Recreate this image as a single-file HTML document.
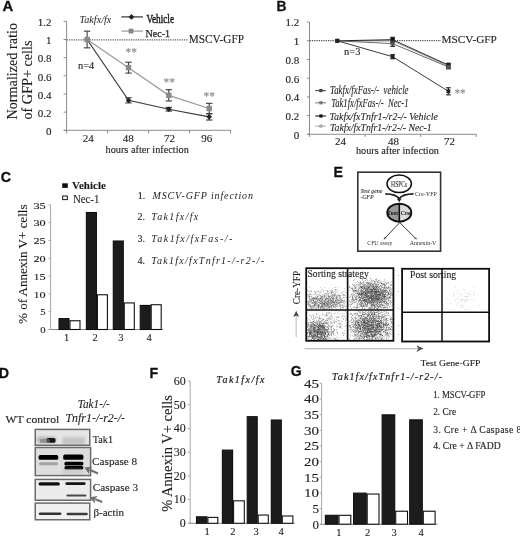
<!DOCTYPE html>
<html><head><meta charset="utf-8"><title>Figure</title>
<style>html,body{margin:0;padding:0;background:#fff;width:520px;height:536px;overflow:hidden}svg{display:block}
</style></head>
<body><svg width="520" height="536" viewBox="0 0 520 536" font-family="Liberation Serif, serif" fill="#1e1e1e">
<defs><filter id="gb" x="0" y="0" width="100%" height="100%"><feGaussianBlur stdDeviation="0.3"/></filter></defs>
<rect width="520" height="536" fill="#fff"/>
<g filter="url(#gb)">
<text x="2.40" y="10.90" font-size="14.8" stroke="#111" stroke-width="0.3" font-family="'Liberation Sans', sans-serif" font-weight="bold" fill="#111">A</text>
<line x1="66.60" y1="21.34" x2="66.60" y2="130.30" stroke="#8c8c8c" stroke-width="1"/>
<line x1="63.80" y1="130.30" x2="231.00" y2="130.30" stroke="#8c8c8c" stroke-width="1"/>
<line x1="63.60" y1="130.30" x2="66.60" y2="130.30" stroke="#8c8c8c" stroke-width="1"/>
<line x1="63.60" y1="112.14" x2="66.60" y2="112.14" stroke="#8c8c8c" stroke-width="1"/>
<line x1="63.60" y1="93.98" x2="66.60" y2="93.98" stroke="#8c8c8c" stroke-width="1"/>
<line x1="63.60" y1="75.82" x2="66.60" y2="75.82" stroke="#8c8c8c" stroke-width="1"/>
<line x1="63.60" y1="57.66" x2="66.60" y2="57.66" stroke="#8c8c8c" stroke-width="1"/>
<line x1="63.60" y1="39.50" x2="66.60" y2="39.50" stroke="#8c8c8c" stroke-width="1"/>
<line x1="63.60" y1="21.34" x2="66.60" y2="21.34" stroke="#8c8c8c" stroke-width="1"/>
<line x1="66.60" y1="130.30" x2="66.60" y2="133.50" stroke="#8c8c8c" stroke-width="1"/>
<line x1="107.60" y1="130.30" x2="107.60" y2="133.50" stroke="#8c8c8c" stroke-width="1"/>
<line x1="148.60" y1="130.30" x2="148.60" y2="133.50" stroke="#8c8c8c" stroke-width="1"/>
<line x1="189.60" y1="130.30" x2="189.60" y2="133.50" stroke="#8c8c8c" stroke-width="1"/>
<line x1="230.60" y1="130.30" x2="230.60" y2="133.50" stroke="#8c8c8c" stroke-width="1"/>
<text x="51.60" y="135.00" font-size="11" stroke="#1e1e1e" stroke-width="0.12" text-anchor="end">0</text>
<text x="51.60" y="116.84" font-size="11" stroke="#1e1e1e" stroke-width="0.12" text-anchor="end">0.2</text>
<text x="51.60" y="98.68" font-size="11" stroke="#1e1e1e" stroke-width="0.12" text-anchor="end">0.4</text>
<text x="51.60" y="80.52" font-size="11" stroke="#1e1e1e" stroke-width="0.12" text-anchor="end">0.6</text>
<text x="51.60" y="62.36" font-size="11" stroke="#1e1e1e" stroke-width="0.12" text-anchor="end">0.8</text>
<text x="51.60" y="44.20" font-size="11" stroke="#1e1e1e" stroke-width="0.12" text-anchor="end">1</text>
<text x="51.60" y="26.04" font-size="11" stroke="#1e1e1e" stroke-width="0.12" text-anchor="end">1.2</text>
<text x="88.20" y="141.90" font-size="11" stroke="#1e1e1e" stroke-width="0.12" text-anchor="middle">24</text>
<text x="128.20" y="141.90" font-size="11" stroke="#1e1e1e" stroke-width="0.12" text-anchor="middle">48</text>
<text x="169.50" y="141.90" font-size="11" stroke="#1e1e1e" stroke-width="0.12" text-anchor="middle">72</text>
<text x="206.80" y="141.90" font-size="11" stroke="#1e1e1e" stroke-width="0.12" text-anchor="middle">96</text>
<text x="105.50" y="153.00" font-size="9.6" stroke="#1e1e1e" stroke-width="0.12" textLength="83.30" lengthAdjust="spacingAndGlyphs">hours after infection</text>
<text x="17.00" y="119.50" font-size="14.2" stroke="#1e1e1e" stroke-width="0.12" textLength="96.50" lengthAdjust="spacingAndGlyphs" transform="rotate(-90 17.00 119.50)">Normalized ratio</text>
<text x="32.00" y="119.50" font-size="14.2" stroke="#1e1e1e" stroke-width="0.12" textLength="79.00" lengthAdjust="spacingAndGlyphs" transform="rotate(-90 32.00 119.50)">of GFP+ cells</text>
<line x1="66.6" y1="39.9" x2="188.5" y2="39.9" stroke="#666" stroke-width="1.3" stroke-dasharray="1.3 1"/>
<text x="188.70" y="42.80" font-size="11.6" stroke="#1e1e1e" stroke-width="0.12" textLength="55.30" lengthAdjust="spacingAndGlyphs">MSCV-GFP</text>
<text x="79.50" y="22.80" font-size="9.6" font-style="italic" textLength="31.80" lengthAdjust="spacingAndGlyphs">Takfx/fx</text>
<text x="78.00" y="68.60" font-size="9.6" stroke="#1e1e1e" stroke-width="0.12" textLength="16.20" lengthAdjust="spacingAndGlyphs">n=4</text>
<line x1="121.40" y1="16.90" x2="143.00" y2="16.90" stroke="#333" stroke-width="1.2"/>
<path d="M131.5 14.0 L134.4 16.9 L131.5 19.8 L128.6 16.9 Z" fill="#222"/>
<text x="146.40" y="22.60" font-size="11.5" stroke="#1e1e1e" stroke-width="0.45" textLength="27.60" lengthAdjust="spacingAndGlyphs">Vehicle</text>
<line x1="121.40" y1="31.10" x2="143.00" y2="31.10" stroke="#9a9a9a" stroke-width="1.2"/>
<rect x="128.60" y="28.70" width="4.80" height="4.80" fill="#888"/>
<text x="145.50" y="36.70" font-size="11.2" stroke="#1e1e1e" stroke-width="0.25" textLength="24.60" lengthAdjust="spacingAndGlyphs">Nec-1</text>
<polyline points="87.10,39.50 128.50,67.65 168.80,95.34 209.20,108.51" fill="none" stroke="#9a9a9a" stroke-width="1.2"/>
<polyline points="87.10,39.50 128.50,100.34 168.80,109.23 209.20,116.86" fill="none" stroke="#3a3a3a" stroke-width="1.2"/>
<path d="M87.10 36.70 L89.90 39.50 L87.10 42.30 L84.30 39.50 Z" fill="#222"/>
<line x1="128.50" y1="97.79" x2="128.50" y2="102.88" stroke="#333" stroke-width="1.1"/>
<line x1="125.30" y1="97.79" x2="131.70" y2="97.79" stroke="#333" stroke-width="1.1"/>
<line x1="125.30" y1="102.88" x2="131.70" y2="102.88" stroke="#333" stroke-width="1.1"/>
<path d="M128.50 97.54 L131.30 100.34 L128.50 103.14 L125.70 100.34 Z" fill="#222"/>
<line x1="168.80" y1="107.42" x2="168.80" y2="111.05" stroke="#333" stroke-width="1.1"/>
<line x1="165.60" y1="107.42" x2="172.00" y2="107.42" stroke="#333" stroke-width="1.1"/>
<line x1="165.60" y1="111.05" x2="172.00" y2="111.05" stroke="#333" stroke-width="1.1"/>
<path d="M168.80 106.43 L171.60 109.23 L168.80 112.03 L166.00 109.23 Z" fill="#222"/>
<line x1="209.20" y1="113.68" x2="209.20" y2="120.04" stroke="#333" stroke-width="1.1"/>
<line x1="206.00" y1="113.68" x2="212.40" y2="113.68" stroke="#333" stroke-width="1.1"/>
<line x1="206.00" y1="120.04" x2="212.40" y2="120.04" stroke="#333" stroke-width="1.1"/>
<path d="M209.20 114.06 L212.00 116.86 L209.20 119.66 L206.40 116.86 Z" fill="#222"/>
<line x1="87.10" y1="31.15" x2="87.10" y2="47.85" stroke="#3a3a3a" stroke-width="1.1"/>
<line x1="83.90" y1="31.15" x2="90.30" y2="31.15" stroke="#3a3a3a" stroke-width="1.1"/>
<line x1="83.90" y1="47.85" x2="90.30" y2="47.85" stroke="#3a3a3a" stroke-width="1.1"/>
<rect x="84.40" y="36.80" width="5.40" height="5.40" fill="#8a8a8a"/>
<line x1="128.50" y1="62.20" x2="128.50" y2="73.10" stroke="#3a3a3a" stroke-width="1.1"/>
<line x1="125.30" y1="62.20" x2="131.70" y2="62.20" stroke="#3a3a3a" stroke-width="1.1"/>
<line x1="125.30" y1="73.10" x2="131.70" y2="73.10" stroke="#3a3a3a" stroke-width="1.1"/>
<rect x="125.80" y="64.95" width="5.40" height="5.40" fill="#8a8a8a"/>
<line x1="168.80" y1="89.71" x2="168.80" y2="100.97" stroke="#3a3a3a" stroke-width="1.1"/>
<line x1="165.60" y1="89.71" x2="172.00" y2="89.71" stroke="#3a3a3a" stroke-width="1.1"/>
<line x1="165.60" y1="100.97" x2="172.00" y2="100.97" stroke="#3a3a3a" stroke-width="1.1"/>
<rect x="166.10" y="92.64" width="5.40" height="5.40" fill="#8a8a8a"/>
<line x1="209.20" y1="103.33" x2="209.20" y2="113.68" stroke="#3a3a3a" stroke-width="1.1"/>
<line x1="206.00" y1="103.33" x2="212.40" y2="103.33" stroke="#3a3a3a" stroke-width="1.1"/>
<line x1="206.00" y1="113.68" x2="212.40" y2="113.68" stroke="#3a3a3a" stroke-width="1.1"/>
<rect x="206.50" y="105.81" width="5.40" height="5.40" fill="#8a8a8a"/>
<text x="131.30" y="55.60" font-size="12" stroke="#8a8a8a" stroke-width="0.12" text-anchor="middle" fill="#8a8a8a" textLength="11.40" lengthAdjust="spacingAndGlyphs">**</text>
<text x="169.30" y="86.20" font-size="12" stroke="#8a8a8a" stroke-width="0.12" text-anchor="middle" fill="#8a8a8a" textLength="11.40" lengthAdjust="spacingAndGlyphs">**</text>
<text x="209.30" y="99.90" font-size="12" stroke="#8a8a8a" stroke-width="0.12" text-anchor="middle" fill="#8a8a8a" textLength="11.40" lengthAdjust="spacingAndGlyphs">**</text>
<text x="276.60" y="10.80" font-size="13.8" stroke="#111" stroke-width="0.3" font-family="'Liberation Sans', sans-serif" font-weight="bold" fill="#111">B</text>
<line x1="309.50" y1="22.10" x2="309.50" y2="134.30" stroke="#8c8c8c" stroke-width="1"/>
<line x1="307.20" y1="134.30" x2="476.50" y2="134.30" stroke="#8c8c8c" stroke-width="1"/>
<line x1="306.80" y1="134.30" x2="309.50" y2="134.30" stroke="#8c8c8c" stroke-width="1"/>
<line x1="306.80" y1="115.60" x2="309.50" y2="115.60" stroke="#8c8c8c" stroke-width="1"/>
<line x1="306.80" y1="96.90" x2="309.50" y2="96.90" stroke="#8c8c8c" stroke-width="1"/>
<line x1="306.80" y1="78.20" x2="309.50" y2="78.20" stroke="#8c8c8c" stroke-width="1"/>
<line x1="306.80" y1="59.50" x2="309.50" y2="59.50" stroke="#8c8c8c" stroke-width="1"/>
<line x1="306.80" y1="40.80" x2="309.50" y2="40.80" stroke="#8c8c8c" stroke-width="1"/>
<line x1="306.80" y1="22.10" x2="309.50" y2="22.10" stroke="#8c8c8c" stroke-width="1"/>
<line x1="309.50" y1="134.30" x2="309.50" y2="136.90" stroke="#8c8c8c" stroke-width="1"/>
<line x1="365.10" y1="134.30" x2="365.10" y2="136.90" stroke="#8c8c8c" stroke-width="1"/>
<line x1="420.70" y1="134.30" x2="420.70" y2="136.90" stroke="#8c8c8c" stroke-width="1"/>
<line x1="476.30" y1="134.30" x2="476.30" y2="136.90" stroke="#8c8c8c" stroke-width="1"/>
<text x="299.20" y="138.60" font-size="11" stroke="#1e1e1e" stroke-width="0.12" text-anchor="end">0</text>
<text x="299.20" y="119.90" font-size="11" stroke="#1e1e1e" stroke-width="0.12" text-anchor="end">0.2</text>
<text x="299.20" y="101.20" font-size="11" stroke="#1e1e1e" stroke-width="0.12" text-anchor="end">0.4</text>
<text x="299.20" y="82.50" font-size="11" stroke="#1e1e1e" stroke-width="0.12" text-anchor="end">0.6</text>
<text x="299.20" y="63.80" font-size="11" stroke="#1e1e1e" stroke-width="0.12" text-anchor="end">0.8</text>
<text x="299.20" y="45.10" font-size="11" stroke="#1e1e1e" stroke-width="0.12" text-anchor="end">1</text>
<text x="299.20" y="26.40" font-size="11" stroke="#1e1e1e" stroke-width="0.12" text-anchor="end">1.2</text>
<text x="340.60" y="144.60" font-size="11" stroke="#1e1e1e" stroke-width="0.12" text-anchor="middle">24</text>
<text x="393.40" y="144.60" font-size="11" stroke="#1e1e1e" stroke-width="0.12" text-anchor="middle">48</text>
<text x="449.60" y="144.60" font-size="11" stroke="#1e1e1e" stroke-width="0.12" text-anchor="middle">72</text>
<text x="355.90" y="154.40" font-size="9.6" stroke="#1e1e1e" stroke-width="0.12" textLength="83.00" lengthAdjust="spacingAndGlyphs">hours after infection</text>
<line x1="309.5" y1="40.60" x2="441" y2="40.60" stroke="#555" stroke-width="1.3" stroke-dasharray="1.3 1"/>
<text x="441.40" y="42.80" font-size="11" stroke="#1e1e1e" stroke-width="0.12" textLength="55.50" lengthAdjust="spacingAndGlyphs">MSCV-GFP</text>
<text x="344.00" y="54.80" font-size="9.6" stroke="#1e1e1e" stroke-width="0.12" textLength="16.40" lengthAdjust="spacingAndGlyphs">n=3</text>
<polyline points="337.30,40.80 392.60,40.80 448.40,66.05" fill="none" stroke="#a0a0a0" stroke-width="1.0"/>
<polyline points="337.30,40.80 392.60,39.68 448.40,65.11" fill="none" stroke="#2a2a2a" stroke-width="1.0"/>
<polyline points="337.30,40.80 392.60,43.61 448.40,66.98" fill="none" stroke="#6a6a6a" stroke-width="1.0"/>
<polyline points="337.30,40.80 392.60,56.70 448.40,91.29" fill="none" stroke="#3a3a3a" stroke-width="1.0"/>
<rect x="335.40" y="38.90" width="3.80" height="3.80" fill="#999"/>
<line x1="392.60" y1="38.93" x2="392.60" y2="42.67" stroke="#333" stroke-width="1.2"/>
<line x1="390.20" y1="38.93" x2="395.00" y2="38.93" stroke="#333" stroke-width="1.2"/>
<line x1="390.20" y1="42.67" x2="395.00" y2="42.67" stroke="#333" stroke-width="1.2"/>
<rect x="390.70" y="38.90" width="3.80" height="3.80" fill="#999"/>
<line x1="448.40" y1="64.18" x2="448.40" y2="67.92" stroke="#333" stroke-width="1.2"/>
<line x1="446.00" y1="64.18" x2="450.80" y2="64.18" stroke="#333" stroke-width="1.2"/>
<line x1="446.00" y1="67.92" x2="450.80" y2="67.92" stroke="#333" stroke-width="1.2"/>
<rect x="446.50" y="64.15" width="3.80" height="3.80" fill="#999"/>
<rect x="335.40" y="38.90" width="3.80" height="3.80" fill="#111"/>
<line x1="392.60" y1="37.34" x2="392.60" y2="42.02" stroke="#333" stroke-width="1.2"/>
<line x1="390.20" y1="37.34" x2="395.00" y2="37.34" stroke="#333" stroke-width="1.2"/>
<line x1="390.20" y1="42.02" x2="395.00" y2="42.02" stroke="#333" stroke-width="1.2"/>
<rect x="390.70" y="37.78" width="3.80" height="3.80" fill="#111"/>
<line x1="448.40" y1="63.24" x2="448.40" y2="66.98" stroke="#333" stroke-width="1.2"/>
<line x1="446.00" y1="63.24" x2="450.80" y2="63.24" stroke="#333" stroke-width="1.2"/>
<line x1="446.00" y1="66.98" x2="450.80" y2="66.98" stroke="#333" stroke-width="1.2"/>
<rect x="446.50" y="63.21" width="3.80" height="3.80" fill="#111"/>
<rect x="335.40" y="38.90" width="3.80" height="3.80" fill="#555"/>
<line x1="392.60" y1="40.80" x2="392.60" y2="46.41" stroke="#333" stroke-width="1.2"/>
<line x1="390.20" y1="40.80" x2="395.00" y2="40.80" stroke="#333" stroke-width="1.2"/>
<line x1="390.20" y1="46.41" x2="395.00" y2="46.41" stroke="#333" stroke-width="1.2"/>
<rect x="390.70" y="41.71" width="3.80" height="3.80" fill="#555"/>
<line x1="448.40" y1="65.11" x2="448.40" y2="68.85" stroke="#333" stroke-width="1.2"/>
<line x1="446.00" y1="65.11" x2="450.80" y2="65.11" stroke="#333" stroke-width="1.2"/>
<line x1="446.00" y1="68.85" x2="450.80" y2="68.85" stroke="#333" stroke-width="1.2"/>
<rect x="446.50" y="65.08" width="3.80" height="3.80" fill="#555"/>
<rect x="335.40" y="38.90" width="3.80" height="3.80" fill="#222"/>
<line x1="392.60" y1="54.64" x2="392.60" y2="58.75" stroke="#333" stroke-width="1.2"/>
<line x1="390.20" y1="54.64" x2="395.00" y2="54.64" stroke="#333" stroke-width="1.2"/>
<line x1="390.20" y1="58.75" x2="395.00" y2="58.75" stroke="#333" stroke-width="1.2"/>
<rect x="390.70" y="54.80" width="3.80" height="3.80" fill="#222"/>
<line x1="448.40" y1="87.74" x2="448.40" y2="94.84" stroke="#333" stroke-width="1.2"/>
<line x1="446.00" y1="87.74" x2="450.80" y2="87.74" stroke="#333" stroke-width="1.2"/>
<line x1="446.00" y1="94.84" x2="450.80" y2="94.84" stroke="#333" stroke-width="1.2"/>
<rect x="446.50" y="89.39" width="3.80" height="3.80" fill="#222"/>
<text x="460.10" y="96.50" font-size="12" stroke="#8a8a8a" stroke-width="0.12" text-anchor="middle" fill="#8a8a8a" textLength="11.20" lengthAdjust="spacingAndGlyphs">**</text>
<line x1="315.30" y1="90.60" x2="325.90" y2="90.60" stroke="#444" stroke-width="1.1"/>
<rect x="319.30" y="89.00" width="3.20" height="3.20" fill="#444"/>
<text x="330.10" y="93.90" font-size="12" stroke="#1e1e1e" stroke-width="0.1" font-style="italic" textLength="78.40" lengthAdjust="spacingAndGlyphs">Takfx/fxFas-/-  vehicle</text>
<line x1="315.30" y1="102.80" x2="325.90" y2="102.80" stroke="#777" stroke-width="1.1"/>
<rect x="319.30" y="101.20" width="3.20" height="3.20" fill="#777"/>
<text x="331.20" y="107.00" font-size="12" stroke="#1e1e1e" stroke-width="0.1" font-style="italic" textLength="77.30" lengthAdjust="spacingAndGlyphs">Tak1fx/fxFas-/-  Nec-1</text>
<line x1="315.30" y1="116.00" x2="325.90" y2="116.00" stroke="#111" stroke-width="1.1"/>
<rect x="319.30" y="114.40" width="3.20" height="3.20" fill="#111"/>
<text x="329.50" y="119.90" font-size="11.2" stroke="#1e1e1e" stroke-width="0.1" font-style="italic" textLength="108.40" lengthAdjust="spacingAndGlyphs">Takfx/fxTnfr1-/r2-/- Vehicle</text>
<line x1="315.30" y1="126.10" x2="325.90" y2="126.10" stroke="#aaa" stroke-width="1.1"/>
<rect x="319.30" y="124.50" width="3.20" height="3.20" fill="#aaa"/>
<text x="330.00" y="130.70" font-size="11.2" stroke="#1e1e1e" stroke-width="0.1" font-style="italic" textLength="101.70" lengthAdjust="spacingAndGlyphs">Takfx/fxTnfr1-/r2-/- Nec-1</text>
<text x="0.80" y="181.80" font-size="14.2" stroke="#111" stroke-width="0.3" font-family="'Liberation Sans', sans-serif" font-weight="bold" fill="#111">C</text>
<line x1="50.60" y1="204.90" x2="50.60" y2="329.50" stroke="#a8a8a8" stroke-width="1"/>
<line x1="48.50" y1="329.50" x2="163.00" y2="329.50" stroke="#888" stroke-width="1.1"/>
<line x1="48.60" y1="329.50" x2="50.60" y2="329.50" stroke="#a8a8a8" stroke-width="1"/>
<line x1="48.60" y1="311.70" x2="50.60" y2="311.70" stroke="#a8a8a8" stroke-width="1"/>
<line x1="48.60" y1="293.90" x2="50.60" y2="293.90" stroke="#a8a8a8" stroke-width="1"/>
<line x1="48.60" y1="276.10" x2="50.60" y2="276.10" stroke="#a8a8a8" stroke-width="1"/>
<line x1="48.60" y1="258.30" x2="50.60" y2="258.30" stroke="#a8a8a8" stroke-width="1"/>
<line x1="48.60" y1="240.50" x2="50.60" y2="240.50" stroke="#a8a8a8" stroke-width="1"/>
<line x1="48.60" y1="222.70" x2="50.60" y2="222.70" stroke="#a8a8a8" stroke-width="1"/>
<line x1="48.60" y1="204.90" x2="50.60" y2="204.90" stroke="#a8a8a8" stroke-width="1"/>
<text x="45.60" y="333.10" font-size="9" stroke="#1e1e1e" stroke-width="0.12" text-anchor="end" textLength="5.30" lengthAdjust="spacingAndGlyphs">0</text>
<text x="45.60" y="315.30" font-size="9" stroke="#1e1e1e" stroke-width="0.12" text-anchor="end" textLength="5.30" lengthAdjust="spacingAndGlyphs">5</text>
<text x="45.60" y="297.50" font-size="9" stroke="#1e1e1e" stroke-width="0.12" text-anchor="end" textLength="12.20" lengthAdjust="spacingAndGlyphs">10</text>
<text x="45.60" y="279.70" font-size="9" stroke="#1e1e1e" stroke-width="0.12" text-anchor="end" textLength="12.20" lengthAdjust="spacingAndGlyphs">15</text>
<text x="45.60" y="261.90" font-size="9" stroke="#1e1e1e" stroke-width="0.12" text-anchor="end" textLength="12.20" lengthAdjust="spacingAndGlyphs">20</text>
<text x="45.60" y="244.10" font-size="9" stroke="#1e1e1e" stroke-width="0.12" text-anchor="end" textLength="12.20" lengthAdjust="spacingAndGlyphs">25</text>
<text x="45.60" y="226.30" font-size="9" stroke="#1e1e1e" stroke-width="0.12" text-anchor="end" textLength="12.20" lengthAdjust="spacingAndGlyphs">30</text>
<text x="45.60" y="208.50" font-size="9" stroke="#1e1e1e" stroke-width="0.12" text-anchor="end" textLength="12.20" lengthAdjust="spacingAndGlyphs">35</text>
<text x="26.80" y="324.00" font-size="13.5" stroke="#1e1e1e" stroke-width="0.12" textLength="119.50" lengthAdjust="spacingAndGlyphs" transform="rotate(-90 26.80 324.00)">% of Annexin V+ cells</text>
<rect x="59.00" y="318.61" width="10.00" height="10.89" fill="#1f1f1f" stroke="#111" stroke-width="1.1"/>
<rect x="70.00" y="320.74" width="10.00" height="8.76" fill="#fff" stroke="#111" stroke-width="1.1"/>
<rect x="86.40" y="212.52" width="10.00" height="116.98" fill="#1f1f1f" stroke="#111" stroke-width="1.1"/>
<rect x="97.40" y="294.76" width="10.00" height="34.74" fill="#fff" stroke="#111" stroke-width="1.1"/>
<rect x="113.30" y="241.00" width="10.00" height="88.50" fill="#1f1f1f" stroke="#111" stroke-width="1.1"/>
<rect x="124.30" y="302.94" width="10.00" height="26.56" fill="#fff" stroke="#111" stroke-width="1.1"/>
<rect x="140.20" y="305.44" width="10.00" height="24.06" fill="#1f1f1f" stroke="#111" stroke-width="1.1"/>
<rect x="151.20" y="304.72" width="10.00" height="24.78" fill="#fff" stroke="#111" stroke-width="1.1"/>
<text x="66.70" y="341.00" font-size="10.5" stroke="#1e1e1e" stroke-width="0.12" text-anchor="middle">1</text>
<text x="95.20" y="341.00" font-size="10.5" stroke="#1e1e1e" stroke-width="0.12" text-anchor="middle">2</text>
<text x="120.90" y="341.00" font-size="10.5" stroke="#1e1e1e" stroke-width="0.12" text-anchor="middle">3</text>
<text x="149.20" y="341.00" font-size="10.5" stroke="#1e1e1e" stroke-width="0.12" text-anchor="middle">4</text>
<rect x="62.20" y="183.30" width="5.60" height="4.60" fill="#111"/>
<text x="72.10" y="188.50" font-size="10.4" stroke="#1e1e1e" stroke-width="0.12" font-weight="bold" textLength="33.70" lengthAdjust="spacingAndGlyphs">Vehicle</text>
<rect x="62.70" y="196.00" width="4.60" height="3.60" fill="#fff" stroke="#111" stroke-width="1"/>
<text x="72.90" y="202.60" font-size="11.5" stroke="#1e1e1e" stroke-width="0.12" textLength="26.50" lengthAdjust="spacingAndGlyphs">Nec-1</text>
<text x="137.80" y="199.10" font-size="10" stroke="#1e1e1e" stroke-width="0.12">1.</text>
<text x="152.50" y="199.10" font-size="10" font-style="italic" textLength="100.40" lengthAdjust="spacing">MSCV-GFP infection</text>
<text x="137.40" y="220.30" font-size="10" stroke="#1e1e1e" stroke-width="0.12">2.</text>
<text x="151.20" y="220.30" font-size="10" font-style="italic" textLength="47.10" lengthAdjust="spacing">Tak1fx/fx</text>
<text x="137.40" y="241.80" font-size="10" stroke="#1e1e1e" stroke-width="0.12">3.</text>
<text x="151.20" y="241.80" font-size="10" font-style="italic" textLength="81.10" lengthAdjust="spacing">Tak1fx/fxFas-/-</text>
<text x="137.40" y="263.90" font-size="10" stroke="#1e1e1e" stroke-width="0.12">4.</text>
<text x="151.20" y="263.90" font-size="10" font-style="italic" textLength="112.80" lengthAdjust="spacing">Tak1fx/fxTnfr1-/-r2-/-</text>
<text x="-1.20" y="377.80" font-size="14.2" stroke="#111" stroke-width="0.3" font-family="'Liberation Sans', sans-serif" font-weight="bold" fill="#111">D</text>
<text x="77.80" y="407.80" font-size="12" stroke="#1e1e1e" stroke-width="0.1" font-style="italic" textLength="32.00" lengthAdjust="spacingAndGlyphs">Tak1-/-</text>
<text x="5.50" y="423.00" font-size="10" stroke="#1e1e1e" stroke-width="0.12" textLength="53.70" lengthAdjust="spacingAndGlyphs">WT control</text>
<text x="65.50" y="422.00" font-size="12" stroke="#1e1e1e" stroke-width="0.1" font-style="italic" textLength="59.50" lengthAdjust="spacingAndGlyphs">Tnfr1-/-r2-/-</text>
<defs><filter id="bl" x="-30%" y="-150%" width="160%" height="400%"><feGaussianBlur stdDeviation="0.75"/></filter><filter id="bl2" x="-30%" y="-60%" width="160%" height="220%"><feGaussianBlur stdDeviation="1.8"/></filter><filter id="sb" x="-5%" y="-5%" width="110%" height="110%"><feGaussianBlur stdDeviation="0.35"/></filter></defs>
<rect x="35.25" y="429.40" width="54.50" height="15.85" fill="#e6e6e6"/>
<rect x="35.25" y="447.50" width="55.35" height="28.10" fill="#dedede"/>
<rect x="35.25" y="479.40" width="55.35" height="20.85" fill="#ececec"/>
<rect x="35.25" y="503.10" width="54.50" height="16.65" fill="#f0f0f0"/>
<rect x="37.00" y="436.50" width="19.00" height="6.50" rx="1.60" fill="#999" opacity="0.6" filter="url(#bl2)"/>
<rect x="46.50" y="438.00" width="9.00" height="4.80" rx="1.60" fill="#111" opacity="0.95" filter="url(#bl)"/>
<rect x="40.00" y="439.00" width="10.00" height="4.00" rx="1.60" fill="#777" opacity="0.6" filter="url(#bl)"/>
<rect x="62.00" y="437.00" width="23.00" height="8.00" rx="1.60" fill="#aaa" opacity="0.55" filter="url(#bl2)"/>
<rect x="38.60" y="455.00" width="19.60" height="4.80" rx="1.60" fill="#060606" opacity="1" filter="url(#bl)"/>
<rect x="63.20" y="454.40" width="20.20" height="5.40" rx="1.60" fill="#040404" opacity="1" filter="url(#bl)"/>
<rect x="39.00" y="462.30" width="19.00" height="2.90" rx="1.45" fill="#999" opacity="0.85" filter="url(#bl)"/>
<rect x="64.40" y="461.70" width="19.00" height="3.80" rx="1.60" fill="#050505" opacity="1" filter="url(#bl)"/>
<rect x="64.40" y="466.10" width="19.00" height="3.40" rx="1.60" fill="#050505" opacity="1" filter="url(#bl)"/>
<rect x="62.00" y="469.00" width="22.00" height="6.00" rx="1.60" fill="#bbb" opacity="0.45" filter="url(#bl2)"/>
<rect x="38.60" y="482.20" width="21.20" height="3.40" rx="1.60" fill="#0c0c0c" opacity="1" filter="url(#bl)"/>
<rect x="65.40" y="482.20" width="20.20" height="2.70" rx="1.35" fill="#151515" opacity="1" filter="url(#bl)"/>
<rect x="66.30" y="494.40" width="20.20" height="2.20" rx="1.10" fill="#4a4a4a" opacity="1" filter="url(#bl)"/>
<rect x="38.80" y="512.40" width="22.70" height="2.60" rx="1.30" fill="#333" opacity="1" filter="url(#bl)"/>
<rect x="66.50" y="512.80" width="21.30" height="2.40" rx="1.20" fill="#3a3a3a" opacity="1" filter="url(#bl)"/>
<rect x="35.25" y="429.40" width="54.50" height="15.85" fill="none" stroke="#6a6a6a" stroke-width="1.5"/>
<rect x="35.25" y="447.50" width="55.35" height="28.10" fill="none" stroke="#6a6a6a" stroke-width="1.5"/>
<rect x="35.25" y="479.40" width="55.35" height="20.85" fill="none" stroke="#6a6a6a" stroke-width="1.5"/>
<rect x="35.25" y="503.10" width="54.50" height="16.65" fill="none" stroke="#6a6a6a" stroke-width="1.5"/>
<text x="92.80" y="443.10" font-size="11" stroke="#1e1e1e" stroke-width="0.12" textLength="20.20" lengthAdjust="spacingAndGlyphs">Tak1</text>
<text x="92.10" y="465.00" font-size="11" stroke="#1e1e1e" stroke-width="0.12" textLength="45.10" lengthAdjust="spacingAndGlyphs">Caspase 8</text>
<text x="92.80" y="490.60" font-size="11" stroke="#1e1e1e" stroke-width="0.12" textLength="45.30" lengthAdjust="spacingAndGlyphs">Caspase 3</text>
<text x="93.40" y="516.30" font-size="11" stroke="#1e1e1e" stroke-width="0.12" textLength="30.70" lengthAdjust="spacingAndGlyphs">β-actin</text>
<line x1="98.00" y1="473.60" x2="89.77" y2="469.87" stroke="#707070" stroke-width="2.2"/>
<path d="M84.30 467.40 L92.33 466.64 L89.31 469.67 L89.03 473.93 Z" fill="#707070"/>
<line x1="102.20" y1="502.00" x2="95.21" y2="499.34" stroke="#707070" stroke-width="2.2"/>
<path d="M89.60 497.20 L97.57 495.95 L94.74 499.16 L94.72 503.43 Z" fill="#707070"/>
<text x="333.40" y="176.50" font-size="14.2" stroke="#111" stroke-width="0.3" font-family="'Liberation Sans', sans-serif" font-weight="bold" fill="#111">E</text>
<rect x="357.80" y="172.20" width="82.80" height="79.00" fill="#fff" stroke="#333" stroke-width="1.6"/>
<ellipse cx="399.2" cy="183.8" rx="12.2" ry="8.8" fill="#fff" stroke="#111" stroke-width="1.5"/>
<text x="399.20" y="187.00" font-size="7.8" stroke="#333" stroke-width="0.12" text-anchor="middle" fill="#333" textLength="16.20" lengthAdjust="spacingAndGlyphs">HSPCs</text>
<path d="M385.3 193.8 Q396 194 399.2 198.5 Q402.4 194 413.6 193.8" fill="none" stroke="#222" stroke-width="1.8"/>
<path d="M396.8 198.6 L401.6 198.6 L399.2 202.2 Z" fill="#222"/>
<text x="360.20" y="193.30" font-size="6.8" font-style="italic" font-weight="bold" fill="#444" textLength="22.40" lengthAdjust="spacingAndGlyphs">Test gene</text>
<text x="360.30" y="199.20" font-size="6.8" font-style="italic" font-weight="bold" fill="#444" textLength="13.20" lengthAdjust="spacingAndGlyphs">-GFP</text>
<text x="415.00" y="195.60" font-size="7" fill="#333" textLength="22.00" lengthAdjust="spacingAndGlyphs">Cre-YFP</text>
<path d="M399.3 203.7 A12 9 0 0 0 399.3 221.7 Z" fill="#9a9a9a"/>
<path d="M399.3 203.7 A12 9 0 0 1 399.3 221.7 Z" fill="#dcdcdc"/>
<ellipse cx="399.3" cy="212.7" rx="12" ry="9" fill="none" stroke="#111" stroke-width="1.9"/>
<line x1="399.30" y1="203.70" x2="399.30" y2="221.70" stroke="#111" stroke-width="1.6"/>
<text x="392.60" y="214.80" font-size="6.2" stroke="#111" stroke-width="0.12" text-anchor="middle" fill="#111" textLength="11.00" lengthAdjust="spacingAndGlyphs">Test</text>
<text x="405.40" y="214.80" font-size="6.2" stroke="#111" stroke-width="0.12" text-anchor="middle" fill="#111" textLength="9.50" lengthAdjust="spacingAndGlyphs">Cre</text>
<line x1="399.70" y1="222.60" x2="384.98" y2="238.15" stroke="#222" stroke-width="0.9"/>
<path d="M383.60 239.60 L384.50 236.32 L384.63 238.51 L386.82 238.52 Z" fill="#222"/>
<line x1="399.70" y1="222.60" x2="415.38" y2="238.19" stroke="#222" stroke-width="0.9"/>
<path d="M416.80 239.60 L413.54 238.62 L415.74 238.54 L415.80 236.35 Z" fill="#222"/>
<text x="367.30" y="245.20" font-size="6.6" fill="#333" textLength="25.20" lengthAdjust="spacingAndGlyphs">CFU assay</text>
<text x="409.80" y="245.20" font-size="6.6" fill="#333" textLength="26.60" lengthAdjust="spacingAndGlyphs">Annexin-V</text>
<path d="M318.9 304.8h.6v.6h-.6zM319.3 300.3h.6v.6h-.6zM310.8 300.8h.6v.6h-.6zM335.3 304.3h.6v.6h-.6zM334.4 303.4h.6v.6h-.6zM326.7 303.0h.6v.6h-.6zM328.1 304.7h.6v.6h-.6zM311.3 299.4h.6v.6h-.6zM325.7 301.7h.6v.6h-.6zM328.3 298.5h.6v.6h-.6zM325.7 304.2h.6v.6h-.6zM328.7 308.6h.6v.6h-.6zM314.6 297.9h.6v.6h-.6zM317.9 301.4h.6v.6h-.6zM329.6 303.4h.6v.6h-.6zM316.6 296.7h.6v.6h-.6zM315.8 308.7h.6v.6h-.6zM312.3 303.3h.6v.6h-.6zM327.1 293.8h.6v.6h-.6zM320.7 297.5h.6v.6h-.6zM328.0 301.7h.6v.6h-.6zM330.0 307.2h.6v.6h-.6zM339.3 304.0h.6v.6h-.6zM323.4 294.9h.6v.6h-.6zM329.4 298.6h.6v.6h-.6zM316.6 295.0h.6v.6h-.6zM310.4 299.1h.6v.6h-.6zM337.5 290.8h.6v.6h-.6zM339.3 305.2h.6v.6h-.6zM326.3 298.0h.6v.6h-.6zM308.6 307.4h.6v.6h-.6zM335.2 302.9h.6v.6h-.6zM324.9 304.4h.6v.6h-.6zM341.1 305.4h.6v.6h-.6zM328.2 305.0h.6v.6h-.6zM333.5 304.9h.6v.6h-.6zM332.1 292.0h.6v.6h-.6zM319.8 307.6h.6v.6h-.6zM328.6 301.2h.6v.6h-.6zM325.9 305.6h.6v.6h-.6zM323.4 308.3h.6v.6h-.6zM314.1 299.7h.6v.6h-.6zM334.5 302.1h.6v.6h-.6zM311.4 307.2h.6v.6h-.6zM339.6 299.6h.6v.6h-.6zM320.2 300.4h.6v.6h-.6zM338.9 296.4h.6v.6h-.6zM337.1 295.0h.6v.6h-.6zM312.6 305.5h.6v.6h-.6zM335.5 306.7h.6v.6h-.6zM326.1 302.8h.6v.6h-.6zM323.8 305.2h.6v.6h-.6zM319.9 303.5h.6v.6h-.6zM328.9 302.0h.6v.6h-.6zM331.2 305.1h.6v.6h-.6zM316.9 300.0h.6v.6h-.6zM321.8 307.1h.6v.6h-.6zM318.0 304.1h.6v.6h-.6zM344.0 287.9h.6v.6h-.6zM308.5 303.3h.6v.6h-.6zM326.8 303.3h.6v.6h-.6zM316.8 305.6h.6v.6h-.6zM325.4 299.1h.6v.6h-.6zM315.3 301.5h.6v.6h-.6zM319.3 301.7h.6v.6h-.6zM334.1 295.6h.6v.6h-.6zM321.2 307.2h.6v.6h-.6zM317.9 305.4h.6v.6h-.6zM335.1 287.2h.6v.6h-.6zM335.1 294.0h.6v.6h-.6zM330.2 293.8h.6v.6h-.6zM324.1 308.6h.6v.6h-.6zM320.2 303.1h.6v.6h-.6zM331.6 302.8h.6v.6h-.6zM334.6 300.4h.6v.6h-.6zM333.0 300.5h.6v.6h-.6zM323.6 305.9h.6v.6h-.6zM324.7 305.5h.6v.6h-.6zM329.4 296.7h.6v.6h-.6zM309.7 293.9h.6v.6h-.6zM337.2 306.1h.6v.6h-.6zM339.7 296.8h.6v.6h-.6zM322.0 295.7h.6v.6h-.6zM333.9 301.0h.6v.6h-.6zM320.8 298.7h.6v.6h-.6zM326.8 304.3h.6v.6h-.6zM340.0 296.4h.6v.6h-.6zM339.4 301.0h.6v.6h-.6zM313.1 307.6h.6v.6h-.6zM323.4 302.7h.6v.6h-.6zM339.1 300.6h.6v.6h-.6zM325.8 298.6h.6v.6h-.6zM321.9 306.6h.6v.6h-.6zM321.3 307.7h.6v.6h-.6zM313.9 306.8h.6v.6h-.6zM307.2 301.9h.6v.6h-.6zM319.7 301.8h.6v.6h-.6zM314.9 303.3h.6v.6h-.6zM343.5 302.2h.6v.6h-.6zM328.4 307.5h.6v.6h-.6zM319.6 295.1h.6v.6h-.6zM315.3 307.9h.6v.6h-.6zM334.1 306.4h.6v.6h-.6zM322.1 306.4h.6v.6h-.6zM324.0 295.5h.6v.6h-.6zM333.1 298.9h.6v.6h-.6zM311.2 297.8h.6v.6h-.6zM307.8 304.0h.6v.6h-.6zM314.3 291.3h.6v.6h-.6zM330.7 300.5h.6v.6h-.6zM325.5 299.5h.6v.6h-.6zM331.4 306.1h.6v.6h-.6zM330.0 303.8h.6v.6h-.6zM338.0 305.6h.6v.6h-.6zM327.4 290.5h.6v.6h-.6zM318.4 299.4h.6v.6h-.6zM345.3 292.3h.6v.6h-.6zM310.9 305.8h.6v.6h-.6zM344.6 301.3h.6v.6h-.6zM328.7 307.0h.6v.6h-.6zM311.1 301.5h.6v.6h-.6zM325.5 306.5h.6v.6h-.6zM321.6 300.9h.6v.6h-.6zM309.8 300.0h.6v.6h-.6zM332.7 302.6h.6v.6h-.6zM311.8 297.4h.6v.6h-.6zM329.6 287.7h.6v.6h-.6zM329.5 304.6h.6v.6h-.6zM342.2 304.4h.6v.6h-.6zM321.2 304.9h.6v.6h-.6zM325.9 298.1h.6v.6h-.6zM325.5 303.0h.6v.6h-.6zM317.2 296.6h.6v.6h-.6zM307.7 294.6h.6v.6h-.6zM342.4 307.4h.6v.6h-.6zM343.9 306.5h.6v.6h-.6zM311.5 303.4h.6v.6h-.6zM321.3 304.9h.6v.6h-.6zM313.3 301.3h.6v.6h-.6zM327.5 304.1h.6v.6h-.6zM329.7 303.1h.6v.6h-.6zM318.1 306.3h.6v.6h-.6zM322.6 297.5h.6v.6h-.6zM314.5 302.0h.6v.6h-.6zM320.7 302.9h.6v.6h-.6zM322.0 303.0h.6v.6h-.6zM320.4 295.1h.6v.6h-.6zM327.1 307.8h.6v.6h-.6zM327.2 301.0h.6v.6h-.6zM327.4 296.7h.6v.6h-.6zM310.8 306.1h.6v.6h-.6zM309.0 287.5h.6v.6h-.6zM317.4 294.5h.6v.6h-.6zM312.8 304.9h.6v.6h-.6zM328.0 303.0h.6v.6h-.6zM339.8 305.9h.6v.6h-.6zM321.7 305.3h.6v.6h-.6zM341.9 307.3h.6v.6h-.6zM334.3 296.0h.6v.6h-.6zM320.2 306.0h.6v.6h-.6zM318.4 307.9h.6v.6h-.6zM329.2 307.0h.6v.6h-.6zM336.9 300.8h.6v.6h-.6zM317.9 306.8h.6v.6h-.6zM333.8 302.0h.6v.6h-.6zM308.0 303.0h.6v.6h-.6zM326.3 308.2h.6v.6h-.6zM331.4 302.1h.6v.6h-.6zM332.2 305.0h.6v.6h-.6zM324.5 302.3h.6v.6h-.6zM319.1 305.8h.6v.6h-.6zM309.3 298.5h.6v.6h-.6zM322.1 293.9h.6v.6h-.6zM316.8 291.0h.6v.6h-.6zM313.8 305.1h.6v.6h-.6zM328.8 301.7h.6v.6h-.6zM319.2 294.2h.6v.6h-.6zM343.9 304.8h.6v.6h-.6zM335.1 297.1h.6v.6h-.6zM319.8 292.0h.6v.6h-.6zM331.4 307.1h.6v.6h-.6zM329.6 292.3h.6v.6h-.6zM314.4 294.3h.6v.6h-.6zM322.4 303.4h.6v.6h-.6zM329.6 305.9h.6v.6h-.6zM340.0 308.4h.6v.6h-.6zM309.3 296.1h.6v.6h-.6zM321.0 302.0h.6v.6h-.6zM327.9 293.3h.6v.6h-.6zM307.1 301.9h.6v.6h-.6zM319.6 300.3h.6v.6h-.6zM321.2 297.8h.6v.6h-.6zM330.4 303.9h.6v.6h-.6zM320.9 298.3h.6v.6h-.6zM319.9 287.0h.6v.6h-.6zM310.2 302.2h.6v.6h-.6zM323.8 294.4h.6v.6h-.6zM319.0 300.3h.6v.6h-.6zM327.5 305.4h.6v.6h-.6zM321.6 297.3h.6v.6h-.6zM320.3 301.6h.6v.6h-.6zM330.8 303.6h.6v.6h-.6zM313.3 294.6h.6v.6h-.6zM317.5 297.9h.6v.6h-.6zM308.7 301.4h.6v.6h-.6zM316.1 302.6h.6v.6h-.6zM328.3 299.7h.6v.6h-.6zM335.2 302.7h.6v.6h-.6zM335.4 288.9h.6v.6h-.6zM313.0 303.4h.6v.6h-.6zM331.2 307.2h.6v.6h-.6zM328.1 301.1h.6v.6h-.6zM328.1 296.1h.6v.6h-.6zM336.2 296.4h.6v.6h-.6zM319.3 302.1h.6v.6h-.6zM336.0 302.1h.6v.6h-.6zM312.3 303.4h.6v.6h-.6zM329.0 305.9h.6v.6h-.6zM342.0 302.1h.6v.6h-.6zM325.2 299.6h.6v.6h-.6zM339.0 298.1h.6v.6h-.6zM330.1 299.4h.6v.6h-.6zM313.7 306.0h.6v.6h-.6zM338.0 301.9h.6v.6h-.6zM313.9 306.5h.6v.6h-.6zM321.4 303.7h.6v.6h-.6zM340.3 308.2h.6v.6h-.6zM322.0 306.3h.6v.6h-.6zM314.2 301.8h.6v.6h-.6zM338.4 295.3h.6v.6h-.6zM336.1 299.5h.6v.6h-.6zM321.3 300.3h.6v.6h-.6zM320.5 296.0h.6v.6h-.6zM322.3 294.1h.6v.6h-.6zM321.1 303.7h.6v.6h-.6zM327.6 300.7h.6v.6h-.6zM311.2 302.9h.6v.6h-.6zM331.2 301.4h.6v.6h-.6zM316.3 298.1h.6v.6h-.6zM310.8 300.1h.6v.6h-.6zM325.5 304.8h.6v.6h-.6zM313.5 302.1h.6v.6h-.6zM315.7 302.9h.6v.6h-.6zM323.9 304.2h.6v.6h-.6zM319.1 304.0h.6v.6h-.6zM322.6 306.2h.6v.6h-.6zM322.0 296.3h.6v.6h-.6zM309.5 305.5h.6v.6h-.6zM314.2 305.5h.6v.6h-.6zM330.9 303.7h.6v.6h-.6zM328.1 301.4h.6v.6h-.6zM327.5 299.1h.6v.6h-.6zM320.8 306.1h.6v.6h-.6zM311.5 305.5h.6v.6h-.6zM344.4 298.9h.6v.6h-.6zM323.8 301.2h.6v.6h-.6zM340.5 303.7h.6v.6h-.6zM332.8 298.2h.6v.6h-.6zM321.8 301.9h.6v.6h-.6zM332.8 292.4h.6v.6h-.6zM330.9 301.3h.6v.6h-.6zM327.4 304.0h.6v.6h-.6zM339.9 298.8h.6v.6h-.6zM309.7 294.5h.6v.6h-.6zM307.3 303.8h.6v.6h-.6zM342.3 304.4h.6v.6h-.6zM315.8 298.3h.6v.6h-.6zM328.3 305.0h.6v.6h-.6zM309.8 295.6h.6v.6h-.6zM325.5 303.4h.6v.6h-.6zM315.5 304.5h.6v.6h-.6zM320.6 301.5h.6v.6h-.6zM317.8 307.8h.6v.6h-.6zM338.7 300.0h.6v.6h-.6zM332.2 297.8h.6v.6h-.6zM322.9 306.1h.6v.6h-.6zM340.2 299.9h.6v.6h-.6zM321.1 303.1h.6v.6h-.6zM313.9 304.0h.6v.6h-.6zM308.4 291.1h.6v.6h-.6zM322.5 303.4h.6v.6h-.6zM315.4 306.9h.6v.6h-.6zM318.7 298.7h.6v.6h-.6zM327.7 293.4h.6v.6h-.6zM313.9 301.9h.6v.6h-.6zM332.2 301.1h.6v.6h-.6zM325.7 298.4h.6v.6h-.6zM314.3 302.1h.6v.6h-.6zM324.1 307.6h.6v.6h-.6zM307.2 290.4h.6v.6h-.6zM329.3 306.4h.6v.6h-.6zM324.5 303.4h.6v.6h-.6zM333.2 304.0h.6v.6h-.6zM342.0 295.2h.6v.6h-.6zM331.7 300.0h.6v.6h-.6zM321.9 300.6h.6v.6h-.6zM316.0 297.4h.6v.6h-.6zM314.4 305.5h.6v.6h-.6zM322.4 302.4h.6v.6h-.6zM319.9 307.0h.6v.6h-.6zM327.9 301.2h.6v.6h-.6zM330.0 301.2h.6v.6h-.6zM327.6 296.7h.6v.6h-.6zM334.9 303.9h.6v.6h-.6zM326.0 306.9h.6v.6h-.6zM324.4 301.2h.6v.6h-.6zM322.4 300.4h.6v.6h-.6zM326.2 302.4h.6v.6h-.6zM330.1 300.0h.6v.6h-.6zM321.6 290.2h.6v.6h-.6zM316.9 305.7h.6v.6h-.6zM338.0 300.0h.6v.6h-.6zM318.1 306.0h.6v.6h-.6zM342.1 302.2h.6v.6h-.6zM336.7 298.1h.6v.6h-.6zM324.5 301.6h.6v.6h-.6zM323.4 308.2h.6v.6h-.6zM315.1 304.7h.6v.6h-.6zM309.3 304.7h.6v.6h-.6zM328.9 300.5h.6v.6h-.6zM328.4 293.5h.6v.6h-.6zM331.1 293.5h.6v.6h-.6zM313.6 298.9h.6v.6h-.6zM317.2 306.7h.6v.6h-.6zM323.0 299.8h.6v.6h-.6zM322.1 304.0h.6v.6h-.6zM336.9 303.5h.6v.6h-.6zM321.5 304.3h.6v.6h-.6zM333.6 305.7h.6v.6h-.6zM318.7 296.2h.6v.6h-.6zM323.2 307.7h.6v.6h-.6zM308.9 296.4h.6v.6h-.6zM321.7 291.3h.6v.6h-.6zM318.9 299.6h.6v.6h-.6zM327.4 298.1h.6v.6h-.6zM311.4 299.8h.6v.6h-.6zM321.4 298.3h.6v.6h-.6zM322.1 306.1h.6v.6h-.6zM312.6 299.7h.6v.6h-.6zM313.3 301.8h.6v.6h-.6zM328.3 294.5h.6v.6h-.6zM327.6 301.9h.6v.6h-.6zM336.3 291.7h.6v.6h-.6zM331.7 303.2h.6v.6h-.6zM327.7 304.4h.6v.6h-.6zM337.6 300.8h.6v.6h-.6zM332.5 299.7h.6v.6h-.6zM330.7 297.5h.6v.6h-.6zM327.3 301.1h.6v.6h-.6zM308.3 297.7h.6v.6h-.6zM324.3 307.2h.6v.6h-.6zM327.1 304.9h.6v.6h-.6zM317.3 299.0h.6v.6h-.6zM332.7 302.3h.6v.6h-.6zM318.7 298.8h.6v.6h-.6zM318.9 305.4h.6v.6h-.6zM326.2 295.3h.6v.6h-.6zM327.1 303.0h.6v.6h-.6zM310.0 306.3h.6v.6h-.6zM318.6 300.2h.6v.6h-.6zM313.7 304.4h.6v.6h-.6zM316.1 308.6h.6v.6h-.6zM314.2 306.5h.6v.6h-.6zM316.8 304.8h.6v.6h-.6zM320.9 298.3h.6v.6h-.6zM315.1 302.8h.6v.6h-.6zM337.1 302.6h.6v.6h-.6zM336.2 306.1h.6v.6h-.6zM312.2 306.7h.6v.6h-.6zM328.0 305.6h.6v.6h-.6zM332.8 306.0h.6v.6h-.6zM332.6 288.5h.6v.6h-.6zM324.0 304.7h.6v.6h-.6zM318.0 302.2h.6v.6h-.6zM332.6 299.6h.6v.6h-.6zM335.8 297.7h.6v.6h-.6zM325.2 299.1h.6v.6h-.6zM323.9 298.2h.6v.6h-.6zM325.6 298.9h.6v.6h-.6zM324.4 307.4h.6v.6h-.6zM310.3 301.4h.6v.6h-.6zM328.5 304.9h.6v.6h-.6zM318.0 290.4h.6v.6h-.6zM336.9 303.8h.6v.6h-.6zM322.2 300.5h.6v.6h-.6zM325.2 299.7h.6v.6h-.6zM309.7 297.9h.6v.6h-.6zM314.8 298.6h.6v.6h-.6zM308.1 305.5h.6v.6h-.6zM309.8 303.9h.6v.6h-.6zM338.5 303.1h.6v.6h-.6zM313.2 302.3h.6v.6h-.6zM323.8 292.5h.6v.6h-.6zM314.7 302.9h.6v.6h-.6zM316.4 302.4h.6v.6h-.6zM330.8 306.2h.6v.6h-.6zM332.9 305.2h.6v.6h-.6zM318.5 301.9h.6v.6h-.6zM318.7 300.3h.6v.6h-.6zM319.8 292.5h.6v.6h-.6zM318.0 301.9h.6v.6h-.6zM310.3 301.9h.6v.6h-.6zM328.2 301.1h.6v.6h-.6zM319.5 292.0h.6v.6h-.6zM328.2 300.3h.6v.6h-.6zM328.6 289.7h.6v.6h-.6zM332.2 304.0h.6v.6h-.6zM322.3 298.8h.6v.6h-.6zM329.7 299.3h.6v.6h-.6zM324.7 299.2h.6v.6h-.6zM324.4 306.1h.6v.6h-.6zM311.5 301.8h.6v.6h-.6zM329.4 302.8h.6v.6h-.6zM311.1 291.4h.6v.6h-.6zM333.1 306.5h.6v.6h-.6zM314.6 298.1h.6v.6h-.6zM332.7 297.0h.6v.6h-.6zM313.8 298.0h.6v.6h-.6zM324.8 297.9h.6v.6h-.6zM337.7 301.6h.6v.6h-.6zM315.0 303.2h.6v.6h-.6zM321.8 300.3h.6v.6h-.6zM325.9 298.2h.6v.6h-.6zM321.7 302.3h.6v.6h-.6zM328.7 302.7h.6v.6h-.6zM312.5 298.1h.6v.6h-.6zM327.8 304.9h.6v.6h-.6zM320.5 301.0h.6v.6h-.6zM333.2 302.1h.6v.6h-.6zM330.9 305.2h.6v.6h-.6zM315.1 300.0h.6v.6h-.6zM312.3 297.6h.6v.6h-.6zM322.3 305.1h.6v.6h-.6zM336.1 306.4h.6v.6h-.6zM336.5 295.1h.6v.6h-.6zM314.3 304.5h.6v.6h-.6zM339.2 302.6h.6v.6h-.6zM311.7 300.1h.6v.6h-.6zM314.1 297.3h.6v.6h-.6zM340.0 298.6h.6v.6h-.6zM336.2 303.8h.6v.6h-.6zM314.7 304.3h.6v.6h-.6zM341.5 305.4h.6v.6h-.6zM337.1 302.5h.6v.6h-.6zM328.2 300.9h.6v.6h-.6zM324.9 298.9h.6v.6h-.6zM318.3 306.3h.6v.6h-.6zM325.9 293.5h.6v.6h-.6zM345.1 302.4h.6v.6h-.6zM321.6 295.8h.6v.6h-.6zM321.3 296.0h.6v.6h-.6zM322.9 304.6h.6v.6h-.6zM322.4 303.5h.6v.6h-.6zM314.2 292.0h.6v.6h-.6zM319.7 297.8h.6v.6h-.6zM309.9 300.0h.6v.6h-.6zM325.5 295.5h.6v.6h-.6zM330.2 301.2h.6v.6h-.6zM323.5 301.3h.6v.6h-.6zM321.4 306.0h.6v.6h-.6zM320.9 288.8h.6v.6h-.6zM321.7 297.1h.6v.6h-.6zM329.8 298.6h.6v.6h-.6zM309.4 295.8h.6v.6h-.6zM314.3 291.7h.6v.6h-.6zM312.7 300.0h.6v.6h-.6zM345.3 307.7h.6v.6h-.6zM323.7 303.0h.6v.6h-.6zM318.3 304.5h.6v.6h-.6zM325.4 302.3h.6v.6h-.6zM316.0 294.7h.6v.6h-.6zM315.6 293.5h.6v.6h-.6zM336.7 305.0h.6v.6h-.6zM332.7 291.5h.6v.6h-.6zM344.1 306.5h.6v.6h-.6zM328.4 304.3h.6v.6h-.6zM324.4 302.9h.6v.6h-.6zM334.6 293.8h.6v.6h-.6zM307.1 294.3h.6v.6h-.6zM315.3 298.7h.6v.6h-.6zM326.4 303.5h.6v.6h-.6zM322.4 298.3h.6v.6h-.6zM316.7 307.2h.6v.6h-.6zM331.2 302.6h.6v.6h-.6zM314.9 305.6h.6v.6h-.6zM335.8 300.5h.6v.6h-.6zM331.9 295.9h.6v.6h-.6zM334.2 303.1h.6v.6h-.6zM313.9 301.1h.6v.6h-.6zM325.4 300.2h.6v.6h-.6zM325.1 299.0h.6v.6h-.6zM330.1 302.0h.6v.6h-.6zM324.5 286.9h.6v.6h-.6zM335.9 302.2h.6v.6h-.6zM327.6 307.9h.6v.6h-.6zM320.2 305.7h.6v.6h-.6zM317.6 295.9h.6v.6h-.6zM335.2 307.0h.6v.6h-.6zM340.5 306.7h.6v.6h-.6zM315.1 292.9h.6v.6h-.6zM314.2 298.3h.6v.6h-.6zM312.2 305.2h.6v.6h-.6zM325.9 300.5h.6v.6h-.6zM324.1 301.2h.6v.6h-.6zM324.6 306.1h.6v.6h-.6zM333.5 298.2h.6v.6h-.6zM323.4 308.1h.6v.6h-.6zM322.3 294.1h.6v.6h-.6zM315.8 306.0h.6v.6h-.6zM311.6 294.3h.6v.6h-.6zM328.2 307.2h.6v.6h-.6zM324.3 294.8h.6v.6h-.6zM331.4 306.4h.6v.6h-.6zM328.6 299.3h.6v.6h-.6zM325.6 306.3h.6v.6h-.6zM315.3 291.9h.6v.6h-.6zM325.9 304.6h.6v.6h-.6zM322.2 306.9h.6v.6h-.6zM315.0 301.5h.6v.6h-.6zM318.3 305.1h.6v.6h-.6zM341.1 300.6h.6v.6h-.6zM331.5 305.2h.6v.6h-.6zM343.2 301.0h.6v.6h-.6zM320.7 296.2h.6v.6h-.6zM328.4 304.3h.6v.6h-.6zM319.6 302.9h.6v.6h-.6zM317.1 295.9h.6v.6h-.6zM313.0 297.5h.6v.6h-.6zM332.3 307.8h.6v.6h-.6zM332.7 298.8h.6v.6h-.6zM314.4 303.9h.6v.6h-.6zM317.7 290.8h.6v.6h-.6zM324.8 293.6h.6v.6h-.6zM332.9 295.4h.6v.6h-.6zM313.7 297.3h.6v.6h-.6zM332.2 305.3h.6v.6h-.6zM325.8 293.5h.6v.6h-.6zM315.8 299.0h.6v.6h-.6zM310.3 304.8h.6v.6h-.6zM313.1 298.1h.6v.6h-.6zM309.5 290.7h.6v.6h-.6zM324.1 296.6h.6v.6h-.6zM336.6 303.6h.6v.6h-.6zM335.5 299.6h.6v.6h-.6zM334.6 306.3h.6v.6h-.6zM328.9 296.1h.6v.6h-.6zM319.5 303.5h.6v.6h-.6zM320.2 307.5h.6v.6h-.6zM334.5 302.5h.6v.6h-.6zM316.4 305.5h.6v.6h-.6zM335.7 299.5h.6v.6h-.6zM315.6 304.4h.6v.6h-.6zM336.3 308.9h.6v.6h-.6zM328.2 294.7h.6v.6h-.6zM311.7 308.3h.6v.6h-.6zM331.2 292.8h.6v.6h-.6zM312.2 302.9h.6v.6h-.6zM316.1 301.2h.6v.6h-.6zM327.6 297.5h.6v.6h-.6zM327.6 298.5h.6v.6h-.6zM315.5 305.0h.6v.6h-.6zM315.1 303.6h.6v.6h-.6zM341.2 302.1h.6v.6h-.6zM320.2 306.0h.6v.6h-.6zM317.6 308.0h.6v.6h-.6zM315.9 297.6h.6v.6h-.6zM343.2 297.3h.6v.6h-.6zM343.1 305.6h.6v.6h-.6zM339.4 296.6h.6v.6h-.6zM320.6 301.3h.6v.6h-.6zM316.9 298.5h.6v.6h-.6zM327.4 303.8h.6v.6h-.6zM318.1 304.6h.6v.6h-.6zM339.5 296.5h.6v.6h-.6zM309.5 291.8h.6v.6h-.6zM327.4 291.8h.6v.6h-.6zM313.2 300.5h.6v.6h-.6zM322.7 305.0h.6v.6h-.6zM317.8 302.1h.6v.6h-.6zM315.4 302.6h.6v.6h-.6zM307.9 302.3h.6v.6h-.6zM345.0 302.4h.6v.6h-.6zM310.3 292.9h.6v.6h-.6zM313.2 306.1h.6v.6h-.6zM326.6 301.5h.6v.6h-.6zM310.9 296.1h.6v.6h-.6zM338.2 303.3h.6v.6h-.6zM310.6 290.4h.6v.6h-.6zM308.2 301.6h.6v.6h-.6zM324.5 301.1h.6v.6h-.6zM318.7 294.4h.6v.6h-.6zM312.9 306.7h.6v.6h-.6zM325.1 307.7h.6v.6h-.6zM308.5 305.3h.6v.6h-.6zM326.6 297.9h.6v.6h-.6zM327.7 297.1h.6v.6h-.6zM312.4 301.9h.6v.6h-.6zM310.0 294.0h.6v.6h-.6zM316.9 306.2h.6v.6h-.6zM317.1 309.0h.6v.6h-.6zM308.1 294.8h.6v.6h-.6zM340.6 304.2h.6v.6h-.6zM333.3 297.5h.6v.6h-.6zM331.7 303.4h.6v.6h-.6zM329.8 302.1h.6v.6h-.6zM336.5 298.4h.6v.6h-.6zM310.4 293.9h.6v.6h-.6zM335.9 297.9h.6v.6h-.6zM309.5 296.8h.6v.6h-.6zM316.7 295.0h.6v.6h-.6zM318.5 298.6h.6v.6h-.6zM315.4 296.7h.6v.6h-.6zM322.4 299.5h.6v.6h-.6zM323.4 303.4h.6v.6h-.6zM326.1 290.0h.6v.6h-.6zM315.6 297.6h.6v.6h-.6zM331.3 293.3h.6v.6h-.6zM313.4 300.4h.6v.6h-.6zM318.0 307.5h.6v.6h-.6zM316.7 307.3h.6v.6h-.6zM336.6 304.4h.6v.6h-.6zM327.9 302.7h.6v.6h-.6zM327.8 295.3h.6v.6h-.6zM333.4 299.1h.6v.6h-.6zM333.8 302.5h.6v.6h-.6zM335.5 301.2h.6v.6h-.6zM317.3 303.3h.6v.6h-.6zM316.9 299.0h.6v.6h-.6zM323.2 302.8h.6v.6h-.6zM340.2 302.3h.6v.6h-.6zM342.6 307.8h.6v.6h-.6zM323.6 302.8h.6v.6h-.6zM320.3 298.0h.6v.6h-.6zM321.2 298.5h.6v.6h-.6zM341.7 304.9h.6v.6h-.6zM316.6 291.5h.6v.6h-.6zM321.4 299.7h.6v.6h-.6zM309.0 295.7h.6v.6h-.6zM321.6 301.2h.6v.6h-.6zM339.3 302.7h.6v.6h-.6zM324.0 300.0h.6v.6h-.6zM317.8 302.2h.6v.6h-.6zM311.4 307.3h.6v.6h-.6zM310.7 308.0h.6v.6h-.6zM313.4 297.8h.6v.6h-.6zM341.8 298.7h.6v.6h-.6zM312.9 300.1h.6v.6h-.6zM315.5 292.1h.6v.6h-.6zM313.9 308.5h.6v.6h-.6zM344.4 300.5h.6v.6h-.6zM313.7 299.2h.6v.6h-.6zM309.0 307.8h.6v.6h-.6zM325.5 297.8h.6v.6h-.6zM331.4 302.0h.6v.6h-.6zM307.9 305.4h.6v.6h-.6zM332.1 291.5h.6v.6h-.6zM343.9 304.7h.6v.6h-.6zM331.1 291.8h.6v.6h-.6zM313.4 300.1h.6v.6h-.6zM334.9 294.0h.6v.6h-.6zM311.4 290.8h.6v.6h-.6zM319.1 303.9h.6v.6h-.6zM330.0 300.3h.6v.6h-.6zM307.9 296.8h.6v.6h-.6zM314.0 302.8h.6v.6h-.6zM325.4 296.1h.6v.6h-.6zM340.5 307.2h.6v.6h-.6zM323.2 298.0h.6v.6h-.6zM332.9 297.6h.6v.6h-.6zM324.9 305.3h.6v.6h-.6zM311.9 307.4h.6v.6h-.6zM310.2 305.8h.6v.6h-.6zM324.1 303.3h.6v.6h-.6zM333.6 301.9h.6v.6h-.6zM335.3 306.8h.6v.6h-.6zM323.6 298.9h.6v.6h-.6zM313.0 299.1h.6v.6h-.6zM319.6 301.9h.6v.6h-.6zM331.2 297.3h.6v.6h-.6zM313.5 300.2h.6v.6h-.6zM324.3 296.3h.6v.6h-.6zM341.3 298.9h.6v.6h-.6zM334.9 289.2h.6v.6h-.6zM321.9 303.5h.6v.6h-.6zM324.3 305.3h.6v.6h-.6zM325.4 302.9h.6v.6h-.6zM325.7 300.9h.6v.6h-.6zM312.1 298.8h.6v.6h-.6zM316.2 297.2h.6v.6h-.6zM315.3 303.0h.6v.6h-.6zM322.6 303.5h.6v.6h-.6zM321.6 307.1h.6v.6h-.6zM343.3 295.2h.6v.6h-.6zM323.9 300.5h.6v.6h-.6zM326.3 293.6h.6v.6h-.6zM328.3 303.1h.6v.6h-.6zM322.9 289.0h.6v.6h-.6zM317.5 297.8h.6v.6h-.6zM330.4 305.0h.6v.6h-.6zM321.7 304.8h.6v.6h-.6zM314.8 302.4h.6v.6h-.6zM322.5 305.0h.6v.6h-.6zM321.2 301.2h.6v.6h-.6zM320.4 298.5h.6v.6h-.6zM338.8 293.4h.6v.6h-.6zM330.3 306.6h.6v.6h-.6zM331.2 295.5h.6v.6h-.6zM311.6 303.5h.6v.6h-.6zM328.1 296.4h.6v.6h-.6zM317.4 299.8h.6v.6h-.6zM322.7 303.8h.6v.6h-.6zM318.6 295.2h.6v.6h-.6zM320.7 307.6h.6v.6h-.6zM327.3 305.6h.6v.6h-.6zM327.8 297.8h.6v.6h-.6zM328.9 307.6h.6v.6h-.6zM345.9 306.1h.6v.6h-.6zM317.9 298.7h.6v.6h-.6zM312.2 302.6h.6v.6h-.6zM321.6 305.7h.6v.6h-.6zM330.1 304.6h.6v.6h-.6zM325.3 300.9h.6v.6h-.6zM320.5 297.5h.6v.6h-.6zM324.1 301.9h.6v.6h-.6zM325.8 297.3h.6v.6h-.6zM322.5 302.3h.6v.6h-.6zM329.3 296.2h.6v.6h-.6zM327.0 307.4h.6v.6h-.6zM329.2 300.0h.6v.6h-.6zM316.1 300.7h.6v.6h-.6zM320.1 298.5h.6v.6h-.6zM326.5 303.1h.6v.6h-.6zM311.1 297.9h.6v.6h-.6zM320.8 305.7h.6v.6h-.6zM307.7 296.4h.6v.6h-.6zM328.0 295.3h.6v.6h-.6zM323.3 303.9h.6v.6h-.6zM320.7 296.4h.6v.6h-.6zM321.3 300.2h.6v.6h-.6zM326.0 297.4h.6v.6h-.6zM335.1 292.8h.6v.6h-.6zM319.9 302.0h.6v.6h-.6zM333.5 298.7h.6v.6h-.6zM328.6 298.9h.6v.6h-.6zM317.2 304.4h.6v.6h-.6zM310.9 307.4h.6v.6h-.6zM336.5 302.2h.6v.6h-.6zM308.4 304.2h.6v.6h-.6zM335.8 308.0h.6v.6h-.6zM331.8 291.9h.6v.6h-.6zM307.3 308.2h.6v.6h-.6zM344.6 306.2h.6v.6h-.6zM335.4 300.2h.6v.6h-.6zM307.3 301.4h.6v.6h-.6zM319.6 301.7h.6v.6h-.6zM330.4 301.2h.6v.6h-.6zM324.3 304.3h.6v.6h-.6zM327.3 302.5h.6v.6h-.6zM319.5 298.6h.6v.6h-.6zM338.1 302.8h.6v.6h-.6zM309.1 298.9h.6v.6h-.6zM320.4 299.5h.6v.6h-.6zM335.0 295.6h.6v.6h-.6zM327.9 302.8h.6v.6h-.6zM307.9 302.3h.6v.6h-.6zM320.9 304.8h.6v.6h-.6zM316.6 303.7h.6v.6h-.6zM331.4 307.7h.6v.6h-.6zM321.8 298.7h.6v.6h-.6zM335.0 290.5h.6v.6h-.6zM312.4 305.7h.6v.6h-.6zM329.8 296.3h.6v.6h-.6zM323.8 297.1h.6v.6h-.6zM322.7 307.0h.6v.6h-.6zM330.9 290.6h.6v.6h-.6zM331.3 292.2h.6v.6h-.6zM335.7 304.2h.6v.6h-.6zM322.1 307.8h.6v.6h-.6zM314.3 298.1h.6v.6h-.6zM317.5 301.6h.6v.6h-.6zM309.0 304.7h.6v.6h-.6zM328.5 302.4h.6v.6h-.6zM342.4 300.2h.6v.6h-.6zM337.7 299.0h.6v.6h-.6zM331.1 291.4h.6v.6h-.6zM324.4 301.0h.6v.6h-.6zM316.1 298.6h.6v.6h-.6zM317.8 298.0h.6v.6h-.6zM315.4 299.1h.6v.6h-.6zM309.3 301.3h.6v.6h-.6zM331.4 300.6h.6v.6h-.6zM333.7 307.1h.6v.6h-.6zM335.9 300.2h.6v.6h-.6zM320.4 308.1h.6v.6h-.6zM315.4 301.3h.6v.6h-.6zM326.5 304.1h.6v.6h-.6zM318.7 307.4h.6v.6h-.6zM319.9 306.0h.6v.6h-.6zM334.8 305.6h.6v.6h-.6zM330.8 295.6h.6v.6h-.6zM307.3 303.7h.6v.6h-.6zM311.8 298.0h.6v.6h-.6zM318.7 305.8h.6v.6h-.6zM324.6 308.5h.6v.6h-.6zM310.2 306.9h.6v.6h-.6zM333.2 302.4h.6v.6h-.6zM327.7 298.9h.6v.6h-.6zM308.9 299.8h.6v.6h-.6zM324.4 303.7h.6v.6h-.6zM330.9 297.7h.6v.6h-.6zM333.0 304.1h.6v.6h-.6zM328.6 304.5h.6v.6h-.6zM341.0 299.7h.6v.6h-.6zM328.1 306.1h.6v.6h-.6zM311.2 308.6h.6v.6h-.6zM328.3 296.0h.6v.6h-.6zM320.6 293.0h.6v.6h-.6zM322.8 295.8h.6v.6h-.6zM326.1 293.6h.6v.6h-.6zM327.4 300.5h.6v.6h-.6zM322.8 301.6h.6v.6h-.6zM323.6 294.7h.6v.6h-.6zM310.8 299.5h.6v.6h-.6zM327.1 291.1h.6v.6h-.6zM312.8 298.6h.6v.6h-.6zM309.3 303.8h.6v.6h-.6zM320.3 297.5h.6v.6h-.6zM310.2 306.4h.6v.6h-.6zM314.1 305.2h.6v.6h-.6zM327.4 291.6h.6v.6h-.6zM309.0 302.0h.6v.6h-.6zM326.1 306.3h.6v.6h-.6zM331.6 307.7h.6v.6h-.6zM317.5 300.8h.6v.6h-.6zM331.3 299.7h.6v.6h-.6zM334.7 293.3h.6v.6h-.6zM329.8 301.0h.6v.6h-.6zM325.7 302.1h.6v.6h-.6zM309.1 299.4h.6v.6h-.6zM340.1 297.5h.6v.6h-.6zM307.6 301.3h.6v.6h-.6zM317.3 297.0h.6v.6h-.6zM311.9 307.8h.6v.6h-.6zM315.5 296.0h.6v.6h-.6zM331.4 305.1h.6v.6h-.6zM309.5 306.1h.6v.6h-.6zM335.5 300.6h.6v.6h-.6zM333.0 301.9h.6v.6h-.6zM327.0 306.2h.6v.6h-.6zM344.2 300.6h.6v.6h-.6zM316.2 301.8h.6v.6h-.6zM336.5 296.8h.6v.6h-.6zM337.7 286.9h.6v.6h-.6zM331.6 298.3h.6v.6h-.6zM327.5 305.8h.6v.6h-.6zM307.8 301.5h.6v.6h-.6zM324.9 305.2h.6v.6h-.6zM310.8 296.5h.6v.6h-.6zM319.7 300.8h.6v.6h-.6zM332.2 302.1h.6v.6h-.6zM330.7 295.9h.6v.6h-.6zM318.1 298.8h.6v.6h-.6zM311.0 299.4h.6v.6h-.6zM327.1 304.2h.6v.6h-.6zM322.3 299.4h.6v.6h-.6z" fill="#666" filter="url(#sb)"/>
<path d="M340.0 300.8h.6v.6h-.6zM321.3 297.7h.6v.6h-.6zM325.0 293.1h.6v.6h-.6zM337.2 299.3h.6v.6h-.6zM336.9 294.6h.6v.6h-.6zM334.4 294.4h.6v.6h-.6zM339.1 302.4h.6v.6h-.6zM329.6 296.7h.6v.6h-.6zM328.5 300.5h.6v.6h-.6zM318.4 292.7h.6v.6h-.6zM325.7 301.6h.6v.6h-.6zM336.0 300.5h.6v.6h-.6zM329.2 308.8h.6v.6h-.6zM338.7 295.1h.6v.6h-.6zM319.8 291.4h.6v.6h-.6zM316.4 299.3h.6v.6h-.6zM336.4 304.0h.6v.6h-.6zM334.9 295.5h.6v.6h-.6zM330.1 308.5h.6v.6h-.6zM321.9 299.9h.6v.6h-.6zM336.2 302.1h.6v.6h-.6zM332.8 301.5h.6v.6h-.6zM342.5 298.3h.6v.6h-.6zM332.3 298.1h.6v.6h-.6zM328.3 298.0h.6v.6h-.6zM333.6 300.1h.6v.6h-.6zM332.4 302.0h.6v.6h-.6zM338.4 302.8h.6v.6h-.6zM336.2 300.3h.6v.6h-.6zM332.2 295.1h.6v.6h-.6zM343.0 305.5h.6v.6h-.6zM341.3 301.2h.6v.6h-.6zM338.1 296.7h.6v.6h-.6zM321.7 302.3h.6v.6h-.6zM337.6 296.2h.6v.6h-.6zM328.3 305.4h.6v.6h-.6zM321.6 307.8h.6v.6h-.6zM330.3 298.9h.6v.6h-.6zM331.9 299.8h.6v.6h-.6zM334.3 295.3h.6v.6h-.6zM344.6 295.1h.6v.6h-.6zM331.9 301.8h.6v.6h-.6zM331.7 296.8h.6v.6h-.6zM338.8 297.2h.6v.6h-.6zM326.0 298.5h.6v.6h-.6zM334.2 307.5h.6v.6h-.6zM327.2 303.8h.6v.6h-.6zM329.7 297.2h.6v.6h-.6zM333.4 300.4h.6v.6h-.6zM342.9 307.7h.6v.6h-.6zM330.9 305.6h.6v.6h-.6zM344.0 303.1h.6v.6h-.6zM329.9 303.5h.6v.6h-.6zM335.1 300.8h.6v.6h-.6zM333.8 302.3h.6v.6h-.6zM344.9 304.7h.6v.6h-.6zM334.4 304.0h.6v.6h-.6zM340.3 302.0h.6v.6h-.6zM332.2 295.0h.6v.6h-.6zM326.0 302.8h.6v.6h-.6zM334.1 295.4h.6v.6h-.6zM340.3 295.2h.6v.6h-.6zM332.5 296.7h.6v.6h-.6zM334.7 291.1h.6v.6h-.6zM338.2 299.4h.6v.6h-.6zM338.8 301.8h.6v.6h-.6zM333.4 303.6h.6v.6h-.6zM342.7 300.1h.6v.6h-.6zM332.7 296.6h.6v.6h-.6zM341.5 293.5h.6v.6h-.6zM334.7 295.3h.6v.6h-.6zM324.9 302.0h.6v.6h-.6zM335.8 299.2h.6v.6h-.6zM343.0 291.5h.6v.6h-.6zM335.5 300.4h.6v.6h-.6zM342.7 293.6h.6v.6h-.6zM341.7 300.1h.6v.6h-.6zM336.0 296.9h.6v.6h-.6zM333.3 294.3h.6v.6h-.6zM335.8 289.6h.6v.6h-.6zM335.3 301.1h.6v.6h-.6zM343.9 297.3h.6v.6h-.6zM334.9 289.6h.6v.6h-.6zM329.9 295.0h.6v.6h-.6zM327.4 301.6h.6v.6h-.6zM339.8 297.9h.6v.6h-.6zM336.2 297.5h.6v.6h-.6zM331.8 290.3h.6v.6h-.6zM335.3 305.3h.6v.6h-.6zM330.2 298.0h.6v.6h-.6zM343.0 300.7h.6v.6h-.6zM331.4 300.8h.6v.6h-.6zM334.4 301.5h.6v.6h-.6zM332.8 291.8h.6v.6h-.6zM336.5 302.7h.6v.6h-.6zM327.4 298.5h.6v.6h-.6zM342.8 297.2h.6v.6h-.6zM330.9 308.9h.6v.6h-.6zM342.5 304.0h.6v.6h-.6zM328.6 307.0h.6v.6h-.6zM323.1 296.5h.6v.6h-.6zM341.8 305.5h.6v.6h-.6zM328.8 295.8h.6v.6h-.6zM337.5 289.6h.6v.6h-.6zM341.0 301.7h.6v.6h-.6zM332.5 301.6h.6v.6h-.6zM342.0 300.5h.6v.6h-.6zM340.1 306.4h.6v.6h-.6zM332.3 299.8h.6v.6h-.6zM331.9 304.0h.6v.6h-.6zM332.8 301.3h.6v.6h-.6zM337.1 299.3h.6v.6h-.6zM343.2 302.7h.6v.6h-.6zM331.2 300.3h.6v.6h-.6zM335.0 298.8h.6v.6h-.6zM323.0 290.6h.6v.6h-.6zM332.5 295.9h.6v.6h-.6zM336.1 301.7h.6v.6h-.6zM339.6 295.5h.6v.6h-.6zM340.5 305.6h.6v.6h-.6zM342.9 306.6h.6v.6h-.6zM342.4 291.8h.6v.6h-.6zM333.6 301.8h.6v.6h-.6zM339.2 295.1h.6v.6h-.6zM329.1 303.7h.6v.6h-.6zM325.7 305.9h.6v.6h-.6zM336.2 300.4h.6v.6h-.6zM325.7 296.1h.6v.6h-.6zM341.3 291.9h.6v.6h-.6zM326.6 299.2h.6v.6h-.6zM339.7 302.5h.6v.6h-.6zM333.1 298.0h.6v.6h-.6zM334.2 296.2h.6v.6h-.6zM316.2 303.6h.6v.6h-.6zM337.9 299.8h.6v.6h-.6zM331.2 300.2h.6v.6h-.6zM335.9 298.6h.6v.6h-.6zM344.5 290.7h.6v.6h-.6zM337.9 293.9h.6v.6h-.6zM333.6 306.2h.6v.6h-.6zM327.7 298.5h.6v.6h-.6zM331.5 303.6h.6v.6h-.6zM328.5 290.9h.6v.6h-.6zM339.9 297.3h.6v.6h-.6zM333.5 304.2h.6v.6h-.6zM329.2 297.2h.6v.6h-.6zM337.1 301.0h.6v.6h-.6zM332.0 304.0h.6v.6h-.6zM337.1 297.4h.6v.6h-.6zM331.1 292.9h.6v.6h-.6zM333.0 305.2h.6v.6h-.6zM344.8 297.3h.6v.6h-.6zM331.9 295.6h.6v.6h-.6zM326.8 307.7h.6v.6h-.6zM341.1 299.6h.6v.6h-.6zM332.2 294.1h.6v.6h-.6zM328.7 303.7h.6v.6h-.6zM327.5 302.1h.6v.6h-.6zM328.6 297.0h.6v.6h-.6zM339.8 301.1h.6v.6h-.6zM343.8 295.0h.6v.6h-.6zM335.9 301.2h.6v.6h-.6zM330.0 298.3h.6v.6h-.6zM325.9 299.4h.6v.6h-.6zM337.5 305.4h.6v.6h-.6zM343.3 302.9h.6v.6h-.6zM333.2 297.9h.6v.6h-.6zM333.4 300.1h.6v.6h-.6zM321.2 302.7h.6v.6h-.6zM324.0 296.5h.6v.6h-.6zM336.2 296.5h.6v.6h-.6zM332.2 300.9h.6v.6h-.6zM346.0 297.4h.6v.6h-.6zM336.7 296.3h.6v.6h-.6zM336.5 297.3h.6v.6h-.6zM336.6 303.8h.6v.6h-.6zM337.6 303.1h.6v.6h-.6zM333.8 293.9h.6v.6h-.6zM344.5 294.5h.6v.6h-.6zM343.1 294.4h.6v.6h-.6zM342.5 306.2h.6v.6h-.6zM328.6 306.1h.6v.6h-.6zM329.7 290.5h.6v.6h-.6zM341.5 302.4h.6v.6h-.6zM334.4 286.9h.6v.6h-.6zM335.6 297.5h.6v.6h-.6zM333.1 297.6h.6v.6h-.6zM322.3 296.3h.6v.6h-.6zM333.2 295.6h.6v.6h-.6zM339.0 304.1h.6v.6h-.6zM341.6 293.4h.6v.6h-.6zM337.2 299.7h.6v.6h-.6zM340.0 304.8h.6v.6h-.6zM333.0 306.4h.6v.6h-.6zM332.7 300.9h.6v.6h-.6zM343.1 294.6h.6v.6h-.6zM330.6 290.6h.6v.6h-.6zM337.3 298.7h.6v.6h-.6zM333.5 301.4h.6v.6h-.6zM319.7 298.9h.6v.6h-.6zM336.7 297.7h.6v.6h-.6zM342.1 307.4h.6v.6h-.6zM332.6 294.5h.6v.6h-.6zM331.4 299.4h.6v.6h-.6zM340.5 294.9h.6v.6h-.6zM343.7 294.1h.6v.6h-.6zM342.4 301.1h.6v.6h-.6zM334.0 298.2h.6v.6h-.6zM339.7 303.1h.6v.6h-.6zM325.7 300.3h.6v.6h-.6zM330.3 302.0h.6v.6h-.6zM335.2 299.9h.6v.6h-.6zM313.3 302.7h.6v.6h-.6zM340.3 299.8h.6v.6h-.6zM333.0 295.5h.6v.6h-.6zM334.6 304.8h.6v.6h-.6z" fill="#777" filter="url(#sb)"/>
<path d="M370.9 304.7h.6v.6h-.6zM374.9 294.9h.6v.6h-.6zM354.5 290.2h.6v.6h-.6zM385.2 285.7h.6v.6h-.6zM361.5 287.1h.6v.6h-.6zM366.2 299.6h.6v.6h-.6zM378.3 280.4h.6v.6h-.6zM387.4 290.7h.6v.6h-.6zM365.8 307.0h.6v.6h-.6zM371.1 286.1h.6v.6h-.6zM365.3 289.8h.6v.6h-.6zM361.3 292.6h.6v.6h-.6zM381.3 297.5h.6v.6h-.6zM361.5 295.8h.6v.6h-.6zM372.3 300.5h.6v.6h-.6zM368.5 298.3h.6v.6h-.6zM360.6 297.4h.6v.6h-.6zM363.5 292.3h.6v.6h-.6zM374.0 297.4h.6v.6h-.6zM369.0 301.1h.6v.6h-.6zM370.0 285.6h.6v.6h-.6zM381.3 292.4h.6v.6h-.6zM384.8 290.3h.6v.6h-.6zM378.0 297.3h.6v.6h-.6zM360.2 305.1h.6v.6h-.6zM352.1 301.6h.6v.6h-.6zM383.5 298.6h.6v.6h-.6zM379.1 291.4h.6v.6h-.6zM371.9 296.6h.6v.6h-.6zM376.4 300.1h.6v.6h-.6zM369.8 290.0h.6v.6h-.6zM366.1 298.0h.6v.6h-.6zM354.5 286.0h.6v.6h-.6zM367.7 291.0h.6v.6h-.6zM368.4 293.2h.6v.6h-.6zM380.2 280.7h.6v.6h-.6zM368.8 298.4h.6v.6h-.6zM377.2 303.6h.6v.6h-.6zM383.1 287.4h.6v.6h-.6zM378.7 292.6h.6v.6h-.6zM363.5 306.1h.6v.6h-.6zM365.3 288.8h.6v.6h-.6zM367.7 288.9h.6v.6h-.6zM382.6 297.7h.6v.6h-.6zM386.8 298.0h.6v.6h-.6zM365.5 302.6h.6v.6h-.6zM365.1 291.7h.6v.6h-.6zM370.2 295.3h.6v.6h-.6zM384.6 290.6h.6v.6h-.6zM375.7 294.8h.6v.6h-.6zM358.7 287.1h.6v.6h-.6zM369.7 297.9h.6v.6h-.6zM375.4 298.5h.6v.6h-.6zM372.5 291.8h.6v.6h-.6zM376.5 287.8h.6v.6h-.6zM357.8 292.6h.6v.6h-.6zM356.9 291.3h.6v.6h-.6zM364.1 291.0h.6v.6h-.6zM371.5 289.2h.6v.6h-.6zM367.5 282.6h.6v.6h-.6zM373.5 288.6h.6v.6h-.6zM363.5 296.8h.6v.6h-.6zM373.0 295.7h.6v.6h-.6zM356.1 296.7h.6v.6h-.6zM373.6 288.0h.6v.6h-.6zM379.9 294.6h.6v.6h-.6zM372.2 291.7h.6v.6h-.6zM377.8 295.7h.6v.6h-.6zM384.1 298.3h.6v.6h-.6zM365.4 293.4h.6v.6h-.6zM381.8 292.4h.6v.6h-.6zM376.1 298.8h.6v.6h-.6zM370.1 278.1h.6v.6h-.6zM373.4 296.6h.6v.6h-.6zM373.4 289.5h.6v.6h-.6zM384.9 294.0h.6v.6h-.6zM365.4 289.8h.6v.6h-.6zM375.8 287.1h.6v.6h-.6zM385.9 302.6h.6v.6h-.6zM386.5 299.3h.6v.6h-.6zM354.1 303.7h.6v.6h-.6zM385.2 298.6h.6v.6h-.6zM351.2 304.0h.6v.6h-.6zM386.5 291.4h.6v.6h-.6zM373.4 300.6h.6v.6h-.6zM371.1 303.0h.6v.6h-.6zM372.9 300.0h.6v.6h-.6zM372.9 284.3h.6v.6h-.6zM375.0 304.5h.6v.6h-.6zM384.1 307.5h.6v.6h-.6zM377.9 290.7h.6v.6h-.6zM372.2 281.0h.6v.6h-.6zM370.0 301.6h.6v.6h-.6zM380.8 304.7h.6v.6h-.6zM362.1 290.3h.6v.6h-.6zM352.0 287.6h.6v.6h-.6zM359.8 305.0h.6v.6h-.6zM376.6 291.4h.6v.6h-.6zM371.3 296.6h.6v.6h-.6zM382.5 304.9h.6v.6h-.6zM377.5 297.6h.6v.6h-.6zM370.0 292.0h.6v.6h-.6zM367.2 279.8h.6v.6h-.6zM374.8 294.8h.6v.6h-.6zM373.9 308.2h.6v.6h-.6zM370.9 293.1h.6v.6h-.6zM364.0 294.8h.6v.6h-.6zM367.3 296.5h.6v.6h-.6zM381.2 301.0h.6v.6h-.6zM379.7 301.0h.6v.6h-.6zM379.2 305.3h.6v.6h-.6zM382.8 304.8h.6v.6h-.6zM366.6 295.0h.6v.6h-.6zM364.2 302.0h.6v.6h-.6zM380.9 291.6h.6v.6h-.6zM385.2 286.9h.6v.6h-.6zM371.0 299.6h.6v.6h-.6zM371.6 297.8h.6v.6h-.6zM384.6 297.4h.6v.6h-.6zM360.2 300.2h.6v.6h-.6zM371.0 295.8h.6v.6h-.6zM365.9 284.9h.6v.6h-.6zM358.6 292.4h.6v.6h-.6zM384.3 286.5h.6v.6h-.6zM364.2 298.9h.6v.6h-.6zM363.8 299.8h.6v.6h-.6zM366.8 297.2h.6v.6h-.6zM373.1 295.0h.6v.6h-.6zM352.4 284.3h.6v.6h-.6zM371.6 305.3h.6v.6h-.6zM366.2 298.9h.6v.6h-.6zM373.7 298.5h.6v.6h-.6zM382.6 284.1h.6v.6h-.6zM374.9 293.7h.6v.6h-.6zM368.7 288.8h.6v.6h-.6zM363.6 287.5h.6v.6h-.6zM390.2 295.1h.6v.6h-.6zM380.0 287.9h.6v.6h-.6zM373.5 305.5h.6v.6h-.6zM371.5 287.7h.6v.6h-.6zM369.4 287.7h.6v.6h-.6zM357.1 293.3h.6v.6h-.6zM367.7 289.1h.6v.6h-.6zM362.5 288.2h.6v.6h-.6zM374.5 305.2h.6v.6h-.6zM354.7 297.0h.6v.6h-.6zM359.6 293.8h.6v.6h-.6zM373.1 299.1h.6v.6h-.6zM384.1 290.9h.6v.6h-.6zM358.7 293.6h.6v.6h-.6zM375.1 289.9h.6v.6h-.6zM381.6 307.3h.6v.6h-.6zM356.8 297.6h.6v.6h-.6zM382.9 281.0h.6v.6h-.6zM374.2 293.4h.6v.6h-.6zM356.7 304.6h.6v.6h-.6zM374.3 291.5h.6v.6h-.6zM376.8 299.7h.6v.6h-.6zM380.2 299.2h.6v.6h-.6zM376.4 286.4h.6v.6h-.6zM367.5 295.9h.6v.6h-.6zM367.9 287.3h.6v.6h-.6zM352.5 296.8h.6v.6h-.6zM372.3 290.7h.6v.6h-.6zM367.5 288.5h.6v.6h-.6zM364.0 294.3h.6v.6h-.6zM365.1 300.0h.6v.6h-.6zM370.5 296.0h.6v.6h-.6zM376.3 304.3h.6v.6h-.6zM378.4 296.7h.6v.6h-.6zM370.2 289.1h.6v.6h-.6zM368.3 300.0h.6v.6h-.6zM374.4 292.2h.6v.6h-.6zM357.7 283.8h.6v.6h-.6zM375.4 302.5h.6v.6h-.6zM376.0 285.0h.6v.6h-.6zM369.7 296.6h.6v.6h-.6zM362.2 297.5h.6v.6h-.6zM369.9 288.9h.6v.6h-.6zM358.7 300.9h.6v.6h-.6zM375.8 288.5h.6v.6h-.6zM361.1 301.5h.6v.6h-.6zM378.4 292.8h.6v.6h-.6zM389.1 292.9h.6v.6h-.6zM360.7 303.0h.6v.6h-.6zM370.0 297.5h.6v.6h-.6zM372.4 287.7h.6v.6h-.6zM359.3 293.6h.6v.6h-.6zM387.1 287.7h.6v.6h-.6zM386.6 296.6h.6v.6h-.6zM360.1 296.9h.6v.6h-.6zM378.1 288.4h.6v.6h-.6zM349.2 297.6h.6v.6h-.6zM360.1 298.2h.6v.6h-.6zM351.5 294.0h.6v.6h-.6zM363.3 284.2h.6v.6h-.6zM369.4 296.3h.6v.6h-.6zM366.0 286.4h.6v.6h-.6zM374.3 282.2h.6v.6h-.6zM377.7 298.6h.6v.6h-.6zM390.0 301.4h.6v.6h-.6zM375.8 296.9h.6v.6h-.6zM372.3 285.3h.6v.6h-.6zM387.6 298.8h.6v.6h-.6zM368.9 286.6h.6v.6h-.6zM387.9 298.9h.6v.6h-.6zM359.3 299.9h.6v.6h-.6zM376.3 292.0h.6v.6h-.6zM365.3 302.8h.6v.6h-.6zM370.7 300.8h.6v.6h-.6zM368.7 300.3h.6v.6h-.6zM380.9 287.6h.6v.6h-.6zM360.5 294.5h.6v.6h-.6zM380.9 297.0h.6v.6h-.6zM385.3 285.0h.6v.6h-.6zM377.3 290.5h.6v.6h-.6zM373.1 297.3h.6v.6h-.6zM361.6 293.3h.6v.6h-.6zM359.6 296.9h.6v.6h-.6zM362.9 291.4h.6v.6h-.6zM374.3 290.2h.6v.6h-.6zM384.3 290.4h.6v.6h-.6zM381.1 297.1h.6v.6h-.6zM361.0 293.4h.6v.6h-.6zM363.1 292.4h.6v.6h-.6zM369.1 308.2h.6v.6h-.6zM367.5 306.4h.6v.6h-.6zM376.8 285.5h.6v.6h-.6zM350.8 300.2h.6v.6h-.6zM383.0 297.8h.6v.6h-.6zM369.8 293.2h.6v.6h-.6zM374.8 292.8h.6v.6h-.6zM366.3 292.3h.6v.6h-.6zM384.5 290.5h.6v.6h-.6zM376.0 286.6h.6v.6h-.6zM364.4 285.0h.6v.6h-.6zM369.9 300.0h.6v.6h-.6zM375.3 291.4h.6v.6h-.6zM378.5 292.5h.6v.6h-.6zM376.0 297.0h.6v.6h-.6zM358.1 300.6h.6v.6h-.6zM369.5 291.0h.6v.6h-.6zM387.9 299.0h.6v.6h-.6zM369.8 300.3h.6v.6h-.6zM363.6 291.8h.6v.6h-.6zM366.1 293.4h.6v.6h-.6zM380.3 291.5h.6v.6h-.6zM375.4 291.4h.6v.6h-.6zM369.8 296.2h.6v.6h-.6zM360.5 302.3h.6v.6h-.6zM374.3 304.3h.6v.6h-.6zM382.2 299.6h.6v.6h-.6zM370.4 287.1h.6v.6h-.6zM369.7 291.7h.6v.6h-.6zM374.7 291.6h.6v.6h-.6zM384.5 291.6h.6v.6h-.6zM369.4 301.7h.6v.6h-.6zM372.0 286.2h.6v.6h-.6zM376.4 293.6h.6v.6h-.6zM350.1 296.4h.6v.6h-.6zM360.8 289.6h.6v.6h-.6zM377.1 297.2h.6v.6h-.6zM376.5 290.6h.6v.6h-.6zM374.5 294.1h.6v.6h-.6zM370.0 293.0h.6v.6h-.6zM366.0 302.1h.6v.6h-.6zM372.3 307.4h.6v.6h-.6zM380.4 306.9h.6v.6h-.6zM370.8 297.7h.6v.6h-.6zM367.4 293.8h.6v.6h-.6zM353.6 290.8h.6v.6h-.6zM361.9 290.3h.6v.6h-.6zM384.9 296.9h.6v.6h-.6zM385.0 301.2h.6v.6h-.6zM381.8 302.3h.6v.6h-.6zM365.6 300.8h.6v.6h-.6zM368.6 291.2h.6v.6h-.6zM361.6 307.6h.6v.6h-.6zM380.8 288.9h.6v.6h-.6zM374.9 297.7h.6v.6h-.6zM376.0 292.4h.6v.6h-.6zM358.4 295.2h.6v.6h-.6zM381.1 300.7h.6v.6h-.6zM379.0 303.0h.6v.6h-.6zM361.5 294.7h.6v.6h-.6zM375.6 302.2h.6v.6h-.6zM373.7 298.7h.6v.6h-.6zM352.6 296.0h.6v.6h-.6zM356.8 290.1h.6v.6h-.6zM374.4 307.4h.6v.6h-.6zM376.9 299.8h.6v.6h-.6zM382.8 296.4h.6v.6h-.6zM362.9 294.3h.6v.6h-.6zM375.6 293.0h.6v.6h-.6zM364.9 292.4h.6v.6h-.6zM356.1 287.6h.6v.6h-.6zM371.0 292.4h.6v.6h-.6zM372.4 305.1h.6v.6h-.6zM375.2 294.8h.6v.6h-.6zM359.6 287.2h.6v.6h-.6zM376.0 288.7h.6v.6h-.6zM376.5 287.2h.6v.6h-.6zM373.4 294.5h.6v.6h-.6zM382.5 292.2h.6v.6h-.6zM368.1 296.8h.6v.6h-.6zM372.6 307.2h.6v.6h-.6zM369.3 291.1h.6v.6h-.6zM368.6 298.4h.6v.6h-.6zM374.5 300.0h.6v.6h-.6zM391.5 294.8h.6v.6h-.6zM359.2 296.1h.6v.6h-.6zM376.4 278.9h.6v.6h-.6zM372.1 284.3h.6v.6h-.6zM376.9 305.0h.6v.6h-.6zM382.9 284.1h.6v.6h-.6zM386.6 301.5h.6v.6h-.6zM368.2 298.6h.6v.6h-.6zM388.1 292.6h.6v.6h-.6zM371.8 291.0h.6v.6h-.6zM384.2 279.5h.6v.6h-.6zM387.0 288.0h.6v.6h-.6zM381.8 283.3h.6v.6h-.6zM362.1 290.7h.6v.6h-.6zM380.8 283.3h.6v.6h-.6zM378.4 290.4h.6v.6h-.6zM385.1 292.8h.6v.6h-.6zM377.1 293.8h.6v.6h-.6zM391.0 292.4h.6v.6h-.6zM372.8 300.0h.6v.6h-.6zM364.2 296.4h.6v.6h-.6zM365.2 284.2h.6v.6h-.6zM357.0 303.2h.6v.6h-.6zM376.5 284.1h.6v.6h-.6zM391.2 290.0h.6v.6h-.6zM368.1 296.8h.6v.6h-.6zM360.0 283.3h.6v.6h-.6zM364.1 303.5h.6v.6h-.6zM382.1 283.6h.6v.6h-.6zM384.7 295.2h.6v.6h-.6zM377.3 295.4h.6v.6h-.6zM376.4 287.8h.6v.6h-.6zM362.4 289.9h.6v.6h-.6zM368.1 299.5h.6v.6h-.6zM359.1 306.5h.6v.6h-.6zM365.3 290.8h.6v.6h-.6zM379.4 298.1h.6v.6h-.6zM368.4 287.3h.6v.6h-.6zM361.4 283.5h.6v.6h-.6zM384.1 302.8h.6v.6h-.6zM391.8 298.6h.6v.6h-.6zM375.5 300.5h.6v.6h-.6zM382.1 293.1h.6v.6h-.6zM354.1 284.9h.6v.6h-.6zM361.8 300.4h.6v.6h-.6zM384.6 292.6h.6v.6h-.6zM379.1 294.7h.6v.6h-.6zM375.2 291.1h.6v.6h-.6zM371.7 295.0h.6v.6h-.6zM352.8 298.8h.6v.6h-.6zM371.9 302.0h.6v.6h-.6zM383.2 300.6h.6v.6h-.6zM380.6 288.1h.6v.6h-.6zM353.9 307.1h.6v.6h-.6zM384.8 288.1h.6v.6h-.6zM385.7 299.8h.6v.6h-.6zM361.5 303.4h.6v.6h-.6zM364.8 289.6h.6v.6h-.6zM355.6 293.4h.6v.6h-.6zM382.8 290.2h.6v.6h-.6zM391.6 300.0h.6v.6h-.6zM366.3 286.2h.6v.6h-.6zM354.6 299.0h.6v.6h-.6zM385.8 287.3h.6v.6h-.6zM372.0 293.0h.6v.6h-.6zM369.3 298.6h.6v.6h-.6zM381.0 302.9h.6v.6h-.6zM369.0 293.9h.6v.6h-.6zM357.8 302.8h.6v.6h-.6zM366.4 290.3h.6v.6h-.6zM372.7 288.8h.6v.6h-.6zM360.9 292.8h.6v.6h-.6zM387.8 293.5h.6v.6h-.6zM377.6 284.4h.6v.6h-.6zM351.3 308.1h.6v.6h-.6zM367.8 283.9h.6v.6h-.6zM370.9 299.4h.6v.6h-.6zM353.7 288.6h.6v.6h-.6zM374.8 288.3h.6v.6h-.6zM380.5 302.0h.6v.6h-.6zM376.7 291.9h.6v.6h-.6zM371.5 290.4h.6v.6h-.6zM370.6 297.3h.6v.6h-.6zM368.8 302.0h.6v.6h-.6zM375.6 301.0h.6v.6h-.6zM378.8 293.3h.6v.6h-.6zM366.9 302.3h.6v.6h-.6zM378.6 298.7h.6v.6h-.6zM363.5 299.6h.6v.6h-.6zM380.4 293.7h.6v.6h-.6zM352.1 299.4h.6v.6h-.6zM359.6 285.1h.6v.6h-.6zM369.5 299.0h.6v.6h-.6zM372.6 286.6h.6v.6h-.6zM356.7 291.0h.6v.6h-.6zM372.1 289.0h.6v.6h-.6zM356.0 307.7h.6v.6h-.6zM363.1 293.9h.6v.6h-.6zM366.2 290.8h.6v.6h-.6zM372.4 292.8h.6v.6h-.6zM378.6 286.4h.6v.6h-.6zM371.2 300.6h.6v.6h-.6zM384.6 299.0h.6v.6h-.6zM372.4 283.7h.6v.6h-.6zM355.0 302.1h.6v.6h-.6zM379.2 299.1h.6v.6h-.6zM354.3 279.5h.6v.6h-.6zM360.7 286.4h.6v.6h-.6zM373.7 287.6h.6v.6h-.6zM388.9 290.5h.6v.6h-.6zM366.0 301.3h.6v.6h-.6zM375.5 288.5h.6v.6h-.6zM380.8 309.0h.6v.6h-.6zM358.9 293.2h.6v.6h-.6zM360.5 280.9h.6v.6h-.6zM378.7 300.1h.6v.6h-.6zM382.4 298.1h.6v.6h-.6zM350.5 294.8h.6v.6h-.6zM364.9 286.4h.6v.6h-.6zM360.2 300.6h.6v.6h-.6zM377.0 281.1h.6v.6h-.6zM381.6 304.1h.6v.6h-.6zM372.3 286.2h.6v.6h-.6zM390.9 285.4h.6v.6h-.6zM371.1 281.1h.6v.6h-.6zM358.6 282.6h.6v.6h-.6zM383.7 303.6h.6v.6h-.6zM367.7 285.1h.6v.6h-.6zM371.4 297.8h.6v.6h-.6zM355.7 286.5h.6v.6h-.6zM370.9 300.1h.6v.6h-.6zM372.8 298.3h.6v.6h-.6zM375.3 288.3h.6v.6h-.6zM370.7 292.2h.6v.6h-.6zM377.2 289.4h.6v.6h-.6zM387.5 295.2h.6v.6h-.6zM377.7 299.6h.6v.6h-.6zM383.1 298.0h.6v.6h-.6zM353.2 290.4h.6v.6h-.6zM392.0 298.5h.6v.6h-.6zM378.0 298.4h.6v.6h-.6zM365.1 290.0h.6v.6h-.6zM365.0 303.5h.6v.6h-.6zM375.9 308.1h.6v.6h-.6zM377.4 308.9h.6v.6h-.6zM376.9 286.3h.6v.6h-.6zM390.7 297.5h.6v.6h-.6zM384.8 296.6h.6v.6h-.6zM368.5 296.2h.6v.6h-.6zM359.9 286.2h.6v.6h-.6zM362.4 291.1h.6v.6h-.6zM357.4 294.2h.6v.6h-.6zM391.9 294.6h.6v.6h-.6zM381.5 293.4h.6v.6h-.6zM376.2 294.8h.6v.6h-.6zM366.2 295.6h.6v.6h-.6zM356.0 298.2h.6v.6h-.6zM368.9 287.0h.6v.6h-.6zM368.1 299.1h.6v.6h-.6zM364.7 298.5h.6v.6h-.6zM378.2 306.5h.6v.6h-.6zM360.2 294.2h.6v.6h-.6zM377.5 306.1h.6v.6h-.6zM374.8 300.6h.6v.6h-.6zM356.1 290.7h.6v.6h-.6zM390.0 292.9h.6v.6h-.6zM369.0 283.2h.6v.6h-.6zM378.9 297.0h.6v.6h-.6zM369.3 284.6h.6v.6h-.6zM371.1 302.0h.6v.6h-.6zM380.0 304.1h.6v.6h-.6zM381.4 294.7h.6v.6h-.6zM378.6 296.3h.6v.6h-.6zM357.5 307.7h.6v.6h-.6zM376.1 287.2h.6v.6h-.6zM376.2 297.1h.6v.6h-.6zM382.8 305.7h.6v.6h-.6zM388.6 288.0h.6v.6h-.6zM351.8 297.1h.6v.6h-.6zM375.7 297.6h.6v.6h-.6zM359.9 291.5h.6v.6h-.6zM374.1 300.5h.6v.6h-.6zM383.7 294.0h.6v.6h-.6zM370.8 287.7h.6v.6h-.6zM380.0 281.7h.6v.6h-.6zM373.2 295.9h.6v.6h-.6zM375.3 304.7h.6v.6h-.6zM370.9 295.7h.6v.6h-.6zM381.3 283.5h.6v.6h-.6zM368.8 295.5h.6v.6h-.6zM382.4 289.0h.6v.6h-.6zM380.8 297.9h.6v.6h-.6zM355.8 284.0h.6v.6h-.6zM356.4 296.0h.6v.6h-.6zM374.3 300.4h.6v.6h-.6zM381.0 290.9h.6v.6h-.6zM383.7 301.1h.6v.6h-.6zM377.2 298.6h.6v.6h-.6zM357.9 297.7h.6v.6h-.6zM360.7 286.1h.6v.6h-.6zM368.2 296.0h.6v.6h-.6zM371.4 292.5h.6v.6h-.6zM361.1 296.4h.6v.6h-.6zM363.9 284.5h.6v.6h-.6zM373.0 305.8h.6v.6h-.6zM367.6 287.1h.6v.6h-.6zM387.1 307.8h.6v.6h-.6zM368.8 293.4h.6v.6h-.6zM373.5 302.4h.6v.6h-.6zM376.9 281.4h.6v.6h-.6zM359.9 285.8h.6v.6h-.6zM376.7 295.8h.6v.6h-.6zM391.6 293.0h.6v.6h-.6zM375.4 295.6h.6v.6h-.6zM375.1 306.0h.6v.6h-.6zM386.2 290.5h.6v.6h-.6zM379.5 292.2h.6v.6h-.6zM373.2 296.2h.6v.6h-.6zM372.2 291.5h.6v.6h-.6zM389.1 293.0h.6v.6h-.6zM379.7 307.6h.6v.6h-.6zM378.9 302.7h.6v.6h-.6zM387.2 303.1h.6v.6h-.6zM390.8 284.3h.6v.6h-.6zM352.8 290.2h.6v.6h-.6zM356.7 294.8h.6v.6h-.6zM355.7 287.5h.6v.6h-.6zM375.2 296.2h.6v.6h-.6zM363.2 293.2h.6v.6h-.6zM370.9 295.6h.6v.6h-.6zM371.9 293.3h.6v.6h-.6zM381.6 283.0h.6v.6h-.6zM366.6 296.0h.6v.6h-.6zM367.6 290.9h.6v.6h-.6zM367.2 296.6h.6v.6h-.6zM385.7 293.6h.6v.6h-.6zM369.1 297.7h.6v.6h-.6zM369.3 280.5h.6v.6h-.6zM374.9 292.2h.6v.6h-.6zM365.7 299.7h.6v.6h-.6zM372.5 290.8h.6v.6h-.6zM372.2 294.1h.6v.6h-.6zM376.8 296.7h.6v.6h-.6zM366.7 285.5h.6v.6h-.6zM360.0 294.0h.6v.6h-.6zM359.4 300.7h.6v.6h-.6zM357.4 281.6h.6v.6h-.6zM369.9 281.7h.6v.6h-.6zM389.9 287.6h.6v.6h-.6zM371.4 293.2h.6v.6h-.6zM363.0 281.7h.6v.6h-.6zM351.5 301.5h.6v.6h-.6zM355.9 299.2h.6v.6h-.6zM371.8 301.3h.6v.6h-.6zM366.3 300.4h.6v.6h-.6zM381.9 299.5h.6v.6h-.6zM387.9 293.7h.6v.6h-.6zM389.0 289.7h.6v.6h-.6zM372.1 289.0h.6v.6h-.6zM372.0 302.7h.6v.6h-.6zM379.9 295.7h.6v.6h-.6zM390.7 283.9h.6v.6h-.6zM363.0 306.3h.6v.6h-.6zM375.6 279.4h.6v.6h-.6zM375.7 286.1h.6v.6h-.6zM388.3 303.6h.6v.6h-.6zM366.0 304.7h.6v.6h-.6zM362.8 301.9h.6v.6h-.6zM378.4 294.0h.6v.6h-.6zM356.4 292.9h.6v.6h-.6zM351.6 304.1h.6v.6h-.6zM378.4 297.8h.6v.6h-.6zM380.5 295.5h.6v.6h-.6zM377.3 302.2h.6v.6h-.6zM365.5 284.4h.6v.6h-.6zM371.5 282.5h.6v.6h-.6zM372.1 300.8h.6v.6h-.6zM388.6 297.0h.6v.6h-.6zM374.2 300.6h.6v.6h-.6zM387.4 292.6h.6v.6h-.6zM358.5 289.1h.6v.6h-.6zM358.2 288.3h.6v.6h-.6zM370.7 297.6h.6v.6h-.6zM373.7 295.5h.6v.6h-.6zM368.1 298.2h.6v.6h-.6zM381.7 300.7h.6v.6h-.6zM388.5 292.8h.6v.6h-.6zM369.2 307.7h.6v.6h-.6zM374.2 298.1h.6v.6h-.6zM368.3 302.3h.6v.6h-.6zM367.6 287.4h.6v.6h-.6zM371.3 291.7h.6v.6h-.6zM381.2 292.2h.6v.6h-.6zM373.4 293.4h.6v.6h-.6zM375.7 290.3h.6v.6h-.6zM384.2 284.3h.6v.6h-.6zM367.8 289.7h.6v.6h-.6zM379.1 295.3h.6v.6h-.6zM377.3 292.5h.6v.6h-.6zM364.1 286.6h.6v.6h-.6zM368.3 291.0h.6v.6h-.6zM375.1 297.7h.6v.6h-.6zM382.7 294.2h.6v.6h-.6zM363.8 287.0h.6v.6h-.6zM372.7 297.7h.6v.6h-.6zM360.5 304.1h.6v.6h-.6zM384.5 305.1h.6v.6h-.6zM371.9 302.2h.6v.6h-.6zM366.7 294.5h.6v.6h-.6zM372.2 308.4h.6v.6h-.6zM369.6 302.2h.6v.6h-.6zM372.7 289.7h.6v.6h-.6zM374.7 299.9h.6v.6h-.6zM364.2 299.8h.6v.6h-.6zM364.2 288.4h.6v.6h-.6zM374.4 293.2h.6v.6h-.6zM361.2 282.8h.6v.6h-.6zM372.3 296.8h.6v.6h-.6zM366.9 296.4h.6v.6h-.6zM355.2 297.9h.6v.6h-.6zM376.6 297.1h.6v.6h-.6zM365.3 295.6h.6v.6h-.6zM373.4 303.0h.6v.6h-.6zM375.0 296.9h.6v.6h-.6zM364.0 301.5h.6v.6h-.6zM384.9 291.3h.6v.6h-.6zM379.0 297.3h.6v.6h-.6zM371.5 285.4h.6v.6h-.6zM391.3 281.0h.6v.6h-.6zM375.3 292.2h.6v.6h-.6zM384.6 291.8h.6v.6h-.6zM372.4 299.6h.6v.6h-.6zM377.0 291.1h.6v.6h-.6zM379.5 297.9h.6v.6h-.6zM382.9 291.2h.6v.6h-.6zM371.5 292.1h.6v.6h-.6zM362.8 296.9h.6v.6h-.6zM376.5 305.6h.6v.6h-.6zM368.4 297.9h.6v.6h-.6zM384.5 294.1h.6v.6h-.6zM372.7 296.0h.6v.6h-.6zM364.4 287.6h.6v.6h-.6zM384.3 296.3h.6v.6h-.6zM371.2 285.7h.6v.6h-.6zM373.3 303.8h.6v.6h-.6zM359.4 288.3h.6v.6h-.6zM384.2 305.7h.6v.6h-.6zM389.0 290.9h.6v.6h-.6zM378.6 289.4h.6v.6h-.6zM377.7 292.3h.6v.6h-.6zM374.1 305.0h.6v.6h-.6zM375.7 293.2h.6v.6h-.6zM372.6 297.0h.6v.6h-.6zM366.4 296.5h.6v.6h-.6zM378.6 306.6h.6v.6h-.6zM349.4 286.1h.6v.6h-.6zM358.5 301.5h.6v.6h-.6zM373.3 303.5h.6v.6h-.6zM366.4 291.4h.6v.6h-.6zM375.7 290.6h.6v.6h-.6zM384.1 295.0h.6v.6h-.6zM367.1 301.9h.6v.6h-.6zM363.0 304.3h.6v.6h-.6zM382.5 296.0h.6v.6h-.6zM382.8 307.0h.6v.6h-.6zM387.0 295.0h.6v.6h-.6zM371.4 303.2h.6v.6h-.6zM355.9 290.5h.6v.6h-.6zM377.3 299.2h.6v.6h-.6zM375.5 298.3h.6v.6h-.6zM357.6 293.6h.6v.6h-.6zM374.8 293.3h.6v.6h-.6zM372.7 299.5h.6v.6h-.6zM361.6 290.8h.6v.6h-.6zM352.6 303.5h.6v.6h-.6zM360.5 282.4h.6v.6h-.6zM380.4 293.4h.6v.6h-.6zM382.5 292.3h.6v.6h-.6zM373.6 295.9h.6v.6h-.6zM369.8 301.0h.6v.6h-.6zM360.2 299.4h.6v.6h-.6zM383.6 283.9h.6v.6h-.6zM364.5 287.6h.6v.6h-.6zM378.1 298.7h.6v.6h-.6zM364.0 286.7h.6v.6h-.6zM379.4 279.8h.6v.6h-.6zM379.0 293.9h.6v.6h-.6zM365.7 293.0h.6v.6h-.6zM369.0 289.6h.6v.6h-.6zM372.9 302.1h.6v.6h-.6zM355.6 293.3h.6v.6h-.6zM388.2 300.5h.6v.6h-.6zM363.2 289.0h.6v.6h-.6zM362.7 283.1h.6v.6h-.6zM384.5 295.5h.6v.6h-.6zM364.4 284.4h.6v.6h-.6zM367.8 291.2h.6v.6h-.6zM390.7 291.6h.6v.6h-.6zM373.3 302.9h.6v.6h-.6zM379.2 293.7h.6v.6h-.6zM378.5 291.8h.6v.6h-.6zM371.0 287.9h.6v.6h-.6zM362.3 284.1h.6v.6h-.6zM377.4 298.8h.6v.6h-.6zM373.9 300.8h.6v.6h-.6zM377.8 295.9h.6v.6h-.6zM362.4 299.4h.6v.6h-.6zM384.8 299.7h.6v.6h-.6zM385.5 291.5h.6v.6h-.6zM361.4 304.2h.6v.6h-.6zM365.7 296.8h.6v.6h-.6zM369.9 295.2h.6v.6h-.6zM369.1 291.0h.6v.6h-.6zM374.2 280.8h.6v.6h-.6zM362.2 286.7h.6v.6h-.6zM378.2 307.1h.6v.6h-.6zM369.3 300.5h.6v.6h-.6zM378.5 285.8h.6v.6h-.6zM385.1 282.6h.6v.6h-.6zM365.8 292.4h.6v.6h-.6zM385.5 295.9h.6v.6h-.6zM370.7 289.1h.6v.6h-.6zM373.0 295.3h.6v.6h-.6zM379.9 305.3h.6v.6h-.6zM379.9 295.1h.6v.6h-.6zM370.4 306.8h.6v.6h-.6zM374.2 294.9h.6v.6h-.6zM391.4 306.5h.6v.6h-.6zM378.1 294.2h.6v.6h-.6zM365.2 302.8h.6v.6h-.6zM367.1 302.1h.6v.6h-.6zM363.6 295.8h.6v.6h-.6zM376.3 296.1h.6v.6h-.6zM374.5 297.8h.6v.6h-.6zM359.9 286.9h.6v.6h-.6zM370.4 308.2h.6v.6h-.6zM370.7 288.2h.6v.6h-.6zM364.9 295.2h.6v.6h-.6zM384.7 290.8h.6v.6h-.6zM378.0 296.4h.6v.6h-.6zM368.2 288.1h.6v.6h-.6zM370.4 289.7h.6v.6h-.6zM377.8 282.1h.6v.6h-.6zM384.1 300.6h.6v.6h-.6zM378.2 306.0h.6v.6h-.6zM378.5 282.5h.6v.6h-.6zM372.6 298.3h.6v.6h-.6zM364.7 286.7h.6v.6h-.6zM376.7 298.7h.6v.6h-.6zM367.4 293.2h.6v.6h-.6zM366.6 290.8h.6v.6h-.6zM371.4 302.9h.6v.6h-.6zM354.7 292.5h.6v.6h-.6zM389.3 297.3h.6v.6h-.6zM373.7 301.1h.6v.6h-.6zM361.2 286.2h.6v.6h-.6zM354.2 284.3h.6v.6h-.6zM374.7 301.2h.6v.6h-.6zM367.5 290.0h.6v.6h-.6zM376.3 299.5h.6v.6h-.6zM374.8 281.1h.6v.6h-.6zM374.6 288.8h.6v.6h-.6zM365.0 306.0h.6v.6h-.6zM386.2 298.5h.6v.6h-.6zM375.0 296.3h.6v.6h-.6zM365.7 294.6h.6v.6h-.6zM364.9 296.2h.6v.6h-.6zM381.6 301.1h.6v.6h-.6zM361.6 294.1h.6v.6h-.6zM369.2 286.0h.6v.6h-.6zM372.8 291.5h.6v.6h-.6zM381.8 298.2h.6v.6h-.6zM363.7 295.6h.6v.6h-.6zM368.2 290.4h.6v.6h-.6zM366.8 302.8h.6v.6h-.6zM367.6 282.5h.6v.6h-.6zM363.7 300.9h.6v.6h-.6zM368.2 292.6h.6v.6h-.6zM356.9 297.9h.6v.6h-.6zM371.5 297.0h.6v.6h-.6zM380.5 301.1h.6v.6h-.6zM365.2 290.7h.6v.6h-.6zM388.7 300.2h.6v.6h-.6zM373.5 287.0h.6v.6h-.6zM381.4 298.8h.6v.6h-.6zM380.6 297.0h.6v.6h-.6zM372.7 291.0h.6v.6h-.6zM375.3 296.8h.6v.6h-.6zM379.0 302.9h.6v.6h-.6zM375.3 291.0h.6v.6h-.6zM380.6 306.3h.6v.6h-.6zM363.1 298.1h.6v.6h-.6zM377.9 298.9h.6v.6h-.6zM377.4 294.3h.6v.6h-.6zM370.9 307.3h.6v.6h-.6zM390.5 284.8h.6v.6h-.6zM364.8 291.2h.6v.6h-.6zM355.0 297.6h.6v.6h-.6zM371.4 291.1h.6v.6h-.6zM387.8 303.6h.6v.6h-.6zM367.6 299.8h.6v.6h-.6zM371.6 303.4h.6v.6h-.6zM378.2 294.7h.6v.6h-.6zM377.9 289.8h.6v.6h-.6zM380.5 306.0h.6v.6h-.6zM368.1 299.1h.6v.6h-.6zM354.2 301.8h.6v.6h-.6zM381.4 287.6h.6v.6h-.6zM390.6 295.8h.6v.6h-.6zM353.5 285.0h.6v.6h-.6zM381.3 293.0h.6v.6h-.6zM383.8 283.7h.6v.6h-.6zM370.9 302.1h.6v.6h-.6zM364.8 300.0h.6v.6h-.6zM368.2 297.5h.6v.6h-.6zM358.8 300.7h.6v.6h-.6zM386.0 286.8h.6v.6h-.6zM369.5 282.5h.6v.6h-.6zM375.2 289.7h.6v.6h-.6zM366.0 288.9h.6v.6h-.6zM375.1 291.6h.6v.6h-.6zM362.3 293.3h.6v.6h-.6zM376.3 288.8h.6v.6h-.6zM383.9 282.9h.6v.6h-.6zM376.4 292.2h.6v.6h-.6zM388.8 290.3h.6v.6h-.6zM364.9 285.2h.6v.6h-.6zM360.4 292.6h.6v.6h-.6zM361.8 306.1h.6v.6h-.6zM376.5 280.2h.6v.6h-.6zM374.2 301.7h.6v.6h-.6zM372.0 298.5h.6v.6h-.6zM370.8 296.5h.6v.6h-.6zM374.3 289.8h.6v.6h-.6zM375.7 296.2h.6v.6h-.6zM371.6 290.0h.6v.6h-.6zM361.2 296.8h.6v.6h-.6zM366.3 304.9h.6v.6h-.6zM381.8 289.8h.6v.6h-.6zM386.5 287.8h.6v.6h-.6zM367.3 293.4h.6v.6h-.6zM354.4 287.6h.6v.6h-.6zM359.4 294.0h.6v.6h-.6zM352.4 302.8h.6v.6h-.6zM368.2 290.6h.6v.6h-.6zM365.2 300.4h.6v.6h-.6zM388.4 292.0h.6v.6h-.6zM389.3 306.7h.6v.6h-.6zM386.4 297.2h.6v.6h-.6zM356.1 299.9h.6v.6h-.6zM367.6 296.4h.6v.6h-.6zM351.8 292.9h.6v.6h-.6zM374.5 288.2h.6v.6h-.6zM375.1 307.2h.6v.6h-.6zM374.5 290.0h.6v.6h-.6zM362.2 298.0h.6v.6h-.6zM365.7 278.3h.6v.6h-.6zM374.8 301.1h.6v.6h-.6zM363.5 305.7h.6v.6h-.6zM377.4 303.7h.6v.6h-.6zM355.7 295.0h.6v.6h-.6zM386.1 295.0h.6v.6h-.6zM374.0 290.4h.6v.6h-.6zM383.8 289.9h.6v.6h-.6zM373.3 279.9h.6v.6h-.6zM355.9 308.0h.6v.6h-.6zM372.6 296.6h.6v.6h-.6zM366.3 293.5h.6v.6h-.6zM358.5 285.1h.6v.6h-.6zM358.7 299.7h.6v.6h-.6zM371.5 301.0h.6v.6h-.6zM360.4 299.3h.6v.6h-.6zM367.3 295.7h.6v.6h-.6zM382.0 295.2h.6v.6h-.6zM368.2 282.8h.6v.6h-.6zM372.7 300.7h.6v.6h-.6zM365.2 294.5h.6v.6h-.6zM353.0 285.2h.6v.6h-.6zM376.3 304.5h.6v.6h-.6zM368.7 282.7h.6v.6h-.6zM367.9 283.5h.6v.6h-.6zM375.2 293.9h.6v.6h-.6zM383.2 292.2h.6v.6h-.6zM375.6 296.5h.6v.6h-.6zM376.8 284.2h.6v.6h-.6zM379.7 301.5h.6v.6h-.6zM362.3 306.0h.6v.6h-.6zM372.2 300.0h.6v.6h-.6zM378.0 301.5h.6v.6h-.6zM365.1 290.7h.6v.6h-.6zM376.1 299.5h.6v.6h-.6zM378.2 297.5h.6v.6h-.6zM366.8 303.1h.6v.6h-.6zM377.1 302.8h.6v.6h-.6zM364.8 295.9h.6v.6h-.6zM366.8 292.7h.6v.6h-.6zM374.1 297.6h.6v.6h-.6zM363.6 299.0h.6v.6h-.6zM362.9 298.2h.6v.6h-.6zM368.0 288.0h.6v.6h-.6zM384.7 307.3h.6v.6h-.6zM370.9 294.6h.6v.6h-.6zM382.4 285.2h.6v.6h-.6zM362.5 303.4h.6v.6h-.6zM381.8 291.3h.6v.6h-.6zM363.6 297.6h.6v.6h-.6zM356.7 291.3h.6v.6h-.6zM378.4 300.7h.6v.6h-.6zM383.6 284.3h.6v.6h-.6zM358.0 289.0h.6v.6h-.6zM361.4 292.7h.6v.6h-.6zM374.2 298.4h.6v.6h-.6zM387.8 286.9h.6v.6h-.6zM381.6 296.1h.6v.6h-.6zM359.2 296.1h.6v.6h-.6zM356.7 307.1h.6v.6h-.6zM364.0 302.5h.6v.6h-.6zM386.2 290.4h.6v.6h-.6zM362.2 296.0h.6v.6h-.6zM360.6 301.7h.6v.6h-.6zM373.9 289.3h.6v.6h-.6zM364.5 300.4h.6v.6h-.6zM356.2 307.6h.6v.6h-.6zM363.4 293.5h.6v.6h-.6zM361.9 307.1h.6v.6h-.6zM381.0 304.7h.6v.6h-.6zM379.1 295.7h.6v.6h-.6zM390.5 300.0h.6v.6h-.6zM376.8 299.3h.6v.6h-.6zM380.1 297.1h.6v.6h-.6zM370.2 283.1h.6v.6h-.6zM365.4 297.0h.6v.6h-.6zM371.7 280.2h.6v.6h-.6zM368.3 297.2h.6v.6h-.6zM384.8 286.0h.6v.6h-.6zM375.6 295.6h.6v.6h-.6zM373.6 296.1h.6v.6h-.6zM368.0 284.8h.6v.6h-.6zM377.0 297.9h.6v.6h-.6zM378.3 304.3h.6v.6h-.6zM362.0 298.0h.6v.6h-.6zM371.8 300.5h.6v.6h-.6zM370.1 290.5h.6v.6h-.6zM374.7 298.9h.6v.6h-.6zM361.3 304.9h.6v.6h-.6zM384.6 298.3h.6v.6h-.6zM370.8 293.2h.6v.6h-.6zM353.9 299.9h.6v.6h-.6zM361.3 291.2h.6v.6h-.6zM383.0 288.1h.6v.6h-.6zM366.3 301.4h.6v.6h-.6zM384.1 290.1h.6v.6h-.6zM376.3 298.6h.6v.6h-.6zM359.5 302.7h.6v.6h-.6zM391.8 295.4h.6v.6h-.6zM375.0 286.2h.6v.6h-.6zM391.7 295.5h.6v.6h-.6zM358.0 300.7h.6v.6h-.6zM355.9 289.9h.6v.6h-.6zM364.8 290.7h.6v.6h-.6zM365.8 299.2h.6v.6h-.6zM388.0 287.4h.6v.6h-.6zM376.8 281.5h.6v.6h-.6zM388.8 294.3h.6v.6h-.6zM364.3 306.5h.6v.6h-.6zM370.8 305.3h.6v.6h-.6zM383.8 307.4h.6v.6h-.6zM363.2 295.4h.6v.6h-.6zM376.1 293.5h.6v.6h-.6zM388.8 289.6h.6v.6h-.6zM383.0 305.2h.6v.6h-.6zM350.5 287.7h.6v.6h-.6zM362.1 290.9h.6v.6h-.6zM376.3 293.7h.6v.6h-.6zM372.9 291.6h.6v.6h-.6zM371.1 298.6h.6v.6h-.6zM380.2 289.1h.6v.6h-.6zM370.7 289.3h.6v.6h-.6zM370.0 284.2h.6v.6h-.6zM382.5 300.0h.6v.6h-.6zM370.7 289.9h.6v.6h-.6zM367.0 290.0h.6v.6h-.6zM355.0 307.2h.6v.6h-.6zM359.2 299.3h.6v.6h-.6zM378.7 283.2h.6v.6h-.6zM350.9 299.1h.6v.6h-.6zM350.1 305.7h.6v.6h-.6zM366.6 295.6h.6v.6h-.6zM372.0 290.8h.6v.6h-.6zM370.4 292.8h.6v.6h-.6zM385.7 294.3h.6v.6h-.6zM371.6 291.0h.6v.6h-.6zM365.0 289.5h.6v.6h-.6zM372.1 308.8h.6v.6h-.6zM384.3 296.8h.6v.6h-.6zM390.4 302.6h.6v.6h-.6zM374.3 293.8h.6v.6h-.6zM359.9 296.9h.6v.6h-.6zM368.5 283.1h.6v.6h-.6zM374.4 298.7h.6v.6h-.6zM374.2 291.5h.6v.6h-.6zM377.1 303.1h.6v.6h-.6zM368.6 298.8h.6v.6h-.6zM383.3 291.4h.6v.6h-.6zM373.9 289.5h.6v.6h-.6zM378.6 292.2h.6v.6h-.6zM384.6 289.3h.6v.6h-.6zM390.6 292.7h.6v.6h-.6zM362.8 288.2h.6v.6h-.6zM379.3 288.6h.6v.6h-.6zM391.8 304.6h.6v.6h-.6zM377.7 284.3h.6v.6h-.6zM371.7 289.6h.6v.6h-.6zM352.1 298.2h.6v.6h-.6zM380.9 304.6h.6v.6h-.6zM361.4 292.5h.6v.6h-.6zM375.0 298.5h.6v.6h-.6zM359.4 296.6h.6v.6h-.6zM370.8 302.1h.6v.6h-.6zM354.4 290.8h.6v.6h-.6zM366.5 292.6h.6v.6h-.6zM379.9 290.3h.6v.6h-.6zM381.2 302.6h.6v.6h-.6zM382.6 293.5h.6v.6h-.6zM362.9 293.1h.6v.6h-.6zM379.3 295.9h.6v.6h-.6zM378.4 299.3h.6v.6h-.6zM362.3 288.0h.6v.6h-.6zM387.9 291.4h.6v.6h-.6zM354.6 308.9h.6v.6h-.6zM362.8 288.0h.6v.6h-.6zM382.6 286.5h.6v.6h-.6zM362.4 302.9h.6v.6h-.6zM373.4 295.4h.6v.6h-.6zM364.9 293.3h.6v.6h-.6zM366.5 294.8h.6v.6h-.6zM380.5 285.5h.6v.6h-.6zM361.9 279.3h.6v.6h-.6zM388.5 294.4h.6v.6h-.6zM371.8 294.6h.6v.6h-.6zM383.0 297.4h.6v.6h-.6zM381.4 293.7h.6v.6h-.6zM370.7 294.6h.6v.6h-.6zM351.5 303.2h.6v.6h-.6zM354.6 287.5h.6v.6h-.6zM379.4 295.4h.6v.6h-.6zM380.9 307.8h.6v.6h-.6zM362.3 294.4h.6v.6h-.6zM383.0 293.4h.6v.6h-.6zM370.7 292.4h.6v.6h-.6zM386.0 302.9h.6v.6h-.6zM371.2 299.2h.6v.6h-.6zM361.3 303.3h.6v.6h-.6zM387.4 294.6h.6v.6h-.6zM368.3 291.3h.6v.6h-.6zM369.9 285.6h.6v.6h-.6zM357.1 307.5h.6v.6h-.6zM371.8 299.1h.6v.6h-.6zM375.4 298.6h.6v.6h-.6zM355.2 287.9h.6v.6h-.6zM379.0 302.5h.6v.6h-.6zM359.4 290.7h.6v.6h-.6zM360.2 299.9h.6v.6h-.6zM375.8 295.2h.6v.6h-.6zM364.9 297.6h.6v.6h-.6zM372.4 289.4h.6v.6h-.6zM375.7 290.0h.6v.6h-.6zM382.5 299.7h.6v.6h-.6zM364.4 299.4h.6v.6h-.6zM372.7 289.7h.6v.6h-.6zM361.9 282.5h.6v.6h-.6zM359.6 297.6h.6v.6h-.6zM385.3 290.3h.6v.6h-.6zM373.8 297.6h.6v.6h-.6zM380.6 298.3h.6v.6h-.6zM385.5 300.7h.6v.6h-.6zM363.6 298.0h.6v.6h-.6zM372.2 299.3h.6v.6h-.6zM368.7 301.2h.6v.6h-.6zM386.5 288.7h.6v.6h-.6zM366.0 297.0h.6v.6h-.6zM377.4 296.1h.6v.6h-.6zM381.1 286.1h.6v.6h-.6zM380.5 303.7h.6v.6h-.6zM384.2 298.2h.6v.6h-.6zM369.4 298.0h.6v.6h-.6zM371.2 283.1h.6v.6h-.6zM365.3 294.7h.6v.6h-.6zM366.3 288.0h.6v.6h-.6zM369.4 292.2h.6v.6h-.6zM372.8 294.6h.6v.6h-.6zM373.9 302.4h.6v.6h-.6zM373.5 298.0h.6v.6h-.6zM367.6 300.1h.6v.6h-.6zM368.3 290.3h.6v.6h-.6zM358.4 301.7h.6v.6h-.6zM366.2 296.8h.6v.6h-.6zM384.4 299.0h.6v.6h-.6zM382.5 300.2h.6v.6h-.6zM364.8 295.4h.6v.6h-.6zM365.8 287.3h.6v.6h-.6zM375.3 289.2h.6v.6h-.6zM390.5 289.4h.6v.6h-.6zM366.0 295.7h.6v.6h-.6zM366.3 295.4h.6v.6h-.6zM365.3 284.3h.6v.6h-.6zM388.7 298.3h.6v.6h-.6zM373.7 291.5h.6v.6h-.6zM370.4 297.2h.6v.6h-.6zM356.7 289.0h.6v.6h-.6zM362.2 304.4h.6v.6h-.6zM360.4 303.8h.6v.6h-.6zM371.1 295.2h.6v.6h-.6zM386.9 301.6h.6v.6h-.6zM382.3 287.0h.6v.6h-.6zM384.5 307.6h.6v.6h-.6zM370.9 291.4h.6v.6h-.6zM360.0 302.6h.6v.6h-.6zM375.2 295.1h.6v.6h-.6zM358.4 307.2h.6v.6h-.6zM381.6 294.8h.6v.6h-.6zM388.2 287.9h.6v.6h-.6zM381.7 287.5h.6v.6h-.6zM387.5 292.9h.6v.6h-.6zM385.5 291.9h.6v.6h-.6zM376.4 303.6h.6v.6h-.6zM362.1 295.7h.6v.6h-.6zM362.8 301.4h.6v.6h-.6zM365.4 292.2h.6v.6h-.6zM369.8 303.7h.6v.6h-.6zM360.5 294.8h.6v.6h-.6zM368.4 290.9h.6v.6h-.6zM363.3 293.8h.6v.6h-.6zM374.2 283.4h.6v.6h-.6zM374.6 286.1h.6v.6h-.6zM361.4 294.5h.6v.6h-.6zM369.2 302.4h.6v.6h-.6zM366.8 281.6h.6v.6h-.6zM354.3 296.3h.6v.6h-.6zM374.8 303.0h.6v.6h-.6zM366.1 300.0h.6v.6h-.6zM360.3 304.7h.6v.6h-.6zM371.2 289.9h.6v.6h-.6zM374.0 308.1h.6v.6h-.6zM362.7 285.7h.6v.6h-.6zM360.8 286.3h.6v.6h-.6zM371.4 297.6h.6v.6h-.6zM370.2 296.5h.6v.6h-.6zM385.0 292.8h.6v.6h-.6zM374.7 289.9h.6v.6h-.6zM369.3 298.1h.6v.6h-.6zM377.1 283.2h.6v.6h-.6zM361.5 295.6h.6v.6h-.6zM370.4 303.6h.6v.6h-.6zM366.5 279.5h.6v.6h-.6zM384.9 282.7h.6v.6h-.6zM361.3 297.9h.6v.6h-.6zM374.6 299.0h.6v.6h-.6zM377.9 289.6h.6v.6h-.6zM385.8 282.3h.6v.6h-.6zM365.5 297.2h.6v.6h-.6zM373.5 287.8h.6v.6h-.6zM389.4 306.0h.6v.6h-.6zM361.7 297.8h.6v.6h-.6zM365.0 291.8h.6v.6h-.6zM382.8 295.9h.6v.6h-.6zM370.8 295.8h.6v.6h-.6zM359.1 304.2h.6v.6h-.6zM363.7 304.8h.6v.6h-.6zM367.0 291.6h.6v.6h-.6zM388.3 296.4h.6v.6h-.6zM365.0 291.0h.6v.6h-.6zM378.8 292.0h.6v.6h-.6zM359.7 290.0h.6v.6h-.6zM370.7 296.8h.6v.6h-.6zM364.8 304.6h.6v.6h-.6zM361.5 289.6h.6v.6h-.6zM377.5 298.6h.6v.6h-.6zM367.7 302.2h.6v.6h-.6zM356.5 307.3h.6v.6h-.6zM372.6 305.0h.6v.6h-.6zM369.8 296.5h.6v.6h-.6zM377.8 281.9h.6v.6h-.6zM369.7 307.9h.6v.6h-.6zM382.1 297.5h.6v.6h-.6zM374.1 305.4h.6v.6h-.6zM375.7 280.8h.6v.6h-.6zM361.6 292.8h.6v.6h-.6zM373.6 291.6h.6v.6h-.6zM370.8 307.5h.6v.6h-.6zM382.3 299.5h.6v.6h-.6zM372.2 295.5h.6v.6h-.6zM376.0 296.8h.6v.6h-.6zM364.0 300.9h.6v.6h-.6zM362.9 294.7h.6v.6h-.6zM368.1 286.4h.6v.6h-.6zM378.7 294.5h.6v.6h-.6zM359.2 294.4h.6v.6h-.6zM356.9 305.7h.6v.6h-.6zM365.8 300.3h.6v.6h-.6zM361.4 288.6h.6v.6h-.6zM371.0 298.1h.6v.6h-.6zM382.1 293.0h.6v.6h-.6zM384.1 302.2h.6v.6h-.6zM362.4 293.7h.6v.6h-.6zM362.0 307.8h.6v.6h-.6zM366.0 301.6h.6v.6h-.6zM382.0 293.1h.6v.6h-.6zM366.7 297.6h.6v.6h-.6zM363.5 285.5h.6v.6h-.6zM361.4 297.5h.6v.6h-.6zM374.1 308.2h.6v.6h-.6zM352.0 298.8h.6v.6h-.6zM359.4 303.6h.6v.6h-.6zM379.6 295.9h.6v.6h-.6zM388.2 292.2h.6v.6h-.6zM366.2 287.1h.6v.6h-.6zM364.8 295.9h.6v.6h-.6zM379.4 304.6h.6v.6h-.6zM369.1 289.6h.6v.6h-.6zM368.3 291.8h.6v.6h-.6zM366.9 292.0h.6v.6h-.6zM362.5 294.6h.6v.6h-.6zM366.4 293.7h.6v.6h-.6zM356.9 296.1h.6v.6h-.6zM378.3 299.8h.6v.6h-.6zM366.0 286.5h.6v.6h-.6zM357.8 286.3h.6v.6h-.6zM365.0 292.7h.6v.6h-.6zM352.6 300.0h.6v.6h-.6zM355.2 289.9h.6v.6h-.6zM364.1 301.2h.6v.6h-.6zM369.0 292.1h.6v.6h-.6zM369.8 293.7h.6v.6h-.6zM370.8 289.1h.6v.6h-.6zM375.9 291.1h.6v.6h-.6zM378.3 287.0h.6v.6h-.6zM352.7 300.2h.6v.6h-.6zM366.9 286.4h.6v.6h-.6zM376.8 291.2h.6v.6h-.6zM380.0 290.9h.6v.6h-.6zM381.8 296.1h.6v.6h-.6zM375.9 296.2h.6v.6h-.6zM368.0 292.3h.6v.6h-.6zM376.9 300.3h.6v.6h-.6zM390.4 286.5h.6v.6h-.6zM383.8 294.5h.6v.6h-.6zM374.5 289.2h.6v.6h-.6zM390.0 288.9h.6v.6h-.6zM371.1 289.6h.6v.6h-.6zM357.7 291.7h.6v.6h-.6zM376.0 291.8h.6v.6h-.6zM368.2 287.0h.6v.6h-.6zM374.7 286.9h.6v.6h-.6zM368.5 307.2h.6v.6h-.6zM376.1 290.1h.6v.6h-.6zM368.3 287.9h.6v.6h-.6zM373.2 300.2h.6v.6h-.6zM382.1 293.0h.6v.6h-.6zM359.0 294.5h.6v.6h-.6zM390.2 297.1h.6v.6h-.6zM371.3 279.7h.6v.6h-.6zM367.3 299.0h.6v.6h-.6zM361.7 305.0h.6v.6h-.6zM365.9 288.6h.6v.6h-.6zM365.7 294.3h.6v.6h-.6zM382.8 290.8h.6v.6h-.6zM352.7 294.4h.6v.6h-.6zM377.7 306.4h.6v.6h-.6zM359.8 305.9h.6v.6h-.6zM379.3 298.4h.6v.6h-.6zM363.7 288.5h.6v.6h-.6zM361.7 301.9h.6v.6h-.6zM374.4 302.9h.6v.6h-.6zM391.7 295.2h.6v.6h-.6zM357.9 291.7h.6v.6h-.6zM368.0 292.2h.6v.6h-.6zM373.6 288.9h.6v.6h-.6zM384.6 285.0h.6v.6h-.6zM363.2 282.6h.6v.6h-.6zM356.8 299.3h.6v.6h-.6zM378.8 293.6h.6v.6h-.6zM381.1 299.6h.6v.6h-.6zM365.8 294.7h.6v.6h-.6zM367.2 297.8h.6v.6h-.6zM377.9 304.0h.6v.6h-.6zM376.6 302.9h.6v.6h-.6zM360.5 293.1h.6v.6h-.6zM351.1 294.7h.6v.6h-.6zM373.0 297.0h.6v.6h-.6zM373.6 285.3h.6v.6h-.6zM364.5 293.8h.6v.6h-.6zM373.8 288.7h.6v.6h-.6zM370.9 289.7h.6v.6h-.6zM357.7 290.2h.6v.6h-.6zM363.3 301.2h.6v.6h-.6zM386.5 299.3h.6v.6h-.6zM369.7 291.0h.6v.6h-.6zM355.0 291.2h.6v.6h-.6zM388.9 303.5h.6v.6h-.6zM374.4 293.2h.6v.6h-.6zM372.0 298.1h.6v.6h-.6zM371.9 298.2h.6v.6h-.6zM363.7 295.4h.6v.6h-.6zM368.2 302.9h.6v.6h-.6zM358.6 304.5h.6v.6h-.6zM371.1 291.4h.6v.6h-.6zM372.2 296.0h.6v.6h-.6zM369.5 298.2h.6v.6h-.6zM365.8 282.7h.6v.6h-.6zM379.5 294.9h.6v.6h-.6zM390.0 297.9h.6v.6h-.6zM350.4 304.1h.6v.6h-.6zM364.6 299.1h.6v.6h-.6zM360.2 294.4h.6v.6h-.6zM354.6 299.9h.6v.6h-.6zM378.1 287.5h.6v.6h-.6zM376.9 301.9h.6v.6h-.6zM380.7 290.2h.6v.6h-.6zM364.5 286.9h.6v.6h-.6zM358.0 297.4h.6v.6h-.6zM372.4 304.6h.6v.6h-.6zM375.0 292.7h.6v.6h-.6zM356.6 306.3h.6v.6h-.6zM373.8 294.8h.6v.6h-.6zM361.1 287.4h.6v.6h-.6zM378.8 288.0h.6v.6h-.6zM378.3 299.6h.6v.6h-.6zM367.9 283.2h.6v.6h-.6zM376.4 305.3h.6v.6h-.6zM363.1 285.8h.6v.6h-.6zM383.8 296.1h.6v.6h-.6zM365.3 304.0h.6v.6h-.6zM369.0 298.4h.6v.6h-.6zM367.7 289.6h.6v.6h-.6zM374.4 288.8h.6v.6h-.6zM352.8 291.1h.6v.6h-.6zM385.3 303.1h.6v.6h-.6zM389.4 296.9h.6v.6h-.6zM367.3 298.5h.6v.6h-.6zM361.7 300.4h.6v.6h-.6zM367.2 297.0h.6v.6h-.6zM362.8 294.1h.6v.6h-.6zM382.6 293.5h.6v.6h-.6zM364.7 297.1h.6v.6h-.6zM381.5 293.7h.6v.6h-.6zM359.4 283.7h.6v.6h-.6zM357.5 302.8h.6v.6h-.6zM371.0 298.6h.6v.6h-.6zM383.6 297.1h.6v.6h-.6zM377.2 291.4h.6v.6h-.6zM354.6 299.6h.6v.6h-.6zM371.0 299.3h.6v.6h-.6zM360.5 294.0h.6v.6h-.6zM373.1 304.6h.6v.6h-.6zM369.5 296.0h.6v.6h-.6zM349.0 300.7h.6v.6h-.6zM367.2 304.4h.6v.6h-.6zM371.0 292.4h.6v.6h-.6zM376.7 293.3h.6v.6h-.6zM366.4 306.3h.6v.6h-.6zM382.6 295.9h.6v.6h-.6zM380.7 301.1h.6v.6h-.6zM378.3 295.4h.6v.6h-.6zM372.8 298.0h.6v.6h-.6zM378.1 297.7h.6v.6h-.6zM366.1 294.5h.6v.6h-.6zM376.9 288.0h.6v.6h-.6zM371.9 300.6h.6v.6h-.6zM373.8 293.0h.6v.6h-.6zM371.8 291.6h.6v.6h-.6zM382.6 292.4h.6v.6h-.6zM354.1 286.4h.6v.6h-.6zM375.2 296.6h.6v.6h-.6zM366.9 285.6h.6v.6h-.6zM370.4 289.0h.6v.6h-.6zM364.9 295.1h.6v.6h-.6zM363.7 297.3h.6v.6h-.6zM364.0 291.8h.6v.6h-.6zM369.6 305.6h.6v.6h-.6zM389.0 301.9h.6v.6h-.6zM364.1 295.1h.6v.6h-.6zM381.8 300.9h.6v.6h-.6zM354.5 294.7h.6v.6h-.6zM364.0 300.5h.6v.6h-.6zM378.9 291.3h.6v.6h-.6zM371.1 308.7h.6v.6h-.6zM366.3 291.7h.6v.6h-.6zM387.9 294.8h.6v.6h-.6zM377.1 286.1h.6v.6h-.6zM391.3 302.2h.6v.6h-.6zM375.8 300.2h.6v.6h-.6zM366.6 291.7h.6v.6h-.6zM355.1 297.8h.6v.6h-.6zM385.3 301.3h.6v.6h-.6zM381.9 300.2h.6v.6h-.6zM362.1 285.8h.6v.6h-.6zM378.9 296.3h.6v.6h-.6zM382.6 293.1h.6v.6h-.6zM362.5 298.3h.6v.6h-.6zM366.0 283.4h.6v.6h-.6zM365.5 288.8h.6v.6h-.6zM360.0 291.2h.6v.6h-.6zM390.6 292.2h.6v.6h-.6zM384.3 294.6h.6v.6h-.6zM376.3 290.3h.6v.6h-.6zM371.2 283.1h.6v.6h-.6zM391.3 289.7h.6v.6h-.6zM378.3 290.9h.6v.6h-.6zM374.9 286.7h.6v.6h-.6zM368.0 301.6h.6v.6h-.6zM378.4 281.2h.6v.6h-.6zM381.2 285.8h.6v.6h-.6zM375.1 298.8h.6v.6h-.6zM365.1 292.9h.6v.6h-.6zM369.4 298.0h.6v.6h-.6zM381.8 304.8h.6v.6h-.6zM361.8 307.8h.6v.6h-.6zM369.2 300.6h.6v.6h-.6zM370.6 295.7h.6v.6h-.6zM362.1 297.9h.6v.6h-.6zM371.8 295.2h.6v.6h-.6zM379.7 293.7h.6v.6h-.6zM372.0 296.7h.6v.6h-.6zM386.0 301.9h.6v.6h-.6zM360.7 290.6h.6v.6h-.6zM372.2 301.2h.6v.6h-.6zM382.4 293.6h.6v.6h-.6zM387.1 305.3h.6v.6h-.6zM389.2 296.6h.6v.6h-.6zM378.2 284.2h.6v.6h-.6zM352.8 290.8h.6v.6h-.6zM379.7 302.7h.6v.6h-.6zM370.9 302.5h.6v.6h-.6zM378.2 306.0h.6v.6h-.6zM354.9 289.2h.6v.6h-.6zM361.7 287.7h.6v.6h-.6zM389.8 288.5h.6v.6h-.6zM363.1 292.3h.6v.6h-.6zM381.5 291.8h.6v.6h-.6zM379.9 299.0h.6v.6h-.6zM365.1 278.3h.6v.6h-.6zM362.1 286.2h.6v.6h-.6zM389.6 290.0h.6v.6h-.6zM360.5 297.8h.6v.6h-.6zM372.6 288.5h.6v.6h-.6zM383.8 301.6h.6v.6h-.6zM375.0 289.7h.6v.6h-.6zM362.6 280.5h.6v.6h-.6zM376.1 297.9h.6v.6h-.6zM362.1 295.3h.6v.6h-.6zM353.6 299.5h.6v.6h-.6zM367.4 291.6h.6v.6h-.6zM378.7 294.2h.6v.6h-.6zM382.7 298.8h.6v.6h-.6zM384.5 296.0h.6v.6h-.6zM353.7 302.5h.6v.6h-.6zM374.7 285.2h.6v.6h-.6zM372.7 301.4h.6v.6h-.6zM361.0 295.4h.6v.6h-.6zM364.0 287.9h.6v.6h-.6zM365.3 304.2h.6v.6h-.6zM379.4 294.9h.6v.6h-.6zM371.1 296.0h.6v.6h-.6zM375.1 296.4h.6v.6h-.6zM353.5 301.6h.6v.6h-.6zM379.6 286.5h.6v.6h-.6zM370.5 294.4h.6v.6h-.6zM365.6 298.9h.6v.6h-.6zM369.1 293.1h.6v.6h-.6zM361.7 293.1h.6v.6h-.6zM360.8 295.4h.6v.6h-.6zM386.3 302.3h.6v.6h-.6zM376.6 285.4h.6v.6h-.6zM383.1 301.7h.6v.6h-.6zM372.2 292.7h.6v.6h-.6zM383.8 287.3h.6v.6h-.6zM382.7 280.9h.6v.6h-.6zM372.2 304.8h.6v.6h-.6zM365.3 299.3h.6v.6h-.6zM373.1 284.6h.6v.6h-.6zM365.2 303.2h.6v.6h-.6zM384.8 290.8h.6v.6h-.6zM384.2 290.0h.6v.6h-.6zM374.7 294.9h.6v.6h-.6zM358.5 297.4h.6v.6h-.6zM363.0 289.0h.6v.6h-.6zM363.0 288.1h.6v.6h-.6zM381.6 295.6h.6v.6h-.6zM374.8 293.2h.6v.6h-.6zM372.7 293.2h.6v.6h-.6zM360.2 284.2h.6v.6h-.6zM372.8 302.3h.6v.6h-.6zM374.5 306.6h.6v.6h-.6zM357.2 293.2h.6v.6h-.6zM365.3 303.9h.6v.6h-.6zM390.3 291.3h.6v.6h-.6zM379.9 293.3h.6v.6h-.6zM361.2 294.3h.6v.6h-.6zM360.7 306.1h.6v.6h-.6zM378.4 303.5h.6v.6h-.6zM380.7 295.7h.6v.6h-.6zM382.9 307.3h.6v.6h-.6zM360.9 300.7h.6v.6h-.6zM375.6 293.8h.6v.6h-.6zM368.9 298.8h.6v.6h-.6zM378.2 299.8h.6v.6h-.6zM367.6 285.6h.6v.6h-.6zM386.3 304.3h.6v.6h-.6zM365.9 294.8h.6v.6h-.6zM380.7 282.4h.6v.6h-.6zM374.9 290.0h.6v.6h-.6zM374.3 292.0h.6v.6h-.6zM374.0 282.2h.6v.6h-.6zM358.1 284.4h.6v.6h-.6zM381.8 294.4h.6v.6h-.6zM384.5 280.4h.6v.6h-.6zM365.5 305.5h.6v.6h-.6zM363.4 281.6h.6v.6h-.6zM363.9 292.5h.6v.6h-.6zM371.9 304.4h.6v.6h-.6zM386.4 306.2h.6v.6h-.6zM378.3 291.4h.6v.6h-.6zM366.6 284.4h.6v.6h-.6zM385.8 304.0h.6v.6h-.6zM373.0 288.6h.6v.6h-.6zM379.3 298.5h.6v.6h-.6zM373.7 286.7h.6v.6h-.6zM374.6 290.9h.6v.6h-.6zM380.0 299.3h.6v.6h-.6zM376.8 291.9h.6v.6h-.6zM388.5 300.6h.6v.6h-.6zM385.7 301.0h.6v.6h-.6zM379.2 297.8h.6v.6h-.6zM360.4 281.9h.6v.6h-.6zM361.9 299.4h.6v.6h-.6zM381.8 296.3h.6v.6h-.6zM373.0 308.2h.6v.6h-.6zM367.7 282.2h.6v.6h-.6zM355.3 292.7h.6v.6h-.6zM379.6 300.3h.6v.6h-.6zM369.6 300.9h.6v.6h-.6zM371.5 289.8h.6v.6h-.6zM367.9 300.4h.6v.6h-.6zM382.3 286.9h.6v.6h-.6zM361.3 295.9h.6v.6h-.6zM358.5 298.0h.6v.6h-.6zM377.5 290.6h.6v.6h-.6zM371.7 298.5h.6v.6h-.6zM353.2 294.8h.6v.6h-.6zM378.5 301.6h.6v.6h-.6zM384.6 294.5h.6v.6h-.6zM356.4 304.7h.6v.6h-.6zM380.3 290.4h.6v.6h-.6zM383.2 302.5h.6v.6h-.6zM370.5 278.0h.6v.6h-.6zM366.9 289.6h.6v.6h-.6zM363.0 294.4h.6v.6h-.6zM360.3 297.8h.6v.6h-.6zM383.2 291.2h.6v.6h-.6zM377.9 294.1h.6v.6h-.6zM385.8 289.9h.6v.6h-.6zM379.9 289.4h.6v.6h-.6zM374.5 294.9h.6v.6h-.6zM383.7 283.7h.6v.6h-.6zM357.5 305.0h.6v.6h-.6zM376.2 307.2h.6v.6h-.6zM360.9 296.5h.6v.6h-.6zM378.5 307.7h.6v.6h-.6zM371.4 291.8h.6v.6h-.6zM379.7 294.3h.6v.6h-.6zM363.9 300.5h.6v.6h-.6zM351.5 287.7h.6v.6h-.6zM386.7 291.4h.6v.6h-.6zM368.5 297.7h.6v.6h-.6zM384.1 298.8h.6v.6h-.6zM361.6 290.9h.6v.6h-.6zM383.3 294.1h.6v.6h-.6zM365.2 301.3h.6v.6h-.6zM360.4 289.9h.6v.6h-.6zM364.5 297.6h.6v.6h-.6zM366.9 303.0h.6v.6h-.6zM365.1 293.0h.6v.6h-.6zM378.1 296.5h.6v.6h-.6zM361.1 305.8h.6v.6h-.6zM378.2 291.5h.6v.6h-.6zM374.2 287.0h.6v.6h-.6zM358.8 292.8h.6v.6h-.6zM375.9 295.7h.6v.6h-.6zM363.7 285.0h.6v.6h-.6zM354.0 306.5h.6v.6h-.6zM376.0 289.2h.6v.6h-.6zM384.7 298.9h.6v.6h-.6zM367.6 290.6h.6v.6h-.6zM384.2 297.4h.6v.6h-.6zM389.6 297.6h.6v.6h-.6zM365.7 290.7h.6v.6h-.6zM364.5 296.8h.6v.6h-.6zM374.7 299.4h.6v.6h-.6zM376.8 287.4h.6v.6h-.6zM369.8 288.2h.6v.6h-.6zM377.2 285.5h.6v.6h-.6zM365.8 288.8h.6v.6h-.6zM365.4 293.2h.6v.6h-.6zM388.2 293.2h.6v.6h-.6zM356.6 292.8h.6v.6h-.6zM380.0 299.0h.6v.6h-.6zM383.9 295.7h.6v.6h-.6zM385.0 285.4h.6v.6h-.6zM370.2 288.8h.6v.6h-.6zM373.9 306.6h.6v.6h-.6zM366.7 306.5h.6v.6h-.6zM361.1 305.3h.6v.6h-.6zM353.9 288.9h.6v.6h-.6zM382.7 294.3h.6v.6h-.6zM373.6 294.9h.6v.6h-.6zM373.9 293.7h.6v.6h-.6zM361.5 292.9h.6v.6h-.6zM373.2 288.5h.6v.6h-.6zM377.0 307.7h.6v.6h-.6zM354.4 291.1h.6v.6h-.6zM369.0 295.1h.6v.6h-.6zM373.0 289.8h.6v.6h-.6zM371.6 295.0h.6v.6h-.6zM371.1 306.1h.6v.6h-.6zM373.4 284.4h.6v.6h-.6zM355.3 299.3h.6v.6h-.6zM368.4 290.6h.6v.6h-.6zM357.5 292.8h.6v.6h-.6zM371.0 290.1h.6v.6h-.6zM368.2 301.4h.6v.6h-.6zM380.4 298.9h.6v.6h-.6zM370.1 285.2h.6v.6h-.6zM380.3 305.8h.6v.6h-.6zM385.6 303.4h.6v.6h-.6zM375.0 297.7h.6v.6h-.6zM371.9 304.0h.6v.6h-.6zM380.3 292.7h.6v.6h-.6zM372.0 283.4h.6v.6h-.6zM364.2 292.8h.6v.6h-.6zM381.8 295.6h.6v.6h-.6zM368.8 299.5h.6v.6h-.6zM350.7 301.8h.6v.6h-.6zM371.3 296.2h.6v.6h-.6zM379.1 291.5h.6v.6h-.6zM373.3 298.6h.6v.6h-.6zM368.3 297.8h.6v.6h-.6zM375.6 300.1h.6v.6h-.6zM361.5 291.1h.6v.6h-.6zM367.4 303.6h.6v.6h-.6zM374.7 283.1h.6v.6h-.6zM358.4 309.0h.6v.6h-.6zM375.6 285.7h.6v.6h-.6zM362.3 296.0h.6v.6h-.6zM387.2 306.7h.6v.6h-.6zM368.1 292.8h.6v.6h-.6zM388.7 297.4h.6v.6h-.6zM373.0 304.3h.6v.6h-.6zM377.2 289.0h.6v.6h-.6zM355.7 295.1h.6v.6h-.6zM377.5 304.8h.6v.6h-.6zM378.6 305.9h.6v.6h-.6zM380.5 296.5h.6v.6h-.6zM376.6 297.9h.6v.6h-.6zM365.3 294.2h.6v.6h-.6zM373.4 291.8h.6v.6h-.6zM356.4 284.6h.6v.6h-.6zM377.4 298.8h.6v.6h-.6zM373.2 286.6h.6v.6h-.6zM381.1 292.2h.6v.6h-.6zM349.8 306.3h.6v.6h-.6zM377.7 291.8h.6v.6h-.6zM387.8 304.8h.6v.6h-.6zM374.8 282.7h.6v.6h-.6zM367.9 293.0h.6v.6h-.6zM376.9 294.1h.6v.6h-.6zM375.7 283.2h.6v.6h-.6zM365.1 305.4h.6v.6h-.6zM356.5 301.7h.6v.6h-.6zM357.2 304.0h.6v.6h-.6zM352.2 297.4h.6v.6h-.6zM367.6 303.9h.6v.6h-.6zM384.6 296.4h.6v.6h-.6zM391.1 302.1h.6v.6h-.6zM366.9 287.9h.6v.6h-.6zM376.4 294.2h.6v.6h-.6zM367.0 283.4h.6v.6h-.6zM370.5 294.2h.6v.6h-.6zM382.5 291.3h.6v.6h-.6zM355.3 287.3h.6v.6h-.6zM371.6 296.8h.6v.6h-.6zM379.7 292.2h.6v.6h-.6zM377.8 296.0h.6v.6h-.6zM390.0 294.6h.6v.6h-.6zM373.5 299.1h.6v.6h-.6zM385.0 288.4h.6v.6h-.6zM366.9 293.0h.6v.6h-.6zM349.2 304.4h.6v.6h-.6zM383.5 295.2h.6v.6h-.6zM381.7 284.8h.6v.6h-.6zM388.4 298.0h.6v.6h-.6zM359.2 295.4h.6v.6h-.6zM380.1 302.1h.6v.6h-.6zM373.9 291.2h.6v.6h-.6zM380.2 289.5h.6v.6h-.6zM371.2 300.5h.6v.6h-.6zM356.6 297.7h.6v.6h-.6zM351.1 288.3h.6v.6h-.6zM358.8 294.4h.6v.6h-.6zM379.6 294.6h.6v.6h-.6zM381.8 295.7h.6v.6h-.6zM369.8 298.6h.6v.6h-.6zM369.5 296.0h.6v.6h-.6zM383.1 290.9h.6v.6h-.6zM384.3 287.0h.6v.6h-.6zM369.7 282.5h.6v.6h-.6zM366.3 306.5h.6v.6h-.6zM375.8 304.2h.6v.6h-.6zM356.3 287.7h.6v.6h-.6zM377.0 301.0h.6v.6h-.6zM380.9 282.9h.6v.6h-.6zM377.5 294.5h.6v.6h-.6zM373.3 298.5h.6v.6h-.6zM369.0 282.8h.6v.6h-.6zM360.6 284.5h.6v.6h-.6zM357.9 294.0h.6v.6h-.6zM386.0 289.8h.6v.6h-.6zM363.8 286.7h.6v.6h-.6zM353.5 295.5h.6v.6h-.6zM366.8 293.3h.6v.6h-.6zM361.7 298.5h.6v.6h-.6zM359.1 299.0h.6v.6h-.6zM364.9 300.7h.6v.6h-.6zM362.5 298.2h.6v.6h-.6zM376.7 294.4h.6v.6h-.6zM389.5 296.3h.6v.6h-.6zM362.5 300.0h.6v.6h-.6zM363.2 291.1h.6v.6h-.6zM372.1 296.3h.6v.6h-.6zM390.3 282.4h.6v.6h-.6zM369.2 303.2h.6v.6h-.6zM370.3 297.3h.6v.6h-.6zM388.3 286.1h.6v.6h-.6zM372.5 300.7h.6v.6h-.6zM365.7 282.3h.6v.6h-.6zM361.3 296.4h.6v.6h-.6zM374.0 308.3h.6v.6h-.6zM386.2 283.8h.6v.6h-.6zM383.1 301.6h.6v.6h-.6zM389.4 293.9h.6v.6h-.6zM366.0 296.1h.6v.6h-.6zM388.6 299.5h.6v.6h-.6zM390.2 300.7h.6v.6h-.6zM365.7 287.7h.6v.6h-.6zM391.8 284.0h.6v.6h-.6zM368.3 292.7h.6v.6h-.6zM362.2 290.9h.6v.6h-.6zM371.3 291.2h.6v.6h-.6zM373.3 301.8h.6v.6h-.6zM363.3 292.1h.6v.6h-.6zM353.3 300.1h.6v.6h-.6zM379.3 305.9h.6v.6h-.6zM381.4 293.0h.6v.6h-.6zM367.8 292.8h.6v.6h-.6zM359.0 300.6h.6v.6h-.6zM365.5 289.8h.6v.6h-.6zM377.5 295.8h.6v.6h-.6zM365.7 293.3h.6v.6h-.6zM366.7 304.8h.6v.6h-.6zM382.7 289.7h.6v.6h-.6zM371.6 305.0h.6v.6h-.6zM368.9 307.9h.6v.6h-.6zM376.8 299.9h.6v.6h-.6zM349.7 301.2h.6v.6h-.6zM375.6 299.2h.6v.6h-.6zM377.2 298.8h.6v.6h-.6zM366.6 301.5h.6v.6h-.6zM372.7 287.4h.6v.6h-.6zM361.1 296.2h.6v.6h-.6zM375.6 279.0h.6v.6h-.6zM349.9 302.6h.6v.6h-.6zM355.6 293.2h.6v.6h-.6zM365.6 299.1h.6v.6h-.6zM387.1 306.7h.6v.6h-.6zM361.2 304.0h.6v.6h-.6zM359.0 297.2h.6v.6h-.6zM373.8 299.5h.6v.6h-.6zM363.4 304.7h.6v.6h-.6zM371.3 294.9h.6v.6h-.6zM369.1 287.3h.6v.6h-.6zM379.7 297.4h.6v.6h-.6zM376.9 308.6h.6v.6h-.6zM362.7 292.9h.6v.6h-.6zM372.1 301.2h.6v.6h-.6zM370.1 301.8h.6v.6h-.6zM376.9 282.2h.6v.6h-.6zM364.7 280.2h.6v.6h-.6zM368.9 292.0h.6v.6h-.6zM378.3 296.2h.6v.6h-.6zM371.3 304.2h.6v.6h-.6zM378.4 286.0h.6v.6h-.6zM364.6 297.4h.6v.6h-.6zM390.3 293.6h.6v.6h-.6zM370.2 296.9h.6v.6h-.6zM380.4 294.3h.6v.6h-.6zM375.2 291.9h.6v.6h-.6zM366.1 289.2h.6v.6h-.6zM379.1 291.0h.6v.6h-.6zM377.9 298.0h.6v.6h-.6zM361.6 286.1h.6v.6h-.6zM370.2 300.9h.6v.6h-.6zM386.6 297.8h.6v.6h-.6zM367.8 298.9h.6v.6h-.6zM372.1 299.5h.6v.6h-.6zM360.9 287.0h.6v.6h-.6zM365.1 294.7h.6v.6h-.6zM375.8 292.4h.6v.6h-.6zM375.8 300.0h.6v.6h-.6zM359.5 294.3h.6v.6h-.6zM355.3 291.0h.6v.6h-.6zM381.7 289.8h.6v.6h-.6zM381.6 295.8h.6v.6h-.6zM381.3 303.0h.6v.6h-.6zM373.2 291.1h.6v.6h-.6zM370.0 291.7h.6v.6h-.6zM364.4 282.7h.6v.6h-.6zM366.6 297.4h.6v.6h-.6zM366.8 289.5h.6v.6h-.6zM376.4 298.4h.6v.6h-.6zM367.3 297.2h.6v.6h-.6zM361.5 301.3h.6v.6h-.6zM361.4 292.5h.6v.6h-.6zM373.5 291.9h.6v.6h-.6zM388.3 282.3h.6v.6h-.6zM373.3 285.8h.6v.6h-.6zM375.4 285.5h.6v.6h-.6zM378.2 298.9h.6v.6h-.6zM390.4 303.8h.6v.6h-.6zM367.1 301.9h.6v.6h-.6zM367.1 294.2h.6v.6h-.6zM366.6 282.1h.6v.6h-.6zM378.5 280.2h.6v.6h-.6zM369.5 298.8h.6v.6h-.6zM373.2 283.5h.6v.6h-.6zM365.0 300.0h.6v.6h-.6zM383.8 306.6h.6v.6h-.6zM352.5 298.4h.6v.6h-.6zM366.8 300.6h.6v.6h-.6zM353.9 294.0h.6v.6h-.6zM379.6 290.3h.6v.6h-.6zM368.1 287.9h.6v.6h-.6zM384.0 285.3h.6v.6h-.6zM362.2 292.6h.6v.6h-.6zM375.0 288.9h.6v.6h-.6zM378.2 297.5h.6v.6h-.6zM375.0 294.5h.6v.6h-.6zM377.0 286.4h.6v.6h-.6zM359.1 291.9h.6v.6h-.6zM360.1 300.1h.6v.6h-.6zM376.8 297.5h.6v.6h-.6zM364.6 285.5h.6v.6h-.6zM377.9 284.2h.6v.6h-.6zM375.2 294.0h.6v.6h-.6zM380.1 295.4h.6v.6h-.6zM373.1 290.8h.6v.6h-.6zM353.5 292.5h.6v.6h-.6zM379.5 302.6h.6v.6h-.6zM386.8 287.7h.6v.6h-.6zM361.9 300.1h.6v.6h-.6zM375.4 283.9h.6v.6h-.6zM366.0 306.5h.6v.6h-.6zM352.4 296.1h.6v.6h-.6zM357.1 306.7h.6v.6h-.6zM367.2 287.5h.6v.6h-.6zM353.6 289.8h.6v.6h-.6zM369.1 286.5h.6v.6h-.6zM375.7 291.6h.6v.6h-.6zM362.9 305.1h.6v.6h-.6zM376.7 288.5h.6v.6h-.6zM387.9 294.6h.6v.6h-.6zM377.4 296.1h.6v.6h-.6zM384.7 299.5h.6v.6h-.6zM368.3 300.2h.6v.6h-.6zM367.8 296.0h.6v.6h-.6zM389.6 287.2h.6v.6h-.6zM360.9 292.1h.6v.6h-.6zM366.6 304.5h.6v.6h-.6zM389.0 291.7h.6v.6h-.6zM374.0 292.4h.6v.6h-.6zM379.2 299.8h.6v.6h-.6zM380.1 300.6h.6v.6h-.6zM379.5 293.6h.6v.6h-.6zM372.4 296.6h.6v.6h-.6zM371.4 297.5h.6v.6h-.6zM362.8 293.9h.6v.6h-.6zM365.5 286.5h.6v.6h-.6zM364.4 291.4h.6v.6h-.6zM370.4 283.6h.6v.6h-.6zM369.2 286.7h.6v.6h-.6zM363.2 296.4h.6v.6h-.6zM383.9 297.1h.6v.6h-.6zM366.7 291.8h.6v.6h-.6zM386.4 283.1h.6v.6h-.6zM384.3 284.0h.6v.6h-.6zM365.2 295.3h.6v.6h-.6zM369.6 307.2h.6v.6h-.6zM377.3 294.6h.6v.6h-.6zM382.3 295.3h.6v.6h-.6zM363.3 303.2h.6v.6h-.6zM388.1 304.4h.6v.6h-.6zM359.4 309.0h.6v.6h-.6zM367.5 300.6h.6v.6h-.6zM354.6 287.5h.6v.6h-.6zM384.7 298.6h.6v.6h-.6zM376.7 293.6h.6v.6h-.6zM371.9 296.7h.6v.6h-.6zM380.1 293.1h.6v.6h-.6zM362.3 292.4h.6v.6h-.6zM349.3 286.8h.6v.6h-.6zM371.1 308.9h.6v.6h-.6zM383.3 295.9h.6v.6h-.6zM379.9 293.0h.6v.6h-.6zM362.2 302.3h.6v.6h-.6zM373.4 306.7h.6v.6h-.6zM369.2 292.3h.6v.6h-.6zM375.7 293.6h.6v.6h-.6zM368.6 288.4h.6v.6h-.6zM374.7 297.4h.6v.6h-.6zM391.7 294.8h.6v.6h-.6zM353.1 298.4h.6v.6h-.6zM363.4 293.8h.6v.6h-.6zM370.0 283.9h.6v.6h-.6zM378.2 288.6h.6v.6h-.6zM352.1 289.7h.6v.6h-.6zM385.5 296.4h.6v.6h-.6zM366.5 293.1h.6v.6h-.6zM382.4 291.2h.6v.6h-.6zM376.5 302.1h.6v.6h-.6zM362.2 290.7h.6v.6h-.6zM376.8 295.1h.6v.6h-.6zM370.7 291.1h.6v.6h-.6zM371.3 308.6h.6v.6h-.6zM386.7 283.2h.6v.6h-.6zM372.5 295.7h.6v.6h-.6zM372.4 284.9h.6v.6h-.6zM370.6 296.1h.6v.6h-.6zM364.6 297.3h.6v.6h-.6zM373.1 297.9h.6v.6h-.6zM370.2 291.6h.6v.6h-.6zM374.0 303.0h.6v.6h-.6zM381.7 294.4h.6v.6h-.6zM367.0 302.8h.6v.6h-.6zM377.8 301.5h.6v.6h-.6zM369.0 288.7h.6v.6h-.6zM374.0 290.4h.6v.6h-.6zM384.4 301.3h.6v.6h-.6zM386.4 302.6h.6v.6h-.6zM366.9 288.7h.6v.6h-.6zM382.5 302.4h.6v.6h-.6zM372.6 286.5h.6v.6h-.6zM355.5 297.0h.6v.6h-.6zM363.1 290.0h.6v.6h-.6zM376.8 302.7h.6v.6h-.6zM349.7 290.1h.6v.6h-.6zM386.0 294.7h.6v.6h-.6zM368.3 299.7h.6v.6h-.6zM359.7 286.0h.6v.6h-.6zM372.2 306.5h.6v.6h-.6zM383.0 295.0h.6v.6h-.6zM382.9 292.0h.6v.6h-.6zM359.3 282.7h.6v.6h-.6zM374.9 301.6h.6v.6h-.6zM376.0 294.7h.6v.6h-.6zM367.7 303.0h.6v.6h-.6zM371.5 284.4h.6v.6h-.6zM386.8 290.2h.6v.6h-.6zM376.2 295.0h.6v.6h-.6zM383.4 296.8h.6v.6h-.6zM385.2 296.5h.6v.6h-.6zM367.0 291.3h.6v.6h-.6zM379.0 288.9h.6v.6h-.6zM382.0 293.2h.6v.6h-.6zM362.0 288.6h.6v.6h-.6zM370.4 308.0h.6v.6h-.6zM380.3 295.1h.6v.6h-.6zM369.0 295.0h.6v.6h-.6zM367.4 304.8h.6v.6h-.6zM373.9 291.6h.6v.6h-.6zM374.0 287.7h.6v.6h-.6zM360.6 293.8h.6v.6h-.6zM370.5 283.4h.6v.6h-.6zM373.9 296.6h.6v.6h-.6zM380.0 285.2h.6v.6h-.6zM365.5 290.2h.6v.6h-.6zM369.8 294.7h.6v.6h-.6zM366.5 300.9h.6v.6h-.6zM388.6 287.1h.6v.6h-.6zM383.4 295.2h.6v.6h-.6zM385.5 302.8h.6v.6h-.6zM379.1 282.7h.6v.6h-.6zM373.4 291.3h.6v.6h-.6zM376.8 295.3h.6v.6h-.6zM383.3 283.2h.6v.6h-.6zM364.0 294.4h.6v.6h-.6zM375.5 292.0h.6v.6h-.6zM371.7 295.4h.6v.6h-.6zM383.3 294.2h.6v.6h-.6zM374.6 281.6h.6v.6h-.6zM375.9 278.0h.6v.6h-.6zM376.4 294.3h.6v.6h-.6zM372.0 289.6h.6v.6h-.6zM367.5 301.1h.6v.6h-.6zM375.9 294.8h.6v.6h-.6zM366.7 296.6h.6v.6h-.6zM384.9 294.9h.6v.6h-.6zM368.0 286.3h.6v.6h-.6zM373.1 288.2h.6v.6h-.6zM356.5 301.4h.6v.6h-.6zM365.3 280.0h.6v.6h-.6zM364.2 308.6h.6v.6h-.6zM370.8 285.2h.6v.6h-.6zM360.1 300.3h.6v.6h-.6zM376.4 296.6h.6v.6h-.6zM369.9 298.6h.6v.6h-.6zM388.7 298.6h.6v.6h-.6zM370.2 284.7h.6v.6h-.6zM376.8 306.5h.6v.6h-.6zM379.0 285.7h.6v.6h-.6zM374.0 304.6h.6v.6h-.6zM365.1 298.6h.6v.6h-.6zM385.1 307.1h.6v.6h-.6zM354.8 282.1h.6v.6h-.6zM376.1 300.2h.6v.6h-.6zM368.2 294.8h.6v.6h-.6zM367.6 303.8h.6v.6h-.6zM358.1 290.0h.6v.6h-.6zM355.4 288.3h.6v.6h-.6zM371.7 295.2h.6v.6h-.6zM391.4 293.4h.6v.6h-.6zM375.7 297.6h.6v.6h-.6zM374.8 305.8h.6v.6h-.6zM373.5 296.1h.6v.6h-.6zM370.8 295.0h.6v.6h-.6zM371.4 302.3h.6v.6h-.6zM372.2 295.5h.6v.6h-.6zM371.5 300.6h.6v.6h-.6zM366.9 301.9h.6v.6h-.6zM365.8 300.1h.6v.6h-.6zM371.1 286.3h.6v.6h-.6zM380.0 295.1h.6v.6h-.6zM381.9 290.2h.6v.6h-.6zM377.6 308.3h.6v.6h-.6zM376.4 292.6h.6v.6h-.6zM357.9 294.9h.6v.6h-.6zM379.1 299.4h.6v.6h-.6zM359.9 287.4h.6v.6h-.6zM361.4 287.5h.6v.6h-.6zM369.0 297.0h.6v.6h-.6zM387.8 282.8h.6v.6h-.6zM388.7 300.9h.6v.6h-.6zM376.8 301.1h.6v.6h-.6zM380.7 282.1h.6v.6h-.6zM353.0 306.9h.6v.6h-.6zM371.1 304.8h.6v.6h-.6zM368.3 290.2h.6v.6h-.6zM368.3 297.3h.6v.6h-.6zM374.0 290.4h.6v.6h-.6zM377.8 299.6h.6v.6h-.6zM362.0 286.8h.6v.6h-.6zM350.7 292.7h.6v.6h-.6zM372.1 289.9h.6v.6h-.6zM365.5 294.0h.6v.6h-.6zM372.3 299.2h.6v.6h-.6zM381.0 298.2h.6v.6h-.6zM384.2 287.8h.6v.6h-.6zM378.6 297.8h.6v.6h-.6zM360.7 290.0h.6v.6h-.6zM376.8 295.6h.6v.6h-.6zM358.3 290.9h.6v.6h-.6zM388.6 301.2h.6v.6h-.6zM372.9 305.0h.6v.6h-.6zM362.1 293.7h.6v.6h-.6zM382.4 292.5h.6v.6h-.6zM359.9 299.3h.6v.6h-.6zM373.7 285.7h.6v.6h-.6zM368.8 284.5h.6v.6h-.6zM372.5 289.8h.6v.6h-.6zM361.2 291.6h.6v.6h-.6zM374.3 308.0h.6v.6h-.6zM375.1 306.6h.6v.6h-.6zM360.4 295.5h.6v.6h-.6zM367.2 283.4h.6v.6h-.6zM374.7 289.4h.6v.6h-.6zM365.7 287.3h.6v.6h-.6zM383.1 292.0h.6v.6h-.6zM370.4 296.3h.6v.6h-.6zM358.7 296.7h.6v.6h-.6zM370.1 298.3h.6v.6h-.6zM367.8 295.3h.6v.6h-.6zM377.6 302.2h.6v.6h-.6zM364.5 302.2h.6v.6h-.6zM361.3 293.6h.6v.6h-.6zM373.4 296.1h.6v.6h-.6zM370.0 301.8h.6v.6h-.6zM364.3 306.2h.6v.6h-.6zM352.4 295.6h.6v.6h-.6zM377.9 295.1h.6v.6h-.6zM374.9 301.9h.6v.6h-.6zM363.2 299.4h.6v.6h-.6zM383.6 293.3h.6v.6h-.6zM362.7 287.2h.6v.6h-.6zM376.7 289.0h.6v.6h-.6zM357.8 292.9h.6v.6h-.6zM388.6 300.0h.6v.6h-.6zM360.9 302.7h.6v.6h-.6zM366.0 299.4h.6v.6h-.6zM378.1 291.7h.6v.6h-.6zM370.3 303.6h.6v.6h-.6zM377.4 294.6h.6v.6h-.6zM376.8 308.0h.6v.6h-.6zM382.1 298.5h.6v.6h-.6zM375.6 283.4h.6v.6h-.6zM373.5 291.4h.6v.6h-.6zM380.0 290.5h.6v.6h-.6zM376.9 287.2h.6v.6h-.6zM381.7 289.6h.6v.6h-.6zM371.7 299.3h.6v.6h-.6zM368.5 295.1h.6v.6h-.6zM383.5 308.1h.6v.6h-.6zM352.4 288.3h.6v.6h-.6zM379.3 302.0h.6v.6h-.6zM366.8 295.7h.6v.6h-.6zM369.8 286.2h.6v.6h-.6zM355.1 285.5h.6v.6h-.6zM386.2 292.1h.6v.6h-.6zM376.2 299.8h.6v.6h-.6zM380.6 301.8h.6v.6h-.6zM361.4 290.9h.6v.6h-.6zM366.0 295.8h.6v.6h-.6zM369.3 285.9h.6v.6h-.6zM364.5 308.2h.6v.6h-.6zM376.1 294.7h.6v.6h-.6zM362.8 300.3h.6v.6h-.6zM371.2 307.4h.6v.6h-.6zM377.0 292.7h.6v.6h-.6zM381.2 289.7h.6v.6h-.6zM381.6 300.1h.6v.6h-.6zM352.8 293.5h.6v.6h-.6zM375.5 300.6h.6v.6h-.6zM373.7 294.9h.6v.6h-.6zM368.2 292.8h.6v.6h-.6zM372.0 287.1h.6v.6h-.6zM379.0 292.6h.6v.6h-.6zM377.7 291.2h.6v.6h-.6zM376.5 295.9h.6v.6h-.6zM381.7 298.4h.6v.6h-.6zM382.1 293.8h.6v.6h-.6zM371.4 293.1h.6v.6h-.6zM358.4 294.1h.6v.6h-.6zM383.8 300.7h.6v.6h-.6zM362.8 297.2h.6v.6h-.6zM380.2 284.9h.6v.6h-.6zM375.8 297.4h.6v.6h-.6zM380.1 296.9h.6v.6h-.6zM353.1 280.1h.6v.6h-.6zM385.8 304.4h.6v.6h-.6zM373.0 286.5h.6v.6h-.6zM386.9 294.7h.6v.6h-.6zM377.6 298.5h.6v.6h-.6zM382.4 302.5h.6v.6h-.6zM356.6 284.6h.6v.6h-.6zM373.5 295.1h.6v.6h-.6zM380.5 294.0h.6v.6h-.6zM386.9 303.6h.6v.6h-.6zM383.3 289.2h.6v.6h-.6zM371.1 294.5h.6v.6h-.6zM360.1 288.6h.6v.6h-.6zM373.7 286.0h.6v.6h-.6zM377.9 298.5h.6v.6h-.6zM369.4 292.5h.6v.6h-.6zM378.5 298.5h.6v.6h-.6zM376.0 286.0h.6v.6h-.6zM364.9 292.3h.6v.6h-.6zM352.2 289.1h.6v.6h-.6zM364.0 300.9h.6v.6h-.6zM367.5 291.4h.6v.6h-.6zM363.6 291.7h.6v.6h-.6zM354.9 297.0h.6v.6h-.6zM385.0 296.1h.6v.6h-.6zM366.2 304.3h.6v.6h-.6zM377.3 287.4h.6v.6h-.6zM365.8 290.5h.6v.6h-.6zM371.5 304.0h.6v.6h-.6zM364.3 293.9h.6v.6h-.6zM373.2 286.2h.6v.6h-.6zM366.8 299.5h.6v.6h-.6zM384.3 281.2h.6v.6h-.6zM379.7 292.9h.6v.6h-.6zM386.0 299.6h.6v.6h-.6zM367.7 288.9h.6v.6h-.6zM356.4 299.1h.6v.6h-.6zM377.6 301.0h.6v.6h-.6zM375.8 284.0h.6v.6h-.6zM367.6 293.2h.6v.6h-.6zM373.7 300.7h.6v.6h-.6zM387.4 297.1h.6v.6h-.6zM349.6 287.5h.6v.6h-.6zM359.0 296.8h.6v.6h-.6zM369.6 303.2h.6v.6h-.6zM383.7 291.6h.6v.6h-.6zM382.3 295.1h.6v.6h-.6zM377.0 304.9h.6v.6h-.6zM359.5 294.5h.6v.6h-.6zM388.7 289.4h.6v.6h-.6zM374.3 296.0h.6v.6h-.6zM367.5 285.4h.6v.6h-.6zM364.5 287.8h.6v.6h-.6zM383.8 296.8h.6v.6h-.6zM379.6 286.3h.6v.6h-.6zM377.5 296.1h.6v.6h-.6zM383.4 289.7h.6v.6h-.6zM380.8 305.1h.6v.6h-.6zM391.6 288.2h.6v.6h-.6zM359.8 284.2h.6v.6h-.6zM382.5 299.4h.6v.6h-.6zM375.7 288.6h.6v.6h-.6zM385.6 306.8h.6v.6h-.6zM371.6 294.1h.6v.6h-.6zM384.9 298.7h.6v.6h-.6zM386.6 292.0h.6v.6h-.6zM375.7 292.5h.6v.6h-.6zM365.8 292.8h.6v.6h-.6zM368.9 298.7h.6v.6h-.6zM368.7 295.5h.6v.6h-.6zM363.2 286.0h.6v.6h-.6zM387.5 287.8h.6v.6h-.6zM391.7 301.9h.6v.6h-.6zM367.5 295.2h.6v.6h-.6zM370.1 290.6h.6v.6h-.6zM385.6 294.1h.6v.6h-.6zM382.5 290.0h.6v.6h-.6zM364.5 304.8h.6v.6h-.6zM368.9 286.9h.6v.6h-.6zM370.2 302.7h.6v.6h-.6zM370.3 289.7h.6v.6h-.6zM378.9 302.2h.6v.6h-.6zM369.8 292.7h.6v.6h-.6zM370.0 307.8h.6v.6h-.6zM370.4 298.0h.6v.6h-.6zM349.9 296.3h.6v.6h-.6zM372.6 292.7h.6v.6h-.6zM367.6 285.0h.6v.6h-.6zM355.8 296.2h.6v.6h-.6zM365.1 294.3h.6v.6h-.6zM370.1 291.3h.6v.6h-.6zM364.1 308.6h.6v.6h-.6zM360.0 291.3h.6v.6h-.6zM368.8 286.5h.6v.6h-.6zM361.6 301.3h.6v.6h-.6zM382.1 296.0h.6v.6h-.6zM385.4 289.0h.6v.6h-.6zM383.8 307.4h.6v.6h-.6zM367.9 308.3h.6v.6h-.6zM363.3 286.7h.6v.6h-.6zM371.5 289.1h.6v.6h-.6zM378.9 286.9h.6v.6h-.6zM372.9 280.7h.6v.6h-.6zM371.7 302.7h.6v.6h-.6zM369.2 297.3h.6v.6h-.6zM383.9 287.0h.6v.6h-.6zM358.2 295.6h.6v.6h-.6zM375.0 293.0h.6v.6h-.6zM361.5 303.9h.6v.6h-.6zM359.4 293.1h.6v.6h-.6zM371.6 300.3h.6v.6h-.6zM367.2 289.0h.6v.6h-.6zM380.7 293.9h.6v.6h-.6zM366.9 294.7h.6v.6h-.6zM369.3 297.3h.6v.6h-.6zM372.8 287.9h.6v.6h-.6zM374.6 292.8h.6v.6h-.6zM387.1 291.7h.6v.6h-.6zM363.1 300.1h.6v.6h-.6zM361.5 289.2h.6v.6h-.6zM387.8 283.2h.6v.6h-.6zM371.3 295.9h.6v.6h-.6zM374.8 284.3h.6v.6h-.6zM369.6 292.6h.6v.6h-.6zM363.8 301.4h.6v.6h-.6zM379.1 294.2h.6v.6h-.6zM369.4 293.0h.6v.6h-.6zM355.3 290.4h.6v.6h-.6zM382.2 305.6h.6v.6h-.6zM369.1 285.8h.6v.6h-.6zM381.0 282.9h.6v.6h-.6zM360.7 286.9h.6v.6h-.6zM376.3 301.1h.6v.6h-.6zM362.1 308.2h.6v.6h-.6zM373.8 288.9h.6v.6h-.6zM375.8 294.9h.6v.6h-.6zM381.1 297.5h.6v.6h-.6zM365.1 300.8h.6v.6h-.6zM380.3 287.7h.6v.6h-.6zM363.9 289.1h.6v.6h-.6zM369.7 304.0h.6v.6h-.6zM366.0 295.6h.6v.6h-.6zM379.9 302.1h.6v.6h-.6zM375.5 287.4h.6v.6h-.6zM386.8 306.8h.6v.6h-.6zM387.3 298.0h.6v.6h-.6zM377.2 299.6h.6v.6h-.6zM355.7 301.0h.6v.6h-.6zM361.5 298.1h.6v.6h-.6zM361.1 300.2h.6v.6h-.6zM374.1 298.7h.6v.6h-.6zM362.2 292.9h.6v.6h-.6zM371.4 292.9h.6v.6h-.6zM367.3 288.6h.6v.6h-.6zM380.3 292.2h.6v.6h-.6zM363.2 297.7h.6v.6h-.6zM363.3 293.7h.6v.6h-.6zM366.5 288.2h.6v.6h-.6zM369.6 289.0h.6v.6h-.6zM358.5 297.6h.6v.6h-.6zM368.9 284.3h.6v.6h-.6zM367.8 296.4h.6v.6h-.6zM376.7 297.7h.6v.6h-.6zM374.8 299.4h.6v.6h-.6zM366.7 289.2h.6v.6h-.6zM378.7 292.0h.6v.6h-.6zM372.2 299.8h.6v.6h-.6zM382.3 303.9h.6v.6h-.6zM364.6 292.3h.6v.6h-.6zM378.1 284.5h.6v.6h-.6zM358.4 299.4h.6v.6h-.6zM365.4 288.3h.6v.6h-.6zM380.8 298.9h.6v.6h-.6zM382.0 292.6h.6v.6h-.6z" fill="#555" filter="url(#sb)"/>
<path d="M317.4 329.2h.6v.6h-.6zM326.6 323.5h.6v.6h-.6zM311.5 332.6h.6v.6h-.6zM313.5 328.5h.6v.6h-.6zM317.1 335.1h.6v.6h-.6zM318.9 324.6h.6v.6h-.6zM335.6 339.0h.6v.6h-.6zM334.3 330.7h.6v.6h-.6zM319.4 331.6h.6v.6h-.6zM327.3 331.2h.6v.6h-.6zM315.6 325.1h.6v.6h-.6zM314.0 331.1h.6v.6h-.6zM314.1 327.6h.6v.6h-.6zM309.8 319.7h.6v.6h-.6zM311.5 336.7h.6v.6h-.6zM309.7 339.9h.6v.6h-.6zM313.8 327.0h.6v.6h-.6zM322.4 339.0h.6v.6h-.6zM307.6 322.9h.6v.6h-.6zM317.1 335.8h.6v.6h-.6zM308.5 337.8h.6v.6h-.6zM314.2 339.6h.6v.6h-.6zM320.2 334.1h.6v.6h-.6zM320.0 325.1h.6v.6h-.6zM320.8 339.3h.6v.6h-.6zM325.0 334.1h.6v.6h-.6zM313.2 326.0h.6v.6h-.6zM316.2 330.7h.6v.6h-.6zM327.0 331.8h.6v.6h-.6zM312.8 333.3h.6v.6h-.6zM324.0 330.2h.6v.6h-.6zM314.3 323.9h.6v.6h-.6zM317.7 333.6h.6v.6h-.6zM319.7 328.8h.6v.6h-.6zM317.2 330.9h.6v.6h-.6zM321.4 334.9h.6v.6h-.6zM317.0 323.1h.6v.6h-.6zM327.4 337.8h.6v.6h-.6zM317.1 331.2h.6v.6h-.6zM325.9 335.2h.6v.6h-.6zM319.9 331.6h.6v.6h-.6zM324.9 329.6h.6v.6h-.6zM315.9 337.8h.6v.6h-.6zM323.2 339.9h.6v.6h-.6zM314.4 321.8h.6v.6h-.6zM323.8 334.1h.6v.6h-.6zM318.6 325.7h.6v.6h-.6zM331.0 332.5h.6v.6h-.6zM323.3 325.8h.6v.6h-.6zM334.5 339.8h.6v.6h-.6zM318.7 320.0h.6v.6h-.6zM323.7 328.3h.6v.6h-.6zM317.1 323.9h.6v.6h-.6zM319.7 331.9h.6v.6h-.6zM324.6 337.2h.6v.6h-.6zM316.7 335.0h.6v.6h-.6zM323.3 324.7h.6v.6h-.6zM308.5 330.7h.6v.6h-.6zM310.5 326.4h.6v.6h-.6zM311.0 329.0h.6v.6h-.6zM318.4 329.0h.6v.6h-.6zM320.2 317.9h.6v.6h-.6zM322.8 326.2h.6v.6h-.6zM315.1 332.6h.6v.6h-.6zM322.1 339.8h.6v.6h-.6zM331.7 331.4h.6v.6h-.6zM324.1 328.4h.6v.6h-.6zM322.2 331.2h.6v.6h-.6zM310.7 334.5h.6v.6h-.6zM320.7 326.0h.6v.6h-.6zM307.6 338.7h.6v.6h-.6zM310.8 331.8h.6v.6h-.6zM315.3 338.4h.6v.6h-.6zM319.5 326.4h.6v.6h-.6zM317.6 324.5h.6v.6h-.6zM312.0 336.8h.6v.6h-.6zM322.7 333.9h.6v.6h-.6zM321.0 336.0h.6v.6h-.6zM316.3 330.6h.6v.6h-.6zM313.0 337.2h.6v.6h-.6zM317.8 337.4h.6v.6h-.6zM325.6 332.8h.6v.6h-.6zM314.3 339.2h.6v.6h-.6zM321.0 339.8h.6v.6h-.6zM317.6 329.2h.6v.6h-.6zM313.8 327.2h.6v.6h-.6zM322.4 325.0h.6v.6h-.6zM327.6 333.2h.6v.6h-.6zM317.6 336.0h.6v.6h-.6zM320.7 321.1h.6v.6h-.6zM322.6 338.0h.6v.6h-.6zM312.9 336.5h.6v.6h-.6zM326.6 331.2h.6v.6h-.6zM323.4 323.3h.6v.6h-.6zM311.9 337.8h.6v.6h-.6zM310.3 332.6h.6v.6h-.6zM309.9 324.4h.6v.6h-.6zM318.4 337.6h.6v.6h-.6zM336.5 327.5h.6v.6h-.6zM317.6 333.6h.6v.6h-.6zM320.3 329.3h.6v.6h-.6zM318.4 331.4h.6v.6h-.6zM319.9 338.1h.6v.6h-.6zM322.1 339.0h.6v.6h-.6zM307.7 334.7h.6v.6h-.6zM321.8 330.9h.6v.6h-.6zM333.0 334.6h.6v.6h-.6zM312.7 324.8h.6v.6h-.6zM318.0 337.6h.6v.6h-.6zM316.6 335.7h.6v.6h-.6zM315.8 326.3h.6v.6h-.6zM323.3 326.2h.6v.6h-.6zM320.5 331.0h.6v.6h-.6zM325.5 330.1h.6v.6h-.6zM316.8 327.2h.6v.6h-.6zM319.2 325.8h.6v.6h-.6zM321.0 324.5h.6v.6h-.6zM319.1 337.5h.6v.6h-.6zM318.6 331.1h.6v.6h-.6zM315.9 323.8h.6v.6h-.6zM319.7 326.9h.6v.6h-.6zM310.5 328.0h.6v.6h-.6zM319.3 330.1h.6v.6h-.6zM313.4 328.5h.6v.6h-.6zM315.3 327.2h.6v.6h-.6zM316.9 336.3h.6v.6h-.6zM324.6 332.3h.6v.6h-.6zM329.1 331.5h.6v.6h-.6zM312.8 337.6h.6v.6h-.6zM317.2 328.8h.6v.6h-.6zM311.3 326.4h.6v.6h-.6zM318.0 326.7h.6v.6h-.6zM327.8 333.3h.6v.6h-.6zM323.9 331.9h.6v.6h-.6zM321.6 320.4h.6v.6h-.6zM320.6 331.9h.6v.6h-.6zM322.6 330.5h.6v.6h-.6zM325.9 326.9h.6v.6h-.6zM334.8 321.4h.6v.6h-.6zM326.9 335.7h.6v.6h-.6zM322.2 324.1h.6v.6h-.6zM309.8 331.4h.6v.6h-.6zM313.8 328.9h.6v.6h-.6zM327.7 329.4h.6v.6h-.6zM319.0 324.6h.6v.6h-.6zM312.0 323.1h.6v.6h-.6zM324.5 336.8h.6v.6h-.6zM322.6 334.2h.6v.6h-.6zM315.3 330.7h.6v.6h-.6zM328.2 325.0h.6v.6h-.6zM310.6 332.7h.6v.6h-.6zM326.7 335.2h.6v.6h-.6zM318.2 329.0h.6v.6h-.6zM322.8 335.4h.6v.6h-.6zM318.2 327.9h.6v.6h-.6zM319.6 326.9h.6v.6h-.6zM315.8 330.0h.6v.6h-.6zM328.6 328.1h.6v.6h-.6zM312.2 322.6h.6v.6h-.6zM314.8 333.0h.6v.6h-.6zM308.4 336.1h.6v.6h-.6zM315.6 328.9h.6v.6h-.6zM314.6 337.9h.6v.6h-.6zM319.8 333.4h.6v.6h-.6zM314.3 330.7h.6v.6h-.6zM321.6 332.0h.6v.6h-.6zM324.0 323.2h.6v.6h-.6zM311.0 335.6h.6v.6h-.6zM326.8 337.5h.6v.6h-.6zM312.3 335.2h.6v.6h-.6zM309.9 336.1h.6v.6h-.6zM328.5 331.7h.6v.6h-.6zM320.7 325.3h.6v.6h-.6zM321.0 331.3h.6v.6h-.6zM312.6 320.9h.6v.6h-.6zM324.5 325.8h.6v.6h-.6zM323.0 338.6h.6v.6h-.6zM312.4 338.0h.6v.6h-.6zM310.3 331.6h.6v.6h-.6zM311.1 325.0h.6v.6h-.6zM323.6 332.1h.6v.6h-.6zM315.2 334.7h.6v.6h-.6zM321.7 332.7h.6v.6h-.6zM336.3 329.4h.6v.6h-.6zM323.4 335.4h.6v.6h-.6zM321.2 336.5h.6v.6h-.6zM316.9 331.2h.6v.6h-.6zM314.0 337.5h.6v.6h-.6zM318.3 328.4h.6v.6h-.6zM319.8 337.8h.6v.6h-.6zM319.7 335.2h.6v.6h-.6zM320.0 331.9h.6v.6h-.6zM328.1 325.7h.6v.6h-.6zM317.3 326.5h.6v.6h-.6zM320.4 330.9h.6v.6h-.6zM319.1 330.5h.6v.6h-.6zM318.1 327.4h.6v.6h-.6zM313.4 329.6h.6v.6h-.6zM327.5 331.1h.6v.6h-.6zM319.3 323.4h.6v.6h-.6zM323.4 327.1h.6v.6h-.6zM314.1 324.7h.6v.6h-.6zM322.4 326.1h.6v.6h-.6zM312.7 337.0h.6v.6h-.6zM317.8 332.6h.6v.6h-.6zM319.5 328.1h.6v.6h-.6zM310.1 326.1h.6v.6h-.6zM313.8 325.2h.6v.6h-.6zM308.9 325.1h.6v.6h-.6zM326.2 331.7h.6v.6h-.6zM325.0 326.1h.6v.6h-.6zM319.7 337.0h.6v.6h-.6zM312.8 334.7h.6v.6h-.6zM312.7 328.7h.6v.6h-.6zM328.1 338.8h.6v.6h-.6zM307.6 333.0h.6v.6h-.6zM322.2 332.9h.6v.6h-.6zM313.4 315.6h.6v.6h-.6zM322.6 329.1h.6v.6h-.6zM311.5 330.9h.6v.6h-.6zM307.0 327.1h.6v.6h-.6zM333.5 332.6h.6v.6h-.6zM320.5 329.2h.6v.6h-.6zM317.2 332.1h.6v.6h-.6zM316.8 337.5h.6v.6h-.6zM317.6 339.2h.6v.6h-.6zM312.7 331.3h.6v.6h-.6zM318.6 326.5h.6v.6h-.6zM325.3 322.1h.6v.6h-.6zM314.1 334.8h.6v.6h-.6zM318.6 328.6h.6v.6h-.6zM327.8 336.5h.6v.6h-.6zM316.4 330.2h.6v.6h-.6zM313.2 336.2h.6v.6h-.6zM321.7 334.0h.6v.6h-.6zM316.7 329.5h.6v.6h-.6zM329.1 337.4h.6v.6h-.6zM327.1 327.1h.6v.6h-.6zM317.7 336.7h.6v.6h-.6zM324.6 338.7h.6v.6h-.6zM320.4 335.9h.6v.6h-.6zM321.9 328.9h.6v.6h-.6zM322.0 333.9h.6v.6h-.6zM319.3 338.4h.6v.6h-.6zM320.4 330.5h.6v.6h-.6zM324.0 327.3h.6v.6h-.6zM322.6 328.9h.6v.6h-.6zM320.3 334.5h.6v.6h-.6zM320.7 325.3h.6v.6h-.6zM320.6 329.0h.6v.6h-.6zM314.9 334.8h.6v.6h-.6zM328.0 329.7h.6v.6h-.6zM323.8 337.9h.6v.6h-.6zM321.2 323.4h.6v.6h-.6zM317.6 333.8h.6v.6h-.6zM315.9 322.0h.6v.6h-.6zM324.6 332.4h.6v.6h-.6zM309.7 325.0h.6v.6h-.6zM328.2 334.3h.6v.6h-.6zM308.0 324.0h.6v.6h-.6zM316.3 331.0h.6v.6h-.6zM312.9 326.3h.6v.6h-.6zM311.9 334.1h.6v.6h-.6zM316.1 336.9h.6v.6h-.6zM324.8 321.5h.6v.6h-.6zM320.4 339.8h.6v.6h-.6zM323.5 323.1h.6v.6h-.6zM313.8 332.0h.6v.6h-.6zM327.4 336.0h.6v.6h-.6zM317.3 326.0h.6v.6h-.6zM317.5 321.2h.6v.6h-.6zM311.0 322.1h.6v.6h-.6zM312.9 323.8h.6v.6h-.6zM317.6 334.7h.6v.6h-.6zM320.5 322.5h.6v.6h-.6zM317.9 327.1h.6v.6h-.6zM315.1 317.7h.6v.6h-.6zM326.2 338.5h.6v.6h-.6zM315.9 330.0h.6v.6h-.6zM307.5 330.1h.6v.6h-.6zM320.7 331.7h.6v.6h-.6zM307.4 323.9h.6v.6h-.6zM324.4 333.9h.6v.6h-.6zM317.1 335.3h.6v.6h-.6zM315.8 337.9h.6v.6h-.6zM321.8 318.1h.6v.6h-.6zM307.7 329.7h.6v.6h-.6zM324.4 336.4h.6v.6h-.6zM321.0 334.6h.6v.6h-.6zM320.7 330.5h.6v.6h-.6zM311.7 336.2h.6v.6h-.6zM316.6 330.8h.6v.6h-.6zM314.9 331.7h.6v.6h-.6zM311.6 328.6h.6v.6h-.6zM319.9 333.3h.6v.6h-.6zM317.8 334.5h.6v.6h-.6zM320.1 330.0h.6v.6h-.6zM313.1 327.0h.6v.6h-.6zM328.4 337.5h.6v.6h-.6zM315.8 327.1h.6v.6h-.6zM309.4 329.6h.6v.6h-.6zM309.2 332.5h.6v.6h-.6zM321.6 338.5h.6v.6h-.6zM324.5 335.8h.6v.6h-.6zM307.9 324.6h.6v.6h-.6zM327.0 327.2h.6v.6h-.6zM307.2 332.4h.6v.6h-.6zM321.8 335.1h.6v.6h-.6zM317.8 337.9h.6v.6h-.6zM318.6 330.9h.6v.6h-.6zM321.0 331.8h.6v.6h-.6zM334.9 338.1h.6v.6h-.6zM313.4 319.6h.6v.6h-.6zM325.6 334.3h.6v.6h-.6zM319.7 331.7h.6v.6h-.6zM324.5 326.2h.6v.6h-.6zM320.5 329.6h.6v.6h-.6zM322.5 339.5h.6v.6h-.6zM313.8 322.3h.6v.6h-.6zM323.1 334.4h.6v.6h-.6zM332.5 325.2h.6v.6h-.6zM318.1 325.2h.6v.6h-.6zM310.1 330.6h.6v.6h-.6zM318.8 334.6h.6v.6h-.6zM315.2 334.5h.6v.6h-.6zM324.6 332.5h.6v.6h-.6zM326.7 331.4h.6v.6h-.6zM332.9 332.9h.6v.6h-.6zM320.0 325.6h.6v.6h-.6zM314.0 338.6h.6v.6h-.6zM307.7 337.6h.6v.6h-.6zM325.2 339.7h.6v.6h-.6zM311.6 334.0h.6v.6h-.6zM323.9 335.8h.6v.6h-.6zM335.1 338.9h.6v.6h-.6zM310.8 325.6h.6v.6h-.6zM307.0 325.6h.6v.6h-.6zM327.9 334.0h.6v.6h-.6zM319.4 324.3h.6v.6h-.6zM319.9 339.2h.6v.6h-.6zM320.8 335.7h.6v.6h-.6zM324.4 335.5h.6v.6h-.6zM319.7 339.0h.6v.6h-.6zM324.2 339.9h.6v.6h-.6zM316.2 335.8h.6v.6h-.6zM314.7 317.2h.6v.6h-.6zM327.3 339.4h.6v.6h-.6zM313.7 324.9h.6v.6h-.6zM316.9 331.8h.6v.6h-.6zM310.2 333.8h.6v.6h-.6zM327.7 326.6h.6v.6h-.6zM310.5 327.3h.6v.6h-.6zM321.1 331.1h.6v.6h-.6zM317.6 332.9h.6v.6h-.6zM311.0 327.6h.6v.6h-.6zM333.9 338.3h.6v.6h-.6zM309.8 331.1h.6v.6h-.6zM314.5 329.1h.6v.6h-.6zM320.0 331.9h.6v.6h-.6zM316.9 339.0h.6v.6h-.6zM321.4 334.3h.6v.6h-.6zM310.9 339.9h.6v.6h-.6zM322.2 335.5h.6v.6h-.6zM307.5 337.9h.6v.6h-.6zM336.7 331.9h.6v.6h-.6zM319.7 331.0h.6v.6h-.6zM313.4 329.4h.6v.6h-.6zM319.6 336.8h.6v.6h-.6zM321.7 325.0h.6v.6h-.6zM319.4 337.3h.6v.6h-.6zM322.0 326.5h.6v.6h-.6zM316.8 336.5h.6v.6h-.6zM314.1 324.4h.6v.6h-.6zM323.3 326.8h.6v.6h-.6zM309.7 336.3h.6v.6h-.6zM320.2 332.8h.6v.6h-.6zM314.5 329.9h.6v.6h-.6zM321.5 326.7h.6v.6h-.6zM327.2 329.1h.6v.6h-.6zM327.0 335.7h.6v.6h-.6zM309.4 315.0h.6v.6h-.6zM322.7 329.0h.6v.6h-.6zM328.4 334.7h.6v.6h-.6zM327.5 335.4h.6v.6h-.6zM322.3 325.2h.6v.6h-.6zM317.1 334.3h.6v.6h-.6zM321.4 326.4h.6v.6h-.6zM314.9 335.5h.6v.6h-.6zM327.4 331.4h.6v.6h-.6zM324.1 322.8h.6v.6h-.6zM310.3 329.8h.6v.6h-.6zM311.4 330.3h.6v.6h-.6zM327.2 323.5h.6v.6h-.6zM310.0 337.5h.6v.6h-.6zM317.8 332.7h.6v.6h-.6zM319.1 321.2h.6v.6h-.6zM319.9 327.0h.6v.6h-.6zM325.3 323.0h.6v.6h-.6zM312.4 330.5h.6v.6h-.6zM309.7 332.5h.6v.6h-.6zM313.4 327.8h.6v.6h-.6zM321.2 323.2h.6v.6h-.6zM321.0 334.5h.6v.6h-.6zM325.3 338.1h.6v.6h-.6zM314.0 328.5h.6v.6h-.6zM317.5 331.6h.6v.6h-.6zM320.6 332.0h.6v.6h-.6zM317.2 324.3h.6v.6h-.6zM308.0 321.9h.6v.6h-.6zM315.0 316.5h.6v.6h-.6zM319.1 318.1h.6v.6h-.6zM330.7 322.4h.6v.6h-.6zM321.6 327.2h.6v.6h-.6zM308.2 323.4h.6v.6h-.6zM323.7 339.1h.6v.6h-.6zM311.3 322.6h.6v.6h-.6zM309.5 334.5h.6v.6h-.6zM320.8 326.8h.6v.6h-.6zM319.1 318.5h.6v.6h-.6zM309.8 332.9h.6v.6h-.6zM314.6 335.6h.6v.6h-.6zM307.9 331.7h.6v.6h-.6zM308.1 325.0h.6v.6h-.6zM316.3 331.8h.6v.6h-.6zM309.0 332.1h.6v.6h-.6zM314.1 325.1h.6v.6h-.6zM322.1 335.8h.6v.6h-.6zM309.1 334.9h.6v.6h-.6zM317.8 339.3h.6v.6h-.6zM312.6 337.6h.6v.6h-.6zM319.0 324.5h.6v.6h-.6zM322.7 325.1h.6v.6h-.6zM307.0 325.7h.6v.6h-.6zM324.5 333.9h.6v.6h-.6zM322.6 330.9h.6v.6h-.6zM317.9 331.3h.6v.6h-.6zM324.3 329.3h.6v.6h-.6zM309.9 328.9h.6v.6h-.6zM313.1 332.4h.6v.6h-.6zM319.4 323.4h.6v.6h-.6zM321.7 336.5h.6v.6h-.6zM323.7 333.5h.6v.6h-.6zM311.5 336.8h.6v.6h-.6zM321.4 333.9h.6v.6h-.6zM316.5 335.4h.6v.6h-.6zM312.3 330.1h.6v.6h-.6zM318.4 318.8h.6v.6h-.6zM318.9 333.4h.6v.6h-.6zM320.2 337.5h.6v.6h-.6zM319.7 338.9h.6v.6h-.6zM307.3 333.6h.6v.6h-.6zM307.9 330.1h.6v.6h-.6zM332.3 331.7h.6v.6h-.6zM318.8 335.9h.6v.6h-.6zM328.8 332.9h.6v.6h-.6zM319.4 330.3h.6v.6h-.6zM317.5 330.6h.6v.6h-.6zM323.1 322.6h.6v.6h-.6zM317.6 332.2h.6v.6h-.6zM327.7 312.8h.6v.6h-.6zM315.9 325.8h.6v.6h-.6zM307.2 336.3h.6v.6h-.6zM324.4 335.0h.6v.6h-.6zM310.4 330.2h.6v.6h-.6zM309.2 336.8h.6v.6h-.6zM325.3 336.1h.6v.6h-.6zM324.5 330.7h.6v.6h-.6zM329.2 337.5h.6v.6h-.6zM320.8 320.9h.6v.6h-.6zM335.5 335.2h.6v.6h-.6zM312.7 326.9h.6v.6h-.6zM325.4 337.4h.6v.6h-.6zM317.8 332.0h.6v.6h-.6zM323.4 335.4h.6v.6h-.6zM319.3 332.3h.6v.6h-.6zM318.2 322.5h.6v.6h-.6zM315.2 330.3h.6v.6h-.6zM328.1 328.2h.6v.6h-.6zM309.5 327.5h.6v.6h-.6zM324.1 328.2h.6v.6h-.6zM310.4 328.1h.6v.6h-.6zM322.6 323.4h.6v.6h-.6zM307.5 335.7h.6v.6h-.6zM307.9 332.7h.6v.6h-.6zM330.1 335.7h.6v.6h-.6zM311.6 332.2h.6v.6h-.6zM308.4 329.5h.6v.6h-.6zM324.7 338.5h.6v.6h-.6zM320.6 332.6h.6v.6h-.6zM327.0 332.2h.6v.6h-.6zM328.0 338.7h.6v.6h-.6zM321.5 322.5h.6v.6h-.6zM314.5 331.3h.6v.6h-.6zM331.2 329.3h.6v.6h-.6zM319.6 328.1h.6v.6h-.6zM310.5 326.9h.6v.6h-.6zM310.3 333.1h.6v.6h-.6zM312.8 314.2h.6v.6h-.6zM322.4 332.5h.6v.6h-.6zM322.1 327.7h.6v.6h-.6zM314.0 323.9h.6v.6h-.6zM320.5 327.6h.6v.6h-.6zM318.3 325.9h.6v.6h-.6zM323.3 327.3h.6v.6h-.6zM317.6 332.4h.6v.6h-.6zM326.5 332.4h.6v.6h-.6zM316.0 319.7h.6v.6h-.6zM324.8 332.1h.6v.6h-.6zM324.4 335.8h.6v.6h-.6zM322.6 321.6h.6v.6h-.6zM311.1 333.0h.6v.6h-.6zM311.9 332.8h.6v.6h-.6zM324.2 327.2h.6v.6h-.6zM317.0 326.5h.6v.6h-.6zM326.0 322.8h.6v.6h-.6zM309.9 332.3h.6v.6h-.6zM316.4 336.3h.6v.6h-.6zM327.2 329.9h.6v.6h-.6zM308.1 328.6h.6v.6h-.6zM317.9 332.5h.6v.6h-.6zM309.5 333.6h.6v.6h-.6zM317.2 339.8h.6v.6h-.6zM313.4 333.9h.6v.6h-.6zM320.8 327.1h.6v.6h-.6zM323.1 323.4h.6v.6h-.6zM316.3 332.1h.6v.6h-.6zM325.9 329.7h.6v.6h-.6zM312.2 322.7h.6v.6h-.6zM307.4 319.9h.6v.6h-.6zM315.6 325.4h.6v.6h-.6zM332.9 333.7h.6v.6h-.6zM317.6 331.1h.6v.6h-.6zM315.9 325.3h.6v.6h-.6zM310.4 320.7h.6v.6h-.6zM313.9 334.3h.6v.6h-.6zM320.5 334.5h.6v.6h-.6zM313.0 337.5h.6v.6h-.6zM322.3 333.3h.6v.6h-.6zM313.4 335.6h.6v.6h-.6zM316.8 325.9h.6v.6h-.6zM318.0 328.4h.6v.6h-.6zM324.6 339.1h.6v.6h-.6zM319.2 329.0h.6v.6h-.6zM318.5 328.4h.6v.6h-.6zM315.6 331.7h.6v.6h-.6zM321.3 337.8h.6v.6h-.6zM332.9 331.1h.6v.6h-.6zM323.0 325.1h.6v.6h-.6zM313.7 324.6h.6v.6h-.6zM317.3 324.4h.6v.6h-.6zM312.7 335.4h.6v.6h-.6zM319.0 315.8h.6v.6h-.6zM311.3 333.8h.6v.6h-.6zM313.2 331.6h.6v.6h-.6zM317.1 339.1h.6v.6h-.6zM311.9 337.2h.6v.6h-.6zM320.1 329.9h.6v.6h-.6zM313.8 329.6h.6v.6h-.6zM316.4 322.2h.6v.6h-.6zM316.4 336.1h.6v.6h-.6zM313.3 334.9h.6v.6h-.6zM332.1 332.4h.6v.6h-.6zM322.9 328.3h.6v.6h-.6zM313.4 330.1h.6v.6h-.6zM321.4 338.3h.6v.6h-.6zM312.0 335.9h.6v.6h-.6zM307.5 323.6h.6v.6h-.6zM321.7 322.7h.6v.6h-.6zM315.1 335.5h.6v.6h-.6zM317.0 330.0h.6v.6h-.6zM329.2 335.2h.6v.6h-.6zM312.0 328.2h.6v.6h-.6zM322.9 339.7h.6v.6h-.6zM320.1 329.9h.6v.6h-.6zM323.9 331.5h.6v.6h-.6zM311.0 325.0h.6v.6h-.6zM320.8 321.0h.6v.6h-.6zM313.9 337.8h.6v.6h-.6zM311.3 324.8h.6v.6h-.6zM313.9 330.6h.6v.6h-.6zM326.2 330.3h.6v.6h-.6zM322.9 323.5h.6v.6h-.6zM313.4 317.6h.6v.6h-.6zM322.2 337.1h.6v.6h-.6zM317.5 333.4h.6v.6h-.6zM318.9 336.0h.6v.6h-.6zM312.3 326.1h.6v.6h-.6zM316.9 331.5h.6v.6h-.6zM313.8 328.1h.6v.6h-.6zM319.1 334.1h.6v.6h-.6zM318.9 338.6h.6v.6h-.6zM318.2 339.1h.6v.6h-.6zM324.0 331.6h.6v.6h-.6zM322.2 326.5h.6v.6h-.6zM321.9 332.1h.6v.6h-.6zM322.8 319.7h.6v.6h-.6zM331.6 332.8h.6v.6h-.6zM309.6 329.6h.6v.6h-.6zM324.2 330.5h.6v.6h-.6zM317.1 333.2h.6v.6h-.6zM317.2 335.3h.6v.6h-.6zM324.1 333.5h.6v.6h-.6zM319.0 325.4h.6v.6h-.6zM320.7 338.1h.6v.6h-.6zM316.7 333.4h.6v.6h-.6zM320.8 332.2h.6v.6h-.6zM324.4 326.9h.6v.6h-.6zM309.2 339.5h.6v.6h-.6zM307.0 318.3h.6v.6h-.6zM324.8 333.7h.6v.6h-.6zM319.5 322.1h.6v.6h-.6zM317.9 330.6h.6v.6h-.6zM319.3 321.5h.6v.6h-.6zM317.5 334.7h.6v.6h-.6zM323.3 339.4h.6v.6h-.6zM320.9 326.3h.6v.6h-.6zM317.4 338.6h.6v.6h-.6zM312.6 319.3h.6v.6h-.6zM324.2 332.2h.6v.6h-.6zM326.3 339.3h.6v.6h-.6zM319.1 323.1h.6v.6h-.6zM327.6 326.0h.6v.6h-.6zM314.4 319.9h.6v.6h-.6zM317.9 329.1h.6v.6h-.6zM312.9 336.7h.6v.6h-.6zM321.0 324.7h.6v.6h-.6zM332.4 336.9h.6v.6h-.6zM322.2 325.8h.6v.6h-.6zM321.6 335.8h.6v.6h-.6zM317.6 328.8h.6v.6h-.6zM316.9 326.0h.6v.6h-.6zM328.3 328.9h.6v.6h-.6zM309.4 329.1h.6v.6h-.6zM316.9 329.4h.6v.6h-.6zM320.1 332.2h.6v.6h-.6zM318.4 328.3h.6v.6h-.6zM343.1 335.1h.6v.6h-.6zM316.3 313.6h.6v.6h-.6zM323.9 328.2h.6v.6h-.6zM331.7 326.1h.6v.6h-.6zM318.5 329.5h.6v.6h-.6zM307.5 333.0h.6v.6h-.6zM314.0 332.5h.6v.6h-.6zM314.2 330.5h.6v.6h-.6zM315.0 330.5h.6v.6h-.6zM319.7 328.2h.6v.6h-.6zM321.3 332.9h.6v.6h-.6zM315.5 322.6h.6v.6h-.6zM311.3 324.3h.6v.6h-.6zM317.3 339.1h.6v.6h-.6zM326.4 329.1h.6v.6h-.6zM315.2 336.6h.6v.6h-.6zM320.3 331.9h.6v.6h-.6zM310.1 327.8h.6v.6h-.6zM317.5 331.9h.6v.6h-.6zM312.3 329.8h.6v.6h-.6zM315.7 331.2h.6v.6h-.6zM320.5 328.9h.6v.6h-.6zM315.7 333.1h.6v.6h-.6zM311.2 335.3h.6v.6h-.6zM322.1 326.2h.6v.6h-.6zM340.6 326.3h.6v.6h-.6zM316.7 330.2h.6v.6h-.6zM319.6 333.9h.6v.6h-.6zM324.4 336.2h.6v.6h-.6zM311.7 324.4h.6v.6h-.6zM320.0 337.9h.6v.6h-.6zM307.1 333.2h.6v.6h-.6zM325.0 325.8h.6v.6h-.6zM317.5 339.0h.6v.6h-.6zM322.4 332.7h.6v.6h-.6zM309.2 334.2h.6v.6h-.6zM319.4 332.9h.6v.6h-.6zM319.0 325.2h.6v.6h-.6zM307.5 322.3h.6v.6h-.6zM308.6 336.7h.6v.6h-.6zM320.0 326.0h.6v.6h-.6zM319.7 324.3h.6v.6h-.6zM325.9 319.6h.6v.6h-.6zM313.1 339.8h.6v.6h-.6zM322.2 329.5h.6v.6h-.6zM324.1 332.6h.6v.6h-.6zM327.1 335.6h.6v.6h-.6zM331.9 338.9h.6v.6h-.6zM322.4 328.1h.6v.6h-.6zM308.9 328.3h.6v.6h-.6zM323.5 328.7h.6v.6h-.6zM322.9 332.3h.6v.6h-.6zM314.8 329.3h.6v.6h-.6zM318.0 337.3h.6v.6h-.6zM324.4 339.1h.6v.6h-.6zM315.8 325.5h.6v.6h-.6zM324.4 327.6h.6v.6h-.6zM318.2 329.4h.6v.6h-.6zM316.8 332.5h.6v.6h-.6zM307.8 332.6h.6v.6h-.6zM330.7 330.8h.6v.6h-.6zM335.6 339.9h.6v.6h-.6zM321.1 328.3h.6v.6h-.6zM310.8 334.9h.6v.6h-.6zM320.9 331.2h.6v.6h-.6zM328.3 332.2h.6v.6h-.6zM314.6 325.6h.6v.6h-.6zM311.0 332.2h.6v.6h-.6zM320.1 325.8h.6v.6h-.6zM321.9 320.2h.6v.6h-.6zM318.7 333.2h.6v.6h-.6zM322.6 333.4h.6v.6h-.6zM323.6 329.1h.6v.6h-.6zM317.6 332.9h.6v.6h-.6zM308.5 329.7h.6v.6h-.6zM318.7 332.9h.6v.6h-.6zM308.2 339.9h.6v.6h-.6zM320.6 328.2h.6v.6h-.6zM310.7 331.3h.6v.6h-.6zM319.4 327.2h.6v.6h-.6zM310.3 333.6h.6v.6h-.6zM315.0 337.6h.6v.6h-.6zM321.9 326.1h.6v.6h-.6zM322.3 337.3h.6v.6h-.6zM315.0 327.7h.6v.6h-.6zM309.2 332.0h.6v.6h-.6zM313.8 332.6h.6v.6h-.6zM320.5 331.8h.6v.6h-.6zM321.1 332.3h.6v.6h-.6zM312.1 324.9h.6v.6h-.6zM308.1 330.7h.6v.6h-.6zM324.0 331.9h.6v.6h-.6zM321.0 335.8h.6v.6h-.6zM327.2 331.5h.6v.6h-.6zM321.5 327.2h.6v.6h-.6zM309.1 335.9h.6v.6h-.6zM308.6 318.9h.6v.6h-.6zM318.4 337.9h.6v.6h-.6zM320.0 318.6h.6v.6h-.6zM308.9 335.6h.6v.6h-.6zM314.7 334.2h.6v.6h-.6zM311.4 339.1h.6v.6h-.6zM322.1 319.2h.6v.6h-.6zM315.4 331.6h.6v.6h-.6zM322.1 329.6h.6v.6h-.6zM320.4 325.4h.6v.6h-.6zM316.3 331.4h.6v.6h-.6zM324.6 328.1h.6v.6h-.6zM318.5 332.3h.6v.6h-.6zM309.3 331.3h.6v.6h-.6zM313.9 336.3h.6v.6h-.6zM312.4 329.5h.6v.6h-.6zM317.2 329.3h.6v.6h-.6zM321.2 333.6h.6v.6h-.6zM316.1 336.5h.6v.6h-.6zM310.3 333.1h.6v.6h-.6zM321.2 332.3h.6v.6h-.6zM312.4 323.6h.6v.6h-.6zM314.6 336.4h.6v.6h-.6zM323.0 327.2h.6v.6h-.6zM321.9 337.6h.6v.6h-.6zM324.0 329.0h.6v.6h-.6zM308.1 331.8h.6v.6h-.6zM325.4 339.7h.6v.6h-.6zM318.3 329.0h.6v.6h-.6zM313.3 337.7h.6v.6h-.6zM310.0 334.1h.6v.6h-.6zM311.6 331.9h.6v.6h-.6zM328.8 334.3h.6v.6h-.6zM323.6 335.8h.6v.6h-.6zM311.6 329.0h.6v.6h-.6zM324.4 331.2h.6v.6h-.6zM318.3 328.1h.6v.6h-.6zM314.0 327.7h.6v.6h-.6zM324.7 333.0h.6v.6h-.6zM326.9 335.4h.6v.6h-.6zM310.2 334.4h.6v.6h-.6zM328.8 334.7h.6v.6h-.6zM325.5 328.7h.6v.6h-.6zM316.8 328.4h.6v.6h-.6zM326.6 328.8h.6v.6h-.6zM317.2 326.5h.6v.6h-.6zM322.8 326.4h.6v.6h-.6zM324.4 325.5h.6v.6h-.6zM327.5 329.0h.6v.6h-.6zM328.5 333.1h.6v.6h-.6zM309.7 329.7h.6v.6h-.6zM326.0 329.0h.6v.6h-.6zM323.7 336.9h.6v.6h-.6zM313.3 338.8h.6v.6h-.6zM309.2 333.8h.6v.6h-.6zM325.2 332.4h.6v.6h-.6zM318.4 333.0h.6v.6h-.6zM324.8 329.6h.6v.6h-.6zM316.3 331.5h.6v.6h-.6zM318.1 332.2h.6v.6h-.6zM320.2 332.1h.6v.6h-.6zM311.5 335.0h.6v.6h-.6zM315.1 327.7h.6v.6h-.6zM316.5 322.7h.6v.6h-.6zM320.9 333.7h.6v.6h-.6zM315.7 333.7h.6v.6h-.6zM314.7 334.6h.6v.6h-.6zM310.8 339.0h.6v.6h-.6zM327.9 326.8h.6v.6h-.6zM325.4 338.6h.6v.6h-.6zM327.1 329.9h.6v.6h-.6zM315.0 325.3h.6v.6h-.6zM325.1 328.8h.6v.6h-.6zM310.5 333.7h.6v.6h-.6zM313.7 329.9h.6v.6h-.6zM318.2 319.9h.6v.6h-.6zM317.9 331.1h.6v.6h-.6zM320.0 339.7h.6v.6h-.6zM318.7 324.3h.6v.6h-.6zM316.9 332.4h.6v.6h-.6zM318.9 328.4h.6v.6h-.6zM314.4 324.3h.6v.6h-.6zM319.1 329.3h.6v.6h-.6zM329.1 337.6h.6v.6h-.6zM322.3 331.6h.6v.6h-.6zM320.1 326.5h.6v.6h-.6zM320.0 322.7h.6v.6h-.6zM310.1 329.7h.6v.6h-.6zM319.1 328.7h.6v.6h-.6zM324.3 332.3h.6v.6h-.6zM321.9 332.0h.6v.6h-.6zM314.7 337.6h.6v.6h-.6zM322.4 324.0h.6v.6h-.6zM318.5 334.0h.6v.6h-.6zM316.5 329.5h.6v.6h-.6zM320.5 324.8h.6v.6h-.6zM331.0 335.4h.6v.6h-.6zM316.8 319.9h.6v.6h-.6zM313.0 328.3h.6v.6h-.6zM317.7 322.9h.6v.6h-.6zM311.5 326.9h.6v.6h-.6zM324.9 333.3h.6v.6h-.6zM326.1 322.1h.6v.6h-.6zM324.9 336.0h.6v.6h-.6zM318.8 339.5h.6v.6h-.6zM311.7 328.1h.6v.6h-.6zM321.6 329.1h.6v.6h-.6zM322.6 334.2h.6v.6h-.6zM309.3 339.4h.6v.6h-.6zM313.6 336.4h.6v.6h-.6zM312.9 329.6h.6v.6h-.6zM331.8 325.9h.6v.6h-.6zM322.2 332.9h.6v.6h-.6zM324.0 337.4h.6v.6h-.6zM321.8 325.5h.6v.6h-.6zM318.4 327.1h.6v.6h-.6zM315.4 331.8h.6v.6h-.6zM314.4 333.8h.6v.6h-.6zM317.5 328.9h.6v.6h-.6zM312.9 330.7h.6v.6h-.6zM323.7 328.9h.6v.6h-.6zM312.5 335.8h.6v.6h-.6zM323.6 335.1h.6v.6h-.6zM310.5 324.3h.6v.6h-.6zM309.5 335.0h.6v.6h-.6zM310.6 322.8h.6v.6h-.6zM311.7 322.7h.6v.6h-.6zM314.1 331.9h.6v.6h-.6zM312.1 332.9h.6v.6h-.6zM328.0 340.0h.6v.6h-.6zM311.6 326.3h.6v.6h-.6zM318.6 329.8h.6v.6h-.6zM324.7 330.8h.6v.6h-.6zM311.3 333.9h.6v.6h-.6zM322.6 327.1h.6v.6h-.6zM324.7 314.6h.6v.6h-.6zM322.0 326.0h.6v.6h-.6zM321.6 326.0h.6v.6h-.6zM314.1 325.6h.6v.6h-.6zM338.7 337.7h.6v.6h-.6zM312.6 324.4h.6v.6h-.6zM323.2 333.3h.6v.6h-.6zM321.3 328.8h.6v.6h-.6zM319.5 327.3h.6v.6h-.6zM312.5 321.1h.6v.6h-.6zM313.8 328.3h.6v.6h-.6zM311.2 336.0h.6v.6h-.6zM319.9 328.8h.6v.6h-.6zM321.0 336.3h.6v.6h-.6zM316.4 325.4h.6v.6h-.6zM324.2 324.6h.6v.6h-.6zM309.1 333.1h.6v.6h-.6zM317.3 327.2h.6v.6h-.6zM317.9 328.5h.6v.6h-.6zM326.4 336.2h.6v.6h-.6zM328.5 334.1h.6v.6h-.6zM315.6 325.7h.6v.6h-.6zM319.7 321.7h.6v.6h-.6zM318.3 327.6h.6v.6h-.6zM332.9 338.7h.6v.6h-.6zM323.8 335.7h.6v.6h-.6zM317.3 336.6h.6v.6h-.6zM314.4 329.8h.6v.6h-.6zM325.9 338.6h.6v.6h-.6zM313.8 337.4h.6v.6h-.6zM317.7 333.0h.6v.6h-.6zM324.3 331.1h.6v.6h-.6zM309.6 332.9h.6v.6h-.6zM319.3 338.7h.6v.6h-.6zM330.6 331.1h.6v.6h-.6zM330.5 325.9h.6v.6h-.6zM317.1 333.8h.6v.6h-.6zM313.2 326.8h.6v.6h-.6zM319.3 327.9h.6v.6h-.6zM315.2 325.3h.6v.6h-.6zM322.1 327.0h.6v.6h-.6zM313.3 330.2h.6v.6h-.6zM309.4 332.9h.6v.6h-.6zM312.7 332.6h.6v.6h-.6zM314.0 330.9h.6v.6h-.6zM321.9 331.7h.6v.6h-.6zM316.5 335.2h.6v.6h-.6zM310.2 322.0h.6v.6h-.6zM320.7 320.7h.6v.6h-.6zM310.4 330.5h.6v.6h-.6zM320.5 336.9h.6v.6h-.6zM323.5 331.4h.6v.6h-.6zM331.3 333.0h.6v.6h-.6zM321.9 332.7h.6v.6h-.6zM313.9 334.2h.6v.6h-.6zM325.0 338.0h.6v.6h-.6zM314.7 328.2h.6v.6h-.6zM312.7 338.7h.6v.6h-.6zM325.0 331.4h.6v.6h-.6zM315.6 333.7h.6v.6h-.6zM320.2 324.5h.6v.6h-.6zM314.8 335.3h.6v.6h-.6zM323.2 319.6h.6v.6h-.6zM309.5 333.9h.6v.6h-.6zM315.5 338.3h.6v.6h-.6zM314.8 326.8h.6v.6h-.6zM314.5 324.0h.6v.6h-.6zM320.5 334.7h.6v.6h-.6zM314.0 331.4h.6v.6h-.6zM311.3 324.7h.6v.6h-.6zM313.9 318.5h.6v.6h-.6zM313.4 321.0h.6v.6h-.6zM327.4 334.3h.6v.6h-.6zM325.4 329.0h.6v.6h-.6zM313.8 330.9h.6v.6h-.6zM307.6 326.3h.6v.6h-.6zM328.5 324.4h.6v.6h-.6zM316.7 332.1h.6v.6h-.6zM309.2 330.0h.6v.6h-.6zM321.1 328.9h.6v.6h-.6zM326.9 339.9h.6v.6h-.6zM315.7 328.8h.6v.6h-.6zM308.2 323.7h.6v.6h-.6zM320.6 335.2h.6v.6h-.6zM313.1 322.6h.6v.6h-.6zM311.4 317.6h.6v.6h-.6zM317.6 333.8h.6v.6h-.6zM313.1 327.1h.6v.6h-.6zM311.0 331.6h.6v.6h-.6zM323.6 331.8h.6v.6h-.6zM319.2 324.1h.6v.6h-.6zM315.0 336.1h.6v.6h-.6zM319.0 326.2h.6v.6h-.6zM310.3 334.5h.6v.6h-.6zM318.0 331.7h.6v.6h-.6zM320.9 331.7h.6v.6h-.6zM315.6 337.9h.6v.6h-.6zM323.2 330.1h.6v.6h-.6zM321.0 333.2h.6v.6h-.6zM320.4 332.3h.6v.6h-.6zM310.1 315.0h.6v.6h-.6zM323.0 319.6h.6v.6h-.6zM323.6 332.5h.6v.6h-.6zM327.4 322.3h.6v.6h-.6zM316.1 337.8h.6v.6h-.6zM323.4 326.3h.6v.6h-.6zM325.5 333.3h.6v.6h-.6zM313.8 330.5h.6v.6h-.6zM324.8 327.7h.6v.6h-.6zM317.7 332.2h.6v.6h-.6zM335.6 339.2h.6v.6h-.6zM311.3 330.0h.6v.6h-.6zM331.0 333.6h.6v.6h-.6zM318.3 326.8h.6v.6h-.6zM319.7 336.1h.6v.6h-.6zM315.5 335.0h.6v.6h-.6zM314.4 326.8h.6v.6h-.6zM317.5 332.1h.6v.6h-.6zM325.6 337.7h.6v.6h-.6zM325.0 338.5h.6v.6h-.6zM324.3 337.6h.6v.6h-.6zM315.2 323.9h.6v.6h-.6zM330.2 338.1h.6v.6h-.6zM336.8 336.8h.6v.6h-.6zM309.6 333.0h.6v.6h-.6zM318.1 336.6h.6v.6h-.6zM309.3 328.8h.6v.6h-.6zM323.8 335.6h.6v.6h-.6zM324.0 336.3h.6v.6h-.6zM321.0 331.8h.6v.6h-.6zM310.2 325.5h.6v.6h-.6zM323.5 330.3h.6v.6h-.6zM311.3 316.2h.6v.6h-.6zM326.6 336.3h.6v.6h-.6zM309.1 334.9h.6v.6h-.6zM321.9 323.8h.6v.6h-.6zM318.2 325.8h.6v.6h-.6zM319.9 326.7h.6v.6h-.6zM316.8 334.5h.6v.6h-.6zM315.1 328.6h.6v.6h-.6zM314.2 335.4h.6v.6h-.6zM311.0 332.7h.6v.6h-.6zM326.1 336.2h.6v.6h-.6zM313.1 326.4h.6v.6h-.6zM309.0 321.9h.6v.6h-.6zM311.2 326.1h.6v.6h-.6zM313.9 332.9h.6v.6h-.6zM317.2 334.5h.6v.6h-.6zM316.7 333.1h.6v.6h-.6zM308.8 330.5h.6v.6h-.6zM308.3 328.4h.6v.6h-.6zM318.2 328.8h.6v.6h-.6zM314.2 327.7h.6v.6h-.6zM321.1 327.2h.6v.6h-.6zM317.4 333.5h.6v.6h-.6zM321.3 333.9h.6v.6h-.6zM322.9 337.7h.6v.6h-.6zM307.4 329.2h.6v.6h-.6zM330.4 321.2h.6v.6h-.6zM315.6 333.1h.6v.6h-.6zM317.8 332.6h.6v.6h-.6zM312.3 338.1h.6v.6h-.6zM321.2 332.1h.6v.6h-.6zM314.4 325.7h.6v.6h-.6zM319.4 334.0h.6v.6h-.6zM315.2 339.9h.6v.6h-.6zM323.4 338.8h.6v.6h-.6zM318.4 331.8h.6v.6h-.6zM313.1 336.0h.6v.6h-.6zM313.7 321.5h.6v.6h-.6zM318.4 325.3h.6v.6h-.6zM309.4 334.8h.6v.6h-.6zM310.7 325.3h.6v.6h-.6zM317.8 324.6h.6v.6h-.6zM308.6 326.1h.6v.6h-.6zM311.8 335.8h.6v.6h-.6zM330.2 338.2h.6v.6h-.6zM314.0 327.2h.6v.6h-.6zM317.6 338.5h.6v.6h-.6zM310.5 330.3h.6v.6h-.6zM313.9 337.5h.6v.6h-.6zM316.1 329.2h.6v.6h-.6zM317.2 321.8h.6v.6h-.6zM317.2 336.6h.6v.6h-.6zM323.9 338.0h.6v.6h-.6zM318.2 325.5h.6v.6h-.6zM313.3 323.5h.6v.6h-.6zM319.7 333.8h.6v.6h-.6zM319.7 325.6h.6v.6h-.6zM316.0 334.5h.6v.6h-.6zM316.2 320.9h.6v.6h-.6zM315.1 331.9h.6v.6h-.6zM311.1 338.5h.6v.6h-.6zM322.2 327.6h.6v.6h-.6zM324.9 332.0h.6v.6h-.6zM321.8 335.3h.6v.6h-.6zM328.8 332.2h.6v.6h-.6zM320.9 337.1h.6v.6h-.6zM310.0 331.7h.6v.6h-.6zM313.8 328.0h.6v.6h-.6zM325.0 338.7h.6v.6h-.6zM329.2 334.9h.6v.6h-.6zM331.3 329.6h.6v.6h-.6zM317.9 329.8h.6v.6h-.6zM310.8 336.0h.6v.6h-.6zM313.1 331.2h.6v.6h-.6zM317.9 326.6h.6v.6h-.6zM330.5 323.8h.6v.6h-.6zM309.8 332.2h.6v.6h-.6zM312.7 334.4h.6v.6h-.6zM336.3 338.9h.6v.6h-.6zM308.6 326.3h.6v.6h-.6zM325.5 332.9h.6v.6h-.6zM330.6 334.3h.6v.6h-.6zM313.6 335.7h.6v.6h-.6zM318.5 328.3h.6v.6h-.6zM315.6 335.1h.6v.6h-.6zM329.6 339.7h.6v.6h-.6zM307.9 324.8h.6v.6h-.6z" fill="#505050" filter="url(#sb)"/>
<path d="M325.8 315.0h.6v.6h-.6zM324.8 321.5h.6v.6h-.6zM330.5 328.4h.6v.6h-.6zM320.9 330.0h.6v.6h-.6zM330.4 327.1h.6v.6h-.6zM342.3 313.3h.6v.6h-.6zM345.8 317.0h.6v.6h-.6zM333.9 329.6h.6v.6h-.6zM339.1 311.0h.6v.6h-.6zM331.6 330.0h.6v.6h-.6zM328.7 321.4h.6v.6h-.6zM330.7 333.5h.6v.6h-.6zM324.6 315.4h.6v.6h-.6zM319.0 318.3h.6v.6h-.6zM327.6 324.4h.6v.6h-.6zM314.3 326.8h.6v.6h-.6zM337.2 312.5h.6v.6h-.6zM313.4 325.6h.6v.6h-.6zM329.6 318.8h.6v.6h-.6zM326.3 320.4h.6v.6h-.6zM329.0 315.7h.6v.6h-.6zM324.3 325.9h.6v.6h-.6zM335.2 312.7h.6v.6h-.6zM325.1 333.0h.6v.6h-.6zM337.1 333.6h.6v.6h-.6zM316.5 314.7h.6v.6h-.6zM326.2 314.6h.6v.6h-.6zM319.1 317.1h.6v.6h-.6zM328.1 327.8h.6v.6h-.6zM344.9 319.7h.6v.6h-.6zM320.0 321.8h.6v.6h-.6zM326.0 312.3h.6v.6h-.6zM345.6 317.9h.6v.6h-.6zM324.0 325.8h.6v.6h-.6zM346.7 325.4h.6v.6h-.6zM321.0 325.1h.6v.6h-.6zM341.1 324.7h.6v.6h-.6zM336.5 318.6h.6v.6h-.6zM322.8 314.0h.6v.6h-.6zM330.1 332.5h.6v.6h-.6zM307.5 312.7h.6v.6h-.6zM320.7 321.4h.6v.6h-.6zM341.6 316.5h.6v.6h-.6zM322.1 330.5h.6v.6h-.6zM333.7 325.7h.6v.6h-.6zM338.3 316.8h.6v.6h-.6zM332.2 317.4h.6v.6h-.6zM322.8 322.9h.6v.6h-.6zM334.3 313.1h.6v.6h-.6zM322.3 326.3h.6v.6h-.6zM331.7 326.7h.6v.6h-.6zM326.8 316.4h.6v.6h-.6zM337.8 326.2h.6v.6h-.6zM322.4 326.7h.6v.6h-.6zM345.7 320.0h.6v.6h-.6zM320.3 323.8h.6v.6h-.6zM330.9 326.0h.6v.6h-.6zM315.9 323.7h.6v.6h-.6zM339.0 326.9h.6v.6h-.6zM336.3 330.4h.6v.6h-.6zM321.7 330.6h.6v.6h-.6zM332.1 315.0h.6v.6h-.6zM327.0 323.9h.6v.6h-.6zM333.3 331.5h.6v.6h-.6zM331.9 318.4h.6v.6h-.6zM321.7 328.5h.6v.6h-.6zM325.8 316.5h.6v.6h-.6zM319.3 330.3h.6v.6h-.6zM319.3 322.7h.6v.6h-.6zM325.4 320.7h.6v.6h-.6zM321.8 323.1h.6v.6h-.6zM336.1 329.4h.6v.6h-.6zM326.4 313.8h.6v.6h-.6zM315.1 322.1h.6v.6h-.6zM330.3 322.9h.6v.6h-.6zM316.0 317.5h.6v.6h-.6zM322.5 326.8h.6v.6h-.6zM325.9 326.4h.6v.6h-.6zM327.7 330.9h.6v.6h-.6zM324.9 322.9h.6v.6h-.6zM328.7 313.4h.6v.6h-.6zM336.4 318.9h.6v.6h-.6zM344.1 330.1h.6v.6h-.6zM341.9 328.7h.6v.6h-.6zM337.0 331.8h.6v.6h-.6zM334.0 323.0h.6v.6h-.6zM338.1 315.8h.6v.6h-.6zM331.5 317.1h.6v.6h-.6zM327.3 315.4h.6v.6h-.6zM321.6 323.4h.6v.6h-.6zM331.2 327.9h.6v.6h-.6zM329.1 326.5h.6v.6h-.6zM336.9 317.1h.6v.6h-.6zM313.0 317.2h.6v.6h-.6zM327.5 318.3h.6v.6h-.6zM334.8 316.7h.6v.6h-.6zM336.9 313.2h.6v.6h-.6zM339.5 323.3h.6v.6h-.6zM326.0 313.7h.6v.6h-.6zM346.7 318.0h.6v.6h-.6zM318.0 334.7h.6v.6h-.6zM340.0 326.3h.6v.6h-.6zM326.4 323.0h.6v.6h-.6zM318.5 312.7h.6v.6h-.6zM331.2 327.2h.6v.6h-.6zM331.6 313.5h.6v.6h-.6zM338.5 322.7h.6v.6h-.6zM337.5 320.1h.6v.6h-.6zM327.3 329.4h.6v.6h-.6zM343.8 313.7h.6v.6h-.6zM318.9 328.9h.6v.6h-.6zM333.6 322.4h.6v.6h-.6zM320.2 329.2h.6v.6h-.6zM331.9 323.6h.6v.6h-.6zM333.9 318.4h.6v.6h-.6zM334.0 323.0h.6v.6h-.6zM337.2 324.7h.6v.6h-.6zM317.1 317.1h.6v.6h-.6zM327.3 330.2h.6v.6h-.6zM323.5 330.0h.6v.6h-.6zM340.8 328.2h.6v.6h-.6zM333.2 330.6h.6v.6h-.6zM334.1 329.0h.6v.6h-.6zM328.7 332.0h.6v.6h-.6zM340.9 320.8h.6v.6h-.6zM321.1 320.0h.6v.6h-.6zM327.2 330.1h.6v.6h-.6zM333.3 321.6h.6v.6h-.6zM329.9 315.8h.6v.6h-.6zM323.6 318.8h.6v.6h-.6zM327.7 314.0h.6v.6h-.6zM326.0 329.1h.6v.6h-.6zM334.5 322.1h.6v.6h-.6zM333.5 320.4h.6v.6h-.6zM318.1 328.3h.6v.6h-.6zM336.9 339.3h.6v.6h-.6zM317.9 325.8h.6v.6h-.6zM326.6 320.2h.6v.6h-.6zM313.4 321.5h.6v.6h-.6zM327.8 318.7h.6v.6h-.6zM320.0 326.5h.6v.6h-.6zM346.5 325.0h.6v.6h-.6zM340.3 327.4h.6v.6h-.6zM329.4 326.2h.6v.6h-.6zM343.3 319.1h.6v.6h-.6zM328.5 312.5h.6v.6h-.6zM311.3 316.4h.6v.6h-.6zM339.0 324.6h.6v.6h-.6zM332.6 331.3h.6v.6h-.6zM312.3 331.7h.6v.6h-.6zM330.8 327.5h.6v.6h-.6zM343.9 316.4h.6v.6h-.6zM321.3 324.9h.6v.6h-.6zM329.4 318.0h.6v.6h-.6zM328.7 317.1h.6v.6h-.6zM331.4 319.4h.6v.6h-.6zM335.8 322.6h.6v.6h-.6zM345.9 315.4h.6v.6h-.6zM325.3 334.1h.6v.6h-.6zM323.4 319.5h.6v.6h-.6zM326.1 315.3h.6v.6h-.6zM342.3 332.6h.6v.6h-.6zM328.5 316.9h.6v.6h-.6zM316.4 326.7h.6v.6h-.6zM324.7 325.9h.6v.6h-.6zM336.3 325.0h.6v.6h-.6zM331.3 322.0h.6v.6h-.6zM326.6 319.0h.6v.6h-.6zM331.4 325.6h.6v.6h-.6zM339.3 320.6h.6v.6h-.6zM342.3 315.6h.6v.6h-.6zM344.5 333.1h.6v.6h-.6zM318.0 321.3h.6v.6h-.6zM334.7 329.4h.6v.6h-.6zM330.8 313.1h.6v.6h-.6zM342.3 320.9h.6v.6h-.6zM334.4 319.9h.6v.6h-.6zM328.9 312.6h.6v.6h-.6zM336.7 317.7h.6v.6h-.6zM312.2 325.0h.6v.6h-.6zM329.7 328.7h.6v.6h-.6zM338.2 313.7h.6v.6h-.6zM328.2 322.1h.6v.6h-.6zM330.9 314.8h.6v.6h-.6zM330.8 328.9h.6v.6h-.6zM342.5 332.2h.6v.6h-.6zM327.3 318.3h.6v.6h-.6zM339.2 322.0h.6v.6h-.6zM333.6 325.5h.6v.6h-.6zM327.8 331.6h.6v.6h-.6zM324.4 323.8h.6v.6h-.6zM339.8 327.1h.6v.6h-.6zM323.1 328.7h.6v.6h-.6zM337.3 326.1h.6v.6h-.6zM325.8 321.9h.6v.6h-.6zM310.8 321.9h.6v.6h-.6zM325.6 320.0h.6v.6h-.6zM327.2 319.9h.6v.6h-.6zM330.9 322.8h.6v.6h-.6zM323.9 321.2h.6v.6h-.6zM329.1 325.5h.6v.6h-.6zM334.4 319.6h.6v.6h-.6zM317.4 324.9h.6v.6h-.6zM320.8 333.2h.6v.6h-.6zM328.4 319.4h.6v.6h-.6zM328.4 318.3h.6v.6h-.6zM323.7 322.5h.6v.6h-.6zM315.5 323.0h.6v.6h-.6zM329.1 315.8h.6v.6h-.6zM340.3 324.6h.6v.6h-.6zM340.9 317.5h.6v.6h-.6zM317.5 313.9h.6v.6h-.6zM345.7 318.8h.6v.6h-.6zM331.9 318.4h.6v.6h-.6zM328.6 333.0h.6v.6h-.6zM312.6 315.3h.6v.6h-.6zM331.4 315.8h.6v.6h-.6zM336.9 331.0h.6v.6h-.6zM339.0 327.3h.6v.6h-.6zM328.4 329.0h.6v.6h-.6zM322.0 313.8h.6v.6h-.6zM327.4 320.3h.6v.6h-.6zM342.3 315.2h.6v.6h-.6zM341.5 316.7h.6v.6h-.6zM329.7 312.1h.6v.6h-.6zM332.1 322.4h.6v.6h-.6zM324.8 325.1h.6v.6h-.6zM312.1 326.8h.6v.6h-.6zM330.2 318.3h.6v.6h-.6zM332.0 326.6h.6v.6h-.6zM329.8 316.7h.6v.6h-.6zM337.9 317.4h.6v.6h-.6zM333.6 328.8h.6v.6h-.6zM343.1 333.1h.6v.6h-.6zM340.3 323.1h.6v.6h-.6zM328.0 323.4h.6v.6h-.6zM336.6 316.3h.6v.6h-.6zM345.3 311.1h.6v.6h-.6zM340.1 313.2h.6v.6h-.6zM319.1 318.6h.6v.6h-.6zM327.2 312.7h.6v.6h-.6zM336.2 321.3h.6v.6h-.6zM343.5 315.0h.6v.6h-.6zM311.8 326.8h.6v.6h-.6zM327.7 328.8h.6v.6h-.6zM330.9 335.6h.6v.6h-.6zM325.4 331.8h.6v.6h-.6zM345.9 312.6h.6v.6h-.6zM321.6 315.4h.6v.6h-.6zM334.3 329.9h.6v.6h-.6zM338.2 323.6h.6v.6h-.6zM331.3 335.4h.6v.6h-.6zM337.1 332.9h.6v.6h-.6zM333.0 328.0h.6v.6h-.6zM335.1 321.4h.6v.6h-.6zM323.0 319.2h.6v.6h-.6zM330.1 319.4h.6v.6h-.6zM326.6 317.2h.6v.6h-.6zM338.6 320.3h.6v.6h-.6zM328.8 320.5h.6v.6h-.6zM343.2 318.3h.6v.6h-.6zM344.2 316.1h.6v.6h-.6zM345.3 326.3h.6v.6h-.6z" fill="#777" filter="url(#sb)"/>
<path d="M364.9 330.1h.6v.6h-.6zM382.0 317.6h.6v.6h-.6zM367.6 328.8h.6v.6h-.6zM367.8 323.5h.6v.6h-.6zM370.2 328.8h.6v.6h-.6zM378.2 339.2h.6v.6h-.6zM368.7 313.1h.6v.6h-.6zM365.4 323.0h.6v.6h-.6zM363.4 324.9h.6v.6h-.6zM376.9 329.6h.6v.6h-.6zM379.0 324.6h.6v.6h-.6zM367.6 336.8h.6v.6h-.6zM388.1 329.4h.6v.6h-.6zM371.7 318.4h.6v.6h-.6zM376.5 311.8h.6v.6h-.6zM368.3 324.2h.6v.6h-.6zM386.1 324.4h.6v.6h-.6zM357.8 318.7h.6v.6h-.6zM377.2 327.1h.6v.6h-.6zM370.5 324.6h.6v.6h-.6zM371.4 329.2h.6v.6h-.6zM365.0 323.6h.6v.6h-.6zM372.5 316.4h.6v.6h-.6zM376.7 325.0h.6v.6h-.6zM357.7 338.0h.6v.6h-.6zM362.4 336.8h.6v.6h-.6zM367.7 335.2h.6v.6h-.6zM374.1 330.3h.6v.6h-.6zM362.3 313.3h.6v.6h-.6zM372.7 319.9h.6v.6h-.6zM369.0 326.0h.6v.6h-.6zM361.5 335.8h.6v.6h-.6zM372.7 335.5h.6v.6h-.6zM367.0 320.2h.6v.6h-.6zM364.5 318.2h.6v.6h-.6zM374.7 327.3h.6v.6h-.6zM358.8 312.3h.6v.6h-.6zM360.8 312.5h.6v.6h-.6zM377.4 315.7h.6v.6h-.6zM363.9 325.0h.6v.6h-.6zM370.4 329.8h.6v.6h-.6zM378.0 331.8h.6v.6h-.6zM366.5 337.2h.6v.6h-.6zM373.9 319.7h.6v.6h-.6zM385.7 315.5h.6v.6h-.6zM375.0 337.2h.6v.6h-.6zM371.2 329.1h.6v.6h-.6zM371.3 332.0h.6v.6h-.6zM372.4 326.1h.6v.6h-.6zM372.7 323.3h.6v.6h-.6zM390.5 328.6h.6v.6h-.6zM363.2 331.9h.6v.6h-.6zM366.1 315.5h.6v.6h-.6zM367.1 330.5h.6v.6h-.6zM382.4 335.4h.6v.6h-.6zM372.4 324.6h.6v.6h-.6zM372.1 336.8h.6v.6h-.6zM368.7 336.4h.6v.6h-.6zM361.8 325.9h.6v.6h-.6zM378.1 332.3h.6v.6h-.6zM372.1 321.4h.6v.6h-.6zM351.4 322.1h.6v.6h-.6zM361.2 322.4h.6v.6h-.6zM386.5 319.2h.6v.6h-.6zM378.9 325.9h.6v.6h-.6zM358.6 327.0h.6v.6h-.6zM377.9 315.5h.6v.6h-.6zM358.0 322.6h.6v.6h-.6zM377.6 320.7h.6v.6h-.6zM374.4 330.1h.6v.6h-.6zM370.2 330.0h.6v.6h-.6zM383.2 324.3h.6v.6h-.6zM373.4 316.5h.6v.6h-.6zM362.6 325.1h.6v.6h-.6zM378.5 320.0h.6v.6h-.6zM355.6 334.3h.6v.6h-.6zM359.0 327.1h.6v.6h-.6zM375.1 317.6h.6v.6h-.6zM373.5 335.8h.6v.6h-.6zM367.2 332.5h.6v.6h-.6zM371.4 317.7h.6v.6h-.6zM363.7 320.6h.6v.6h-.6zM383.8 336.3h.6v.6h-.6zM372.6 312.1h.6v.6h-.6zM365.0 322.5h.6v.6h-.6zM350.1 325.8h.6v.6h-.6zM373.0 314.2h.6v.6h-.6zM365.6 322.0h.6v.6h-.6zM389.1 331.9h.6v.6h-.6zM378.0 326.8h.6v.6h-.6zM356.8 334.2h.6v.6h-.6zM377.6 322.9h.6v.6h-.6zM370.0 330.6h.6v.6h-.6zM367.6 329.7h.6v.6h-.6zM383.3 323.2h.6v.6h-.6zM366.4 326.2h.6v.6h-.6zM376.7 322.5h.6v.6h-.6zM370.9 320.0h.6v.6h-.6zM369.3 330.8h.6v.6h-.6zM361.6 324.4h.6v.6h-.6zM355.0 319.8h.6v.6h-.6zM370.8 330.7h.6v.6h-.6zM359.4 325.1h.6v.6h-.6zM360.5 328.8h.6v.6h-.6zM372.7 330.0h.6v.6h-.6zM367.9 313.4h.6v.6h-.6zM364.3 314.1h.6v.6h-.6zM363.1 325.5h.6v.6h-.6zM381.1 320.3h.6v.6h-.6zM362.1 327.8h.6v.6h-.6zM354.2 335.0h.6v.6h-.6zM380.1 334.6h.6v.6h-.6zM369.0 332.5h.6v.6h-.6zM366.5 334.5h.6v.6h-.6zM363.3 318.8h.6v.6h-.6zM373.9 322.0h.6v.6h-.6zM376.9 318.4h.6v.6h-.6zM372.8 317.3h.6v.6h-.6zM359.0 315.1h.6v.6h-.6zM353.6 324.0h.6v.6h-.6zM386.6 322.0h.6v.6h-.6zM379.6 324.4h.6v.6h-.6zM360.0 329.7h.6v.6h-.6zM376.7 324.0h.6v.6h-.6zM373.2 330.8h.6v.6h-.6zM366.5 334.9h.6v.6h-.6zM361.3 332.7h.6v.6h-.6zM379.4 327.8h.6v.6h-.6zM366.5 325.8h.6v.6h-.6zM377.8 317.9h.6v.6h-.6zM373.6 326.4h.6v.6h-.6zM352.1 318.0h.6v.6h-.6zM367.3 330.2h.6v.6h-.6zM370.7 314.8h.6v.6h-.6zM364.6 326.9h.6v.6h-.6zM357.1 322.1h.6v.6h-.6zM387.6 333.8h.6v.6h-.6zM365.3 334.4h.6v.6h-.6zM359.4 339.6h.6v.6h-.6zM366.2 327.3h.6v.6h-.6zM364.1 326.8h.6v.6h-.6zM373.4 326.3h.6v.6h-.6zM361.6 332.7h.6v.6h-.6zM375.7 326.0h.6v.6h-.6zM380.7 319.5h.6v.6h-.6zM383.0 324.6h.6v.6h-.6zM385.4 322.1h.6v.6h-.6zM367.4 327.9h.6v.6h-.6zM381.2 338.8h.6v.6h-.6zM365.4 319.6h.6v.6h-.6zM377.8 337.0h.6v.6h-.6zM377.2 323.1h.6v.6h-.6zM383.0 325.8h.6v.6h-.6zM371.7 331.5h.6v.6h-.6zM372.2 332.4h.6v.6h-.6zM374.5 330.8h.6v.6h-.6zM371.7 335.2h.6v.6h-.6zM371.2 339.2h.6v.6h-.6zM370.5 333.1h.6v.6h-.6zM364.4 328.7h.6v.6h-.6zM374.3 327.2h.6v.6h-.6zM385.7 326.4h.6v.6h-.6zM381.4 329.1h.6v.6h-.6zM381.1 318.0h.6v.6h-.6zM366.3 334.6h.6v.6h-.6zM361.7 329.5h.6v.6h-.6zM375.8 327.7h.6v.6h-.6zM374.5 330.8h.6v.6h-.6zM367.6 329.7h.6v.6h-.6zM364.8 322.0h.6v.6h-.6zM353.9 325.1h.6v.6h-.6zM352.7 326.3h.6v.6h-.6zM372.2 316.4h.6v.6h-.6zM370.7 328.6h.6v.6h-.6zM366.5 317.9h.6v.6h-.6zM368.9 329.6h.6v.6h-.6zM350.0 329.0h.6v.6h-.6zM374.4 320.4h.6v.6h-.6zM371.2 338.1h.6v.6h-.6zM380.8 322.1h.6v.6h-.6zM368.0 319.8h.6v.6h-.6zM372.1 326.6h.6v.6h-.6zM381.6 320.8h.6v.6h-.6zM369.0 331.6h.6v.6h-.6zM379.1 322.9h.6v.6h-.6zM350.6 327.9h.6v.6h-.6zM365.0 331.0h.6v.6h-.6zM353.9 314.1h.6v.6h-.6zM374.1 336.1h.6v.6h-.6zM381.8 320.2h.6v.6h-.6zM355.0 330.8h.6v.6h-.6zM366.0 317.0h.6v.6h-.6zM351.0 323.9h.6v.6h-.6zM359.4 336.0h.6v.6h-.6zM350.5 320.5h.6v.6h-.6zM370.7 336.1h.6v.6h-.6zM369.7 325.0h.6v.6h-.6zM374.5 329.1h.6v.6h-.6zM354.8 317.6h.6v.6h-.6zM367.6 329.0h.6v.6h-.6zM357.5 319.6h.6v.6h-.6zM362.4 329.0h.6v.6h-.6zM365.6 331.4h.6v.6h-.6zM374.0 317.9h.6v.6h-.6zM367.0 314.9h.6v.6h-.6zM371.1 333.2h.6v.6h-.6zM375.3 323.4h.6v.6h-.6zM369.7 330.1h.6v.6h-.6zM373.9 334.3h.6v.6h-.6zM365.0 323.3h.6v.6h-.6zM365.8 329.5h.6v.6h-.6zM367.5 337.6h.6v.6h-.6zM363.5 325.9h.6v.6h-.6zM360.3 317.1h.6v.6h-.6zM366.1 332.8h.6v.6h-.6zM370.1 324.4h.6v.6h-.6zM367.8 323.9h.6v.6h-.6zM388.0 329.3h.6v.6h-.6zM374.4 334.7h.6v.6h-.6zM360.9 315.0h.6v.6h-.6zM366.3 339.2h.6v.6h-.6zM380.1 320.8h.6v.6h-.6zM357.3 334.3h.6v.6h-.6zM381.2 316.2h.6v.6h-.6zM386.4 319.1h.6v.6h-.6zM377.7 324.2h.6v.6h-.6zM366.7 320.5h.6v.6h-.6zM377.1 331.5h.6v.6h-.6zM378.3 323.5h.6v.6h-.6zM387.6 324.3h.6v.6h-.6zM358.3 339.4h.6v.6h-.6zM371.4 326.5h.6v.6h-.6zM378.7 329.1h.6v.6h-.6zM350.6 331.8h.6v.6h-.6zM359.9 326.7h.6v.6h-.6zM368.3 328.4h.6v.6h-.6zM379.3 331.6h.6v.6h-.6zM373.1 321.5h.6v.6h-.6zM376.5 328.4h.6v.6h-.6zM384.9 333.5h.6v.6h-.6zM385.5 330.4h.6v.6h-.6zM371.8 320.6h.6v.6h-.6zM371.0 322.7h.6v.6h-.6zM375.9 338.2h.6v.6h-.6zM375.4 334.5h.6v.6h-.6zM372.7 329.2h.6v.6h-.6zM356.9 327.1h.6v.6h-.6zM370.5 325.3h.6v.6h-.6zM367.5 328.8h.6v.6h-.6zM364.0 324.2h.6v.6h-.6zM360.8 315.2h.6v.6h-.6zM364.5 322.3h.6v.6h-.6zM387.0 335.2h.6v.6h-.6zM366.1 331.0h.6v.6h-.6zM358.5 311.5h.6v.6h-.6zM373.5 331.2h.6v.6h-.6zM362.9 326.0h.6v.6h-.6zM381.0 327.5h.6v.6h-.6zM371.9 331.2h.6v.6h-.6zM356.8 328.2h.6v.6h-.6zM379.2 324.3h.6v.6h-.6zM352.8 314.6h.6v.6h-.6zM381.2 338.7h.6v.6h-.6zM374.1 329.2h.6v.6h-.6zM377.2 331.9h.6v.6h-.6zM356.8 332.7h.6v.6h-.6zM380.3 322.4h.6v.6h-.6zM360.5 321.6h.6v.6h-.6zM363.9 330.7h.6v.6h-.6zM378.1 326.2h.6v.6h-.6zM365.6 317.1h.6v.6h-.6zM364.2 329.1h.6v.6h-.6zM360.9 321.2h.6v.6h-.6zM358.1 323.7h.6v.6h-.6zM367.0 335.0h.6v.6h-.6zM349.7 334.2h.6v.6h-.6zM376.7 321.3h.6v.6h-.6zM362.8 327.8h.6v.6h-.6zM375.4 324.6h.6v.6h-.6zM368.4 326.2h.6v.6h-.6zM358.7 328.4h.6v.6h-.6zM376.0 326.5h.6v.6h-.6zM358.1 326.0h.6v.6h-.6zM368.8 328.8h.6v.6h-.6zM365.6 333.4h.6v.6h-.6zM381.3 333.4h.6v.6h-.6zM372.4 336.9h.6v.6h-.6zM369.6 324.5h.6v.6h-.6zM355.1 326.2h.6v.6h-.6zM382.6 317.5h.6v.6h-.6zM378.1 314.7h.6v.6h-.6zM370.4 315.6h.6v.6h-.6zM373.0 324.7h.6v.6h-.6zM378.3 321.4h.6v.6h-.6zM351.9 321.8h.6v.6h-.6zM376.1 335.1h.6v.6h-.6zM372.8 326.2h.6v.6h-.6zM377.1 324.3h.6v.6h-.6zM365.2 328.0h.6v.6h-.6zM381.4 321.6h.6v.6h-.6zM375.1 320.3h.6v.6h-.6zM362.3 327.6h.6v.6h-.6zM356.1 318.5h.6v.6h-.6zM357.5 320.7h.6v.6h-.6zM376.3 326.7h.6v.6h-.6zM374.5 320.5h.6v.6h-.6zM380.9 322.5h.6v.6h-.6zM356.3 320.4h.6v.6h-.6zM354.0 313.5h.6v.6h-.6zM377.4 321.3h.6v.6h-.6zM377.1 321.1h.6v.6h-.6zM367.5 321.2h.6v.6h-.6zM364.2 320.2h.6v.6h-.6zM385.5 325.5h.6v.6h-.6zM383.0 335.9h.6v.6h-.6zM368.8 324.7h.6v.6h-.6zM364.9 327.1h.6v.6h-.6zM374.8 326.0h.6v.6h-.6zM361.3 317.5h.6v.6h-.6zM357.0 320.4h.6v.6h-.6zM369.5 331.2h.6v.6h-.6zM368.7 328.1h.6v.6h-.6zM373.7 336.0h.6v.6h-.6zM356.3 335.7h.6v.6h-.6zM374.5 330.8h.6v.6h-.6zM354.2 324.0h.6v.6h-.6zM367.2 331.6h.6v.6h-.6zM377.1 332.1h.6v.6h-.6zM356.4 337.1h.6v.6h-.6zM370.6 334.2h.6v.6h-.6zM369.8 319.9h.6v.6h-.6zM377.9 322.0h.6v.6h-.6zM367.6 335.8h.6v.6h-.6zM382.4 316.6h.6v.6h-.6zM353.8 336.2h.6v.6h-.6zM376.2 323.8h.6v.6h-.6zM366.8 321.2h.6v.6h-.6zM388.6 324.6h.6v.6h-.6zM355.4 334.0h.6v.6h-.6zM369.0 329.1h.6v.6h-.6zM365.9 325.7h.6v.6h-.6zM350.2 330.7h.6v.6h-.6zM362.7 322.7h.6v.6h-.6zM373.2 337.2h.6v.6h-.6zM375.6 334.9h.6v.6h-.6zM360.3 328.8h.6v.6h-.6zM374.0 334.1h.6v.6h-.6zM363.4 324.4h.6v.6h-.6zM364.5 335.9h.6v.6h-.6zM381.2 322.2h.6v.6h-.6zM368.4 328.0h.6v.6h-.6zM360.4 325.1h.6v.6h-.6zM378.9 332.8h.6v.6h-.6zM362.7 320.4h.6v.6h-.6zM368.6 313.3h.6v.6h-.6zM373.1 327.1h.6v.6h-.6zM355.9 324.0h.6v.6h-.6zM362.9 323.7h.6v.6h-.6zM360.7 337.9h.6v.6h-.6zM359.7 332.7h.6v.6h-.6zM372.0 338.6h.6v.6h-.6zM369.2 326.1h.6v.6h-.6zM366.5 316.4h.6v.6h-.6zM368.4 340.0h.6v.6h-.6zM361.9 329.9h.6v.6h-.6zM380.6 334.2h.6v.6h-.6zM365.6 311.1h.6v.6h-.6zM374.1 331.0h.6v.6h-.6zM366.4 322.4h.6v.6h-.6zM388.2 312.5h.6v.6h-.6zM364.4 320.9h.6v.6h-.6zM353.5 320.1h.6v.6h-.6zM361.5 336.8h.6v.6h-.6zM351.5 314.3h.6v.6h-.6zM372.6 312.8h.6v.6h-.6zM357.2 317.7h.6v.6h-.6zM368.1 330.0h.6v.6h-.6zM363.0 323.7h.6v.6h-.6zM377.3 324.8h.6v.6h-.6zM377.5 321.1h.6v.6h-.6zM374.9 337.0h.6v.6h-.6zM366.4 323.2h.6v.6h-.6zM368.1 330.1h.6v.6h-.6zM357.1 326.4h.6v.6h-.6zM363.7 338.3h.6v.6h-.6zM351.7 331.7h.6v.6h-.6zM366.5 319.7h.6v.6h-.6zM371.2 324.1h.6v.6h-.6zM370.2 328.1h.6v.6h-.6zM382.4 322.7h.6v.6h-.6zM388.9 336.5h.6v.6h-.6zM386.2 327.8h.6v.6h-.6zM372.8 317.5h.6v.6h-.6zM383.8 316.2h.6v.6h-.6zM361.5 326.1h.6v.6h-.6zM372.3 329.0h.6v.6h-.6zM357.6 323.2h.6v.6h-.6zM374.9 336.2h.6v.6h-.6zM377.8 329.7h.6v.6h-.6zM367.1 321.5h.6v.6h-.6zM364.4 325.3h.6v.6h-.6zM375.3 321.8h.6v.6h-.6zM391.3 317.6h.6v.6h-.6zM378.3 324.4h.6v.6h-.6zM368.3 322.9h.6v.6h-.6zM385.9 323.6h.6v.6h-.6zM375.6 327.1h.6v.6h-.6zM377.6 331.1h.6v.6h-.6zM387.1 319.9h.6v.6h-.6zM383.1 326.7h.6v.6h-.6zM366.8 328.3h.6v.6h-.6zM383.4 319.6h.6v.6h-.6zM385.0 325.6h.6v.6h-.6zM366.0 322.8h.6v.6h-.6zM356.0 321.4h.6v.6h-.6zM360.4 328.1h.6v.6h-.6zM377.4 326.5h.6v.6h-.6zM371.8 329.6h.6v.6h-.6zM386.6 331.0h.6v.6h-.6zM386.2 325.6h.6v.6h-.6zM373.5 320.6h.6v.6h-.6zM376.0 318.9h.6v.6h-.6zM374.7 320.8h.6v.6h-.6zM366.1 336.5h.6v.6h-.6zM371.3 332.9h.6v.6h-.6zM385.2 324.6h.6v.6h-.6zM363.0 334.2h.6v.6h-.6zM357.9 319.8h.6v.6h-.6zM381.8 320.2h.6v.6h-.6zM381.6 323.5h.6v.6h-.6zM367.6 326.7h.6v.6h-.6zM364.6 335.2h.6v.6h-.6zM381.3 326.7h.6v.6h-.6zM376.2 330.7h.6v.6h-.6zM387.4 312.7h.6v.6h-.6zM380.5 333.9h.6v.6h-.6zM366.5 326.3h.6v.6h-.6zM366.2 336.6h.6v.6h-.6zM357.8 331.3h.6v.6h-.6zM383.2 331.0h.6v.6h-.6zM364.8 322.2h.6v.6h-.6zM381.3 318.1h.6v.6h-.6zM352.7 324.1h.6v.6h-.6zM354.2 330.0h.6v.6h-.6zM360.7 334.2h.6v.6h-.6zM368.6 314.1h.6v.6h-.6zM361.7 320.7h.6v.6h-.6zM361.0 336.6h.6v.6h-.6zM359.3 329.2h.6v.6h-.6zM363.7 331.1h.6v.6h-.6zM354.9 312.9h.6v.6h-.6zM375.2 338.3h.6v.6h-.6zM355.3 323.5h.6v.6h-.6zM364.5 318.2h.6v.6h-.6zM380.0 326.6h.6v.6h-.6zM355.3 324.3h.6v.6h-.6zM383.8 320.1h.6v.6h-.6zM364.4 319.1h.6v.6h-.6zM371.5 321.4h.6v.6h-.6zM379.1 319.1h.6v.6h-.6zM354.6 330.0h.6v.6h-.6zM372.8 328.2h.6v.6h-.6zM363.8 322.4h.6v.6h-.6zM361.4 324.6h.6v.6h-.6zM365.0 330.8h.6v.6h-.6zM369.9 330.8h.6v.6h-.6zM386.9 323.8h.6v.6h-.6zM366.8 329.3h.6v.6h-.6zM391.8 323.1h.6v.6h-.6zM387.5 336.2h.6v.6h-.6zM359.5 329.5h.6v.6h-.6zM383.7 326.6h.6v.6h-.6zM361.2 322.1h.6v.6h-.6zM369.4 332.6h.6v.6h-.6zM377.1 330.6h.6v.6h-.6zM382.4 326.5h.6v.6h-.6zM363.8 325.7h.6v.6h-.6zM367.5 320.2h.6v.6h-.6zM369.7 320.5h.6v.6h-.6zM376.6 320.6h.6v.6h-.6zM375.0 328.9h.6v.6h-.6zM371.6 330.6h.6v.6h-.6zM362.6 332.4h.6v.6h-.6zM370.1 322.5h.6v.6h-.6zM388.1 335.5h.6v.6h-.6zM367.0 330.9h.6v.6h-.6zM377.0 339.6h.6v.6h-.6zM380.5 324.7h.6v.6h-.6zM367.2 316.3h.6v.6h-.6zM372.6 333.5h.6v.6h-.6zM365.8 331.8h.6v.6h-.6zM371.2 322.2h.6v.6h-.6zM357.1 335.6h.6v.6h-.6zM358.5 317.4h.6v.6h-.6zM372.5 331.7h.6v.6h-.6zM389.3 327.6h.6v.6h-.6zM371.3 329.4h.6v.6h-.6zM366.1 323.7h.6v.6h-.6zM380.9 311.4h.6v.6h-.6zM368.7 330.9h.6v.6h-.6zM352.6 324.8h.6v.6h-.6zM385.9 329.3h.6v.6h-.6zM377.3 332.1h.6v.6h-.6zM372.2 329.2h.6v.6h-.6zM361.4 324.4h.6v.6h-.6zM389.3 315.7h.6v.6h-.6zM368.1 315.3h.6v.6h-.6zM364.3 319.6h.6v.6h-.6zM357.0 328.2h.6v.6h-.6zM360.0 330.6h.6v.6h-.6zM368.6 329.3h.6v.6h-.6zM372.1 336.4h.6v.6h-.6zM371.6 311.4h.6v.6h-.6zM385.7 318.0h.6v.6h-.6zM368.9 328.9h.6v.6h-.6zM360.7 326.9h.6v.6h-.6zM385.6 311.7h.6v.6h-.6zM352.4 322.3h.6v.6h-.6zM368.2 315.2h.6v.6h-.6zM374.0 314.8h.6v.6h-.6zM375.9 325.6h.6v.6h-.6zM371.6 314.7h.6v.6h-.6zM367.6 330.2h.6v.6h-.6zM351.5 317.1h.6v.6h-.6zM376.9 325.5h.6v.6h-.6zM358.6 322.6h.6v.6h-.6zM367.3 329.9h.6v.6h-.6zM357.7 326.1h.6v.6h-.6zM380.3 329.6h.6v.6h-.6zM384.1 331.2h.6v.6h-.6zM374.8 339.2h.6v.6h-.6zM365.3 321.4h.6v.6h-.6zM359.3 328.2h.6v.6h-.6zM374.6 334.2h.6v.6h-.6zM385.2 331.5h.6v.6h-.6zM382.9 324.0h.6v.6h-.6zM359.8 332.4h.6v.6h-.6zM380.6 337.6h.6v.6h-.6zM368.2 322.1h.6v.6h-.6zM366.1 329.2h.6v.6h-.6zM369.4 324.5h.6v.6h-.6zM372.6 323.6h.6v.6h-.6zM373.5 321.0h.6v.6h-.6zM353.7 323.4h.6v.6h-.6zM389.8 319.1h.6v.6h-.6zM379.6 337.7h.6v.6h-.6zM364.2 328.3h.6v.6h-.6zM386.1 327.7h.6v.6h-.6zM349.0 321.1h.6v.6h-.6zM362.1 327.1h.6v.6h-.6zM373.0 322.5h.6v.6h-.6zM366.7 319.0h.6v.6h-.6zM376.0 327.8h.6v.6h-.6zM373.6 321.7h.6v.6h-.6zM375.2 323.5h.6v.6h-.6zM373.1 324.7h.6v.6h-.6zM363.0 316.6h.6v.6h-.6zM350.4 314.3h.6v.6h-.6zM352.7 319.0h.6v.6h-.6zM367.8 316.0h.6v.6h-.6zM383.0 316.0h.6v.6h-.6zM368.9 320.6h.6v.6h-.6zM378.0 313.5h.6v.6h-.6zM373.3 328.0h.6v.6h-.6zM375.9 329.8h.6v.6h-.6zM366.6 317.9h.6v.6h-.6zM375.6 324.0h.6v.6h-.6zM371.6 335.6h.6v.6h-.6zM378.8 313.2h.6v.6h-.6zM363.8 336.6h.6v.6h-.6zM364.7 336.4h.6v.6h-.6zM364.1 325.0h.6v.6h-.6zM380.8 312.4h.6v.6h-.6zM370.8 322.1h.6v.6h-.6zM375.1 314.3h.6v.6h-.6zM380.1 322.1h.6v.6h-.6zM371.7 336.1h.6v.6h-.6zM366.7 334.4h.6v.6h-.6zM371.9 318.2h.6v.6h-.6zM366.7 314.3h.6v.6h-.6zM382.4 327.5h.6v.6h-.6zM380.2 316.4h.6v.6h-.6zM378.9 315.7h.6v.6h-.6zM373.0 325.9h.6v.6h-.6zM363.8 328.7h.6v.6h-.6zM370.4 318.5h.6v.6h-.6zM362.2 314.7h.6v.6h-.6zM384.4 327.3h.6v.6h-.6zM366.2 332.0h.6v.6h-.6zM360.9 315.9h.6v.6h-.6zM373.7 339.8h.6v.6h-.6zM373.2 327.4h.6v.6h-.6zM388.3 312.6h.6v.6h-.6zM369.2 314.3h.6v.6h-.6zM357.2 323.9h.6v.6h-.6zM363.5 328.4h.6v.6h-.6zM359.3 323.8h.6v.6h-.6zM366.8 323.5h.6v.6h-.6zM364.6 325.0h.6v.6h-.6zM351.1 322.2h.6v.6h-.6zM364.5 317.1h.6v.6h-.6zM378.4 318.5h.6v.6h-.6zM384.9 330.4h.6v.6h-.6zM361.4 331.3h.6v.6h-.6zM363.9 331.0h.6v.6h-.6zM379.7 336.1h.6v.6h-.6zM358.9 324.9h.6v.6h-.6zM370.0 315.4h.6v.6h-.6zM374.4 332.0h.6v.6h-.6zM355.5 321.2h.6v.6h-.6zM358.4 314.9h.6v.6h-.6zM358.8 338.0h.6v.6h-.6zM363.0 322.6h.6v.6h-.6zM380.4 334.9h.6v.6h-.6zM363.3 322.4h.6v.6h-.6zM368.2 336.2h.6v.6h-.6zM368.1 325.5h.6v.6h-.6zM375.4 329.9h.6v.6h-.6zM375.3 328.8h.6v.6h-.6zM376.3 325.5h.6v.6h-.6zM374.3 314.6h.6v.6h-.6zM381.9 315.4h.6v.6h-.6zM384.7 334.8h.6v.6h-.6zM369.3 323.4h.6v.6h-.6zM378.2 323.3h.6v.6h-.6zM357.5 328.4h.6v.6h-.6zM357.2 322.0h.6v.6h-.6zM388.9 333.1h.6v.6h-.6zM365.3 325.4h.6v.6h-.6zM363.2 325.9h.6v.6h-.6zM354.8 332.0h.6v.6h-.6zM370.1 320.7h.6v.6h-.6zM365.3 321.8h.6v.6h-.6zM363.9 321.7h.6v.6h-.6zM383.7 331.9h.6v.6h-.6zM374.4 329.2h.6v.6h-.6zM385.9 332.3h.6v.6h-.6zM372.3 328.4h.6v.6h-.6zM372.1 326.2h.6v.6h-.6zM376.0 326.4h.6v.6h-.6zM380.3 328.7h.6v.6h-.6zM367.0 331.3h.6v.6h-.6zM372.0 322.1h.6v.6h-.6zM366.1 322.3h.6v.6h-.6zM366.9 322.1h.6v.6h-.6zM368.8 335.8h.6v.6h-.6zM365.0 324.6h.6v.6h-.6zM362.2 314.1h.6v.6h-.6zM361.1 321.5h.6v.6h-.6zM371.6 323.1h.6v.6h-.6zM357.4 322.8h.6v.6h-.6zM385.9 318.3h.6v.6h-.6zM370.7 334.8h.6v.6h-.6zM361.5 321.0h.6v.6h-.6zM364.5 327.4h.6v.6h-.6zM371.1 327.3h.6v.6h-.6zM374.9 323.4h.6v.6h-.6zM371.6 314.0h.6v.6h-.6zM366.6 339.2h.6v.6h-.6zM372.5 320.3h.6v.6h-.6zM371.5 335.2h.6v.6h-.6zM352.0 315.1h.6v.6h-.6zM363.0 322.2h.6v.6h-.6zM369.1 320.9h.6v.6h-.6zM371.1 326.8h.6v.6h-.6zM357.8 320.5h.6v.6h-.6zM357.0 328.5h.6v.6h-.6zM372.7 331.7h.6v.6h-.6zM360.8 321.3h.6v.6h-.6zM353.0 329.0h.6v.6h-.6zM381.3 329.9h.6v.6h-.6zM376.6 328.0h.6v.6h-.6zM373.9 334.2h.6v.6h-.6zM367.2 333.3h.6v.6h-.6zM379.1 329.7h.6v.6h-.6zM372.8 314.9h.6v.6h-.6zM381.4 318.3h.6v.6h-.6zM363.2 318.5h.6v.6h-.6zM375.9 317.5h.6v.6h-.6zM374.8 330.9h.6v.6h-.6zM371.1 323.0h.6v.6h-.6zM376.2 337.5h.6v.6h-.6zM365.2 316.8h.6v.6h-.6zM363.7 318.3h.6v.6h-.6zM367.5 324.6h.6v.6h-.6zM361.5 322.3h.6v.6h-.6zM359.4 328.0h.6v.6h-.6zM372.3 339.2h.6v.6h-.6zM367.0 334.0h.6v.6h-.6zM373.3 317.9h.6v.6h-.6zM380.4 320.7h.6v.6h-.6zM373.7 322.5h.6v.6h-.6zM367.7 327.3h.6v.6h-.6zM383.8 311.3h.6v.6h-.6zM358.3 326.9h.6v.6h-.6zM380.2 324.4h.6v.6h-.6zM368.0 330.6h.6v.6h-.6zM386.5 318.1h.6v.6h-.6zM353.3 323.5h.6v.6h-.6zM378.0 314.5h.6v.6h-.6zM381.8 334.2h.6v.6h-.6zM378.3 318.6h.6v.6h-.6zM356.5 331.7h.6v.6h-.6zM372.7 332.0h.6v.6h-.6zM381.7 334.7h.6v.6h-.6zM367.1 325.9h.6v.6h-.6zM374.7 332.5h.6v.6h-.6zM368.0 321.5h.6v.6h-.6zM359.8 334.9h.6v.6h-.6zM373.6 321.0h.6v.6h-.6zM356.6 321.5h.6v.6h-.6zM356.6 322.1h.6v.6h-.6zM364.3 330.5h.6v.6h-.6zM363.7 314.0h.6v.6h-.6zM377.8 324.2h.6v.6h-.6zM352.5 318.4h.6v.6h-.6zM369.7 325.6h.6v.6h-.6zM350.7 324.9h.6v.6h-.6zM373.1 334.6h.6v.6h-.6zM381.5 324.9h.6v.6h-.6zM356.4 322.7h.6v.6h-.6zM376.8 318.0h.6v.6h-.6zM383.2 317.6h.6v.6h-.6zM358.2 333.2h.6v.6h-.6zM368.9 328.8h.6v.6h-.6zM366.8 326.3h.6v.6h-.6zM376.9 324.9h.6v.6h-.6zM374.9 333.3h.6v.6h-.6zM364.5 327.5h.6v.6h-.6zM372.1 321.1h.6v.6h-.6zM361.9 324.2h.6v.6h-.6zM366.8 322.4h.6v.6h-.6zM349.6 326.7h.6v.6h-.6zM376.8 326.6h.6v.6h-.6zM387.9 333.5h.6v.6h-.6zM366.3 320.1h.6v.6h-.6zM375.2 322.7h.6v.6h-.6zM353.1 327.0h.6v.6h-.6zM366.9 324.0h.6v.6h-.6zM376.4 327.7h.6v.6h-.6zM391.2 319.5h.6v.6h-.6zM369.0 328.7h.6v.6h-.6zM365.4 321.5h.6v.6h-.6zM388.3 313.3h.6v.6h-.6zM357.8 335.9h.6v.6h-.6zM386.1 327.1h.6v.6h-.6zM372.5 316.4h.6v.6h-.6zM366.3 314.5h.6v.6h-.6zM369.0 325.2h.6v.6h-.6zM371.3 332.9h.6v.6h-.6zM357.8 315.0h.6v.6h-.6zM366.1 322.2h.6v.6h-.6zM369.5 337.9h.6v.6h-.6zM370.3 316.6h.6v.6h-.6zM366.8 318.4h.6v.6h-.6zM367.5 331.0h.6v.6h-.6zM358.1 332.1h.6v.6h-.6zM388.7 339.2h.6v.6h-.6zM387.0 326.8h.6v.6h-.6zM369.5 328.0h.6v.6h-.6zM366.3 317.8h.6v.6h-.6zM376.5 313.9h.6v.6h-.6zM355.6 330.8h.6v.6h-.6zM366.1 318.7h.6v.6h-.6zM375.2 338.3h.6v.6h-.6zM367.0 324.8h.6v.6h-.6zM375.9 334.1h.6v.6h-.6zM380.8 331.9h.6v.6h-.6zM363.0 330.6h.6v.6h-.6zM370.1 311.3h.6v.6h-.6zM382.9 331.0h.6v.6h-.6zM384.3 325.4h.6v.6h-.6zM377.6 325.4h.6v.6h-.6zM371.7 333.9h.6v.6h-.6zM370.6 331.3h.6v.6h-.6zM369.6 336.6h.6v.6h-.6zM376.8 311.7h.6v.6h-.6zM387.4 329.8h.6v.6h-.6zM364.7 320.6h.6v.6h-.6zM390.8 326.8h.6v.6h-.6zM375.3 331.2h.6v.6h-.6zM392.0 319.3h.6v.6h-.6zM381.9 311.9h.6v.6h-.6zM366.5 326.5h.6v.6h-.6zM370.5 330.9h.6v.6h-.6zM374.2 329.2h.6v.6h-.6zM368.6 328.6h.6v.6h-.6zM370.6 336.7h.6v.6h-.6zM371.1 324.7h.6v.6h-.6zM368.1 314.9h.6v.6h-.6zM391.7 329.6h.6v.6h-.6zM371.4 322.0h.6v.6h-.6zM383.4 323.2h.6v.6h-.6zM365.2 321.3h.6v.6h-.6zM386.1 328.7h.6v.6h-.6zM368.5 320.5h.6v.6h-.6zM383.4 328.5h.6v.6h-.6zM366.6 333.7h.6v.6h-.6zM379.2 317.4h.6v.6h-.6zM382.0 335.4h.6v.6h-.6zM367.5 314.5h.6v.6h-.6zM381.4 323.1h.6v.6h-.6zM367.9 323.5h.6v.6h-.6zM367.2 333.2h.6v.6h-.6zM358.6 330.6h.6v.6h-.6zM382.1 335.1h.6v.6h-.6zM377.5 328.3h.6v.6h-.6zM368.0 325.0h.6v.6h-.6zM368.8 317.3h.6v.6h-.6zM378.7 339.0h.6v.6h-.6zM372.9 323.3h.6v.6h-.6zM358.5 331.6h.6v.6h-.6zM367.5 320.3h.6v.6h-.6zM376.3 314.9h.6v.6h-.6zM363.6 313.7h.6v.6h-.6zM367.5 332.9h.6v.6h-.6zM356.6 337.7h.6v.6h-.6zM363.0 321.9h.6v.6h-.6zM380.4 319.8h.6v.6h-.6zM385.1 324.3h.6v.6h-.6zM369.1 317.8h.6v.6h-.6zM382.0 325.5h.6v.6h-.6zM365.1 317.9h.6v.6h-.6zM363.5 325.2h.6v.6h-.6zM362.7 332.8h.6v.6h-.6zM369.7 320.7h.6v.6h-.6zM374.9 338.2h.6v.6h-.6zM381.3 327.2h.6v.6h-.6zM378.6 312.8h.6v.6h-.6zM362.4 334.7h.6v.6h-.6zM369.2 326.5h.6v.6h-.6zM376.6 329.2h.6v.6h-.6zM374.8 321.8h.6v.6h-.6zM367.0 337.2h.6v.6h-.6zM365.0 313.7h.6v.6h-.6zM366.5 333.7h.6v.6h-.6zM388.6 327.3h.6v.6h-.6zM363.8 331.2h.6v.6h-.6zM373.3 336.1h.6v.6h-.6zM375.5 332.5h.6v.6h-.6zM375.4 329.6h.6v.6h-.6zM360.8 324.6h.6v.6h-.6zM386.6 337.4h.6v.6h-.6zM380.1 329.4h.6v.6h-.6zM369.0 329.0h.6v.6h-.6zM366.8 335.3h.6v.6h-.6zM367.0 319.5h.6v.6h-.6zM353.6 339.3h.6v.6h-.6zM362.4 318.7h.6v.6h-.6zM377.0 323.2h.6v.6h-.6zM376.0 319.0h.6v.6h-.6zM367.6 326.3h.6v.6h-.6zM370.4 332.7h.6v.6h-.6zM378.8 323.6h.6v.6h-.6zM372.9 318.8h.6v.6h-.6zM364.0 323.1h.6v.6h-.6zM380.6 320.1h.6v.6h-.6zM354.3 317.4h.6v.6h-.6zM358.0 324.5h.6v.6h-.6zM367.2 316.1h.6v.6h-.6zM362.2 322.5h.6v.6h-.6zM374.3 331.2h.6v.6h-.6zM383.8 323.8h.6v.6h-.6zM376.7 326.7h.6v.6h-.6zM359.1 320.6h.6v.6h-.6zM387.1 333.1h.6v.6h-.6zM387.3 324.4h.6v.6h-.6zM379.8 323.4h.6v.6h-.6zM359.0 316.1h.6v.6h-.6zM374.8 312.3h.6v.6h-.6zM374.1 318.6h.6v.6h-.6zM374.0 314.4h.6v.6h-.6zM379.0 324.1h.6v.6h-.6zM354.8 313.8h.6v.6h-.6zM371.0 312.1h.6v.6h-.6zM373.7 330.2h.6v.6h-.6zM363.7 337.9h.6v.6h-.6zM385.1 328.7h.6v.6h-.6zM375.0 330.0h.6v.6h-.6zM367.7 337.2h.6v.6h-.6zM370.6 329.8h.6v.6h-.6zM378.8 316.6h.6v.6h-.6zM384.5 319.1h.6v.6h-.6zM376.8 332.2h.6v.6h-.6zM372.2 335.7h.6v.6h-.6zM375.4 322.5h.6v.6h-.6zM353.9 338.1h.6v.6h-.6zM386.1 321.1h.6v.6h-.6zM360.4 335.6h.6v.6h-.6zM371.0 317.8h.6v.6h-.6zM365.5 326.6h.6v.6h-.6zM380.4 339.3h.6v.6h-.6zM364.1 339.1h.6v.6h-.6zM355.1 332.1h.6v.6h-.6zM369.0 329.7h.6v.6h-.6zM366.0 320.0h.6v.6h-.6zM373.3 335.6h.6v.6h-.6zM366.3 316.9h.6v.6h-.6zM356.8 330.4h.6v.6h-.6zM376.1 331.5h.6v.6h-.6zM350.2 313.1h.6v.6h-.6zM364.2 322.3h.6v.6h-.6zM388.3 322.7h.6v.6h-.6zM371.7 334.5h.6v.6h-.6zM387.4 329.2h.6v.6h-.6zM362.8 323.4h.6v.6h-.6zM383.7 328.7h.6v.6h-.6zM382.7 326.9h.6v.6h-.6zM370.9 321.1h.6v.6h-.6zM357.9 330.3h.6v.6h-.6zM374.1 330.9h.6v.6h-.6zM365.0 322.4h.6v.6h-.6zM374.3 331.2h.6v.6h-.6zM390.7 318.6h.6v.6h-.6zM380.5 333.6h.6v.6h-.6zM367.8 327.2h.6v.6h-.6zM369.9 339.0h.6v.6h-.6zM367.8 334.1h.6v.6h-.6zM375.5 324.4h.6v.6h-.6zM378.1 333.4h.6v.6h-.6zM366.4 333.3h.6v.6h-.6zM367.3 327.4h.6v.6h-.6zM355.7 338.6h.6v.6h-.6zM366.6 327.3h.6v.6h-.6zM370.0 332.5h.6v.6h-.6zM364.6 332.4h.6v.6h-.6zM362.0 313.4h.6v.6h-.6zM375.7 327.4h.6v.6h-.6zM371.6 320.5h.6v.6h-.6zM368.5 322.7h.6v.6h-.6zM366.6 320.3h.6v.6h-.6zM380.8 311.4h.6v.6h-.6zM353.5 329.0h.6v.6h-.6zM390.9 319.5h.6v.6h-.6zM361.3 316.1h.6v.6h-.6zM360.1 336.7h.6v.6h-.6zM377.4 333.7h.6v.6h-.6zM374.0 328.0h.6v.6h-.6zM364.5 317.8h.6v.6h-.6zM366.7 336.8h.6v.6h-.6zM363.3 326.4h.6v.6h-.6zM387.7 325.4h.6v.6h-.6zM376.9 321.2h.6v.6h-.6zM389.5 315.5h.6v.6h-.6zM376.1 324.0h.6v.6h-.6zM372.4 329.1h.6v.6h-.6zM383.8 333.5h.6v.6h-.6zM381.1 329.2h.6v.6h-.6zM359.6 337.5h.6v.6h-.6zM386.1 330.1h.6v.6h-.6zM378.5 324.0h.6v.6h-.6zM355.8 334.4h.6v.6h-.6zM377.4 325.9h.6v.6h-.6zM364.2 326.9h.6v.6h-.6zM360.2 322.8h.6v.6h-.6zM386.7 323.5h.6v.6h-.6zM389.1 325.2h.6v.6h-.6zM374.7 318.1h.6v.6h-.6zM367.4 322.2h.6v.6h-.6zM376.4 325.3h.6v.6h-.6zM359.3 326.3h.6v.6h-.6zM359.7 317.7h.6v.6h-.6zM352.7 330.8h.6v.6h-.6zM356.1 324.9h.6v.6h-.6zM371.0 319.6h.6v.6h-.6zM388.5 330.6h.6v.6h-.6zM364.0 311.9h.6v.6h-.6zM372.2 320.3h.6v.6h-.6zM380.8 317.1h.6v.6h-.6zM382.6 322.1h.6v.6h-.6zM372.4 323.7h.6v.6h-.6zM376.7 335.9h.6v.6h-.6zM364.9 318.3h.6v.6h-.6zM389.7 334.2h.6v.6h-.6zM389.8 334.2h.6v.6h-.6zM363.6 322.4h.6v.6h-.6zM366.3 331.9h.6v.6h-.6zM361.7 324.5h.6v.6h-.6zM361.8 324.0h.6v.6h-.6zM381.8 335.5h.6v.6h-.6zM363.2 329.9h.6v.6h-.6zM358.3 336.7h.6v.6h-.6zM369.1 328.3h.6v.6h-.6zM383.1 326.3h.6v.6h-.6zM363.9 320.8h.6v.6h-.6zM360.8 330.7h.6v.6h-.6zM365.6 330.4h.6v.6h-.6zM355.0 322.3h.6v.6h-.6zM391.4 329.1h.6v.6h-.6zM369.3 336.2h.6v.6h-.6zM373.2 339.2h.6v.6h-.6zM358.5 332.6h.6v.6h-.6zM359.5 331.9h.6v.6h-.6zM361.6 329.6h.6v.6h-.6zM375.0 319.8h.6v.6h-.6zM372.8 316.9h.6v.6h-.6zM380.2 333.9h.6v.6h-.6zM368.7 331.9h.6v.6h-.6zM351.2 328.9h.6v.6h-.6zM365.7 319.3h.6v.6h-.6zM379.5 334.6h.6v.6h-.6zM363.9 322.4h.6v.6h-.6zM368.1 326.5h.6v.6h-.6zM360.5 328.0h.6v.6h-.6zM381.1 320.6h.6v.6h-.6zM376.1 324.7h.6v.6h-.6zM368.7 327.0h.6v.6h-.6zM385.7 330.5h.6v.6h-.6zM377.3 327.3h.6v.6h-.6zM370.1 326.8h.6v.6h-.6zM365.1 312.7h.6v.6h-.6zM375.9 315.9h.6v.6h-.6zM368.4 321.6h.6v.6h-.6zM363.9 319.4h.6v.6h-.6zM365.3 332.7h.6v.6h-.6zM386.7 334.0h.6v.6h-.6zM370.1 324.8h.6v.6h-.6zM367.7 325.8h.6v.6h-.6zM363.9 324.5h.6v.6h-.6zM378.9 324.1h.6v.6h-.6zM361.9 325.0h.6v.6h-.6zM371.1 325.3h.6v.6h-.6zM367.6 332.1h.6v.6h-.6zM369.8 317.3h.6v.6h-.6zM376.0 319.9h.6v.6h-.6zM378.1 333.1h.6v.6h-.6zM375.2 328.7h.6v.6h-.6zM356.4 324.3h.6v.6h-.6zM371.5 331.5h.6v.6h-.6zM358.7 324.7h.6v.6h-.6zM354.5 327.5h.6v.6h-.6zM371.0 327.1h.6v.6h-.6zM387.2 332.3h.6v.6h-.6zM368.2 321.0h.6v.6h-.6zM365.6 332.8h.6v.6h-.6zM379.6 321.7h.6v.6h-.6zM369.0 322.3h.6v.6h-.6zM377.2 327.7h.6v.6h-.6zM362.8 318.4h.6v.6h-.6zM383.6 314.0h.6v.6h-.6zM391.1 321.4h.6v.6h-.6zM379.0 330.8h.6v.6h-.6zM378.8 335.8h.6v.6h-.6zM365.4 325.9h.6v.6h-.6zM380.3 330.8h.6v.6h-.6zM362.4 319.5h.6v.6h-.6zM355.3 328.3h.6v.6h-.6zM364.7 312.6h.6v.6h-.6zM364.4 328.8h.6v.6h-.6zM372.1 324.1h.6v.6h-.6zM371.9 331.6h.6v.6h-.6zM357.9 319.0h.6v.6h-.6zM380.2 332.3h.6v.6h-.6zM355.7 319.8h.6v.6h-.6zM385.1 332.5h.6v.6h-.6zM368.7 334.8h.6v.6h-.6zM384.3 338.2h.6v.6h-.6zM355.8 314.9h.6v.6h-.6zM364.9 325.6h.6v.6h-.6zM366.5 328.1h.6v.6h-.6zM385.5 335.5h.6v.6h-.6zM380.4 326.0h.6v.6h-.6zM387.2 330.0h.6v.6h-.6zM372.7 325.9h.6v.6h-.6zM369.9 333.8h.6v.6h-.6zM358.2 334.8h.6v.6h-.6zM372.7 317.9h.6v.6h-.6zM380.2 326.1h.6v.6h-.6zM359.9 329.3h.6v.6h-.6zM359.5 334.4h.6v.6h-.6zM372.5 325.4h.6v.6h-.6zM379.1 326.3h.6v.6h-.6zM380.9 338.2h.6v.6h-.6zM379.0 317.8h.6v.6h-.6zM377.1 323.8h.6v.6h-.6zM373.4 334.4h.6v.6h-.6zM363.3 327.8h.6v.6h-.6zM385.4 318.9h.6v.6h-.6zM368.2 332.3h.6v.6h-.6zM367.8 334.8h.6v.6h-.6zM359.7 313.2h.6v.6h-.6zM374.1 324.9h.6v.6h-.6zM373.4 334.3h.6v.6h-.6zM381.1 323.0h.6v.6h-.6zM360.1 328.1h.6v.6h-.6zM372.4 313.3h.6v.6h-.6zM378.3 325.7h.6v.6h-.6zM381.6 323.0h.6v.6h-.6zM380.2 316.5h.6v.6h-.6zM351.0 319.1h.6v.6h-.6zM377.5 329.5h.6v.6h-.6zM350.6 327.3h.6v.6h-.6zM378.3 330.4h.6v.6h-.6zM353.8 329.2h.6v.6h-.6zM349.8 323.5h.6v.6h-.6zM366.4 317.7h.6v.6h-.6zM359.7 324.8h.6v.6h-.6zM376.2 320.5h.6v.6h-.6zM373.3 332.1h.6v.6h-.6zM367.0 319.8h.6v.6h-.6zM350.5 335.2h.6v.6h-.6zM377.2 324.4h.6v.6h-.6zM373.4 324.9h.6v.6h-.6zM379.2 325.9h.6v.6h-.6zM372.5 325.4h.6v.6h-.6zM375.8 315.4h.6v.6h-.6zM374.3 331.5h.6v.6h-.6zM389.7 319.7h.6v.6h-.6zM371.7 334.1h.6v.6h-.6zM363.2 321.0h.6v.6h-.6zM381.4 334.2h.6v.6h-.6zM360.2 331.7h.6v.6h-.6zM382.0 315.2h.6v.6h-.6zM370.3 324.4h.6v.6h-.6zM376.9 311.2h.6v.6h-.6zM377.5 326.0h.6v.6h-.6zM376.9 329.7h.6v.6h-.6zM378.0 311.5h.6v.6h-.6zM372.3 337.5h.6v.6h-.6zM354.1 331.6h.6v.6h-.6zM362.6 330.7h.6v.6h-.6zM371.2 312.2h.6v.6h-.6zM359.3 336.9h.6v.6h-.6zM369.0 336.6h.6v.6h-.6zM373.7 333.6h.6v.6h-.6zM366.1 327.9h.6v.6h-.6zM366.3 333.8h.6v.6h-.6zM364.2 335.5h.6v.6h-.6zM386.5 315.7h.6v.6h-.6zM368.4 330.6h.6v.6h-.6zM388.6 335.8h.6v.6h-.6zM371.1 311.3h.6v.6h-.6zM378.9 321.0h.6v.6h-.6zM372.2 329.5h.6v.6h-.6zM355.5 335.1h.6v.6h-.6zM379.7 330.9h.6v.6h-.6zM376.4 329.1h.6v.6h-.6zM355.6 321.7h.6v.6h-.6zM378.6 323.2h.6v.6h-.6zM370.4 329.2h.6v.6h-.6zM371.1 328.2h.6v.6h-.6zM375.2 326.0h.6v.6h-.6zM358.7 323.7h.6v.6h-.6zM380.1 320.3h.6v.6h-.6zM375.0 328.6h.6v.6h-.6zM370.0 319.4h.6v.6h-.6zM363.6 334.0h.6v.6h-.6zM362.2 329.0h.6v.6h-.6zM371.4 327.7h.6v.6h-.6zM380.2 324.8h.6v.6h-.6zM367.3 320.3h.6v.6h-.6zM370.6 326.4h.6v.6h-.6zM360.6 339.9h.6v.6h-.6zM362.5 324.9h.6v.6h-.6zM357.0 327.3h.6v.6h-.6zM373.9 335.2h.6v.6h-.6zM380.3 321.8h.6v.6h-.6zM386.8 325.1h.6v.6h-.6zM366.0 316.9h.6v.6h-.6zM375.8 338.2h.6v.6h-.6zM374.3 335.3h.6v.6h-.6zM376.3 333.6h.6v.6h-.6zM383.9 323.5h.6v.6h-.6zM355.5 325.0h.6v.6h-.6zM362.0 315.9h.6v.6h-.6zM368.4 332.1h.6v.6h-.6zM351.0 313.2h.6v.6h-.6zM378.4 318.5h.6v.6h-.6zM366.1 337.5h.6v.6h-.6zM381.8 329.1h.6v.6h-.6zM375.9 329.3h.6v.6h-.6zM355.7 327.6h.6v.6h-.6zM374.9 325.0h.6v.6h-.6zM378.3 333.5h.6v.6h-.6zM370.7 323.9h.6v.6h-.6zM357.9 335.7h.6v.6h-.6zM364.2 328.7h.6v.6h-.6zM386.0 332.6h.6v.6h-.6zM357.0 325.3h.6v.6h-.6zM362.8 312.1h.6v.6h-.6zM361.8 331.0h.6v.6h-.6zM373.6 324.3h.6v.6h-.6zM371.9 316.1h.6v.6h-.6zM362.2 324.6h.6v.6h-.6zM378.4 323.3h.6v.6h-.6zM368.4 328.8h.6v.6h-.6zM385.3 315.3h.6v.6h-.6zM375.6 327.6h.6v.6h-.6zM369.4 328.1h.6v.6h-.6zM349.6 326.3h.6v.6h-.6zM367.7 315.5h.6v.6h-.6zM378.9 325.0h.6v.6h-.6zM366.6 332.4h.6v.6h-.6zM360.6 319.9h.6v.6h-.6zM378.7 333.4h.6v.6h-.6zM391.0 322.1h.6v.6h-.6zM355.1 313.4h.6v.6h-.6zM357.7 326.9h.6v.6h-.6zM367.7 320.3h.6v.6h-.6zM359.7 320.1h.6v.6h-.6zM366.3 336.1h.6v.6h-.6zM376.6 337.6h.6v.6h-.6zM378.6 332.5h.6v.6h-.6zM382.3 329.8h.6v.6h-.6zM386.0 335.6h.6v.6h-.6zM388.9 327.9h.6v.6h-.6zM367.2 330.4h.6v.6h-.6zM366.2 320.1h.6v.6h-.6zM374.6 316.5h.6v.6h-.6zM368.5 338.0h.6v.6h-.6zM371.4 333.0h.6v.6h-.6zM376.7 329.3h.6v.6h-.6zM371.2 331.2h.6v.6h-.6zM360.1 330.9h.6v.6h-.6zM359.0 319.6h.6v.6h-.6zM364.0 314.7h.6v.6h-.6zM349.7 329.2h.6v.6h-.6zM375.3 331.6h.6v.6h-.6zM377.8 319.7h.6v.6h-.6zM377.4 316.3h.6v.6h-.6zM390.5 317.8h.6v.6h-.6zM365.8 332.3h.6v.6h-.6zM360.2 327.7h.6v.6h-.6zM380.2 327.3h.6v.6h-.6zM379.8 321.8h.6v.6h-.6zM385.7 320.4h.6v.6h-.6zM361.1 326.2h.6v.6h-.6zM387.7 320.0h.6v.6h-.6zM369.8 323.0h.6v.6h-.6zM360.4 314.9h.6v.6h-.6zM376.2 332.0h.6v.6h-.6zM362.3 327.9h.6v.6h-.6zM374.7 329.2h.6v.6h-.6zM368.3 326.4h.6v.6h-.6zM372.9 317.0h.6v.6h-.6zM368.6 332.7h.6v.6h-.6zM364.3 337.1h.6v.6h-.6zM367.6 316.7h.6v.6h-.6zM367.0 314.5h.6v.6h-.6zM376.4 312.5h.6v.6h-.6zM370.2 324.0h.6v.6h-.6zM366.9 329.6h.6v.6h-.6zM373.0 321.3h.6v.6h-.6zM378.5 322.2h.6v.6h-.6zM379.3 337.4h.6v.6h-.6zM373.9 333.9h.6v.6h-.6zM356.2 330.8h.6v.6h-.6zM354.6 324.5h.6v.6h-.6zM362.0 319.5h.6v.6h-.6zM360.3 326.2h.6v.6h-.6zM376.6 316.2h.6v.6h-.6zM354.5 330.0h.6v.6h-.6zM379.1 319.1h.6v.6h-.6zM373.7 319.4h.6v.6h-.6zM363.4 322.0h.6v.6h-.6zM386.2 339.3h.6v.6h-.6zM369.9 331.4h.6v.6h-.6zM353.6 323.5h.6v.6h-.6zM367.1 324.7h.6v.6h-.6zM373.1 312.8h.6v.6h-.6zM352.1 326.5h.6v.6h-.6zM377.6 330.2h.6v.6h-.6zM370.6 312.3h.6v.6h-.6zM365.2 312.8h.6v.6h-.6zM390.3 329.1h.6v.6h-.6zM377.6 327.7h.6v.6h-.6zM366.0 336.0h.6v.6h-.6zM379.2 331.4h.6v.6h-.6zM376.1 332.3h.6v.6h-.6zM367.1 329.7h.6v.6h-.6zM370.9 323.9h.6v.6h-.6zM349.0 338.2h.6v.6h-.6zM365.5 336.2h.6v.6h-.6zM359.5 324.4h.6v.6h-.6zM380.6 325.4h.6v.6h-.6zM373.6 315.8h.6v.6h-.6zM371.6 325.3h.6v.6h-.6zM355.7 317.2h.6v.6h-.6zM359.3 325.6h.6v.6h-.6zM368.8 320.8h.6v.6h-.6zM363.1 326.9h.6v.6h-.6zM382.1 314.1h.6v.6h-.6zM355.3 335.6h.6v.6h-.6zM355.2 322.5h.6v.6h-.6zM369.2 335.1h.6v.6h-.6zM371.5 319.2h.6v.6h-.6zM378.5 338.5h.6v.6h-.6zM367.9 333.0h.6v.6h-.6zM359.1 338.5h.6v.6h-.6zM363.3 319.2h.6v.6h-.6zM362.1 311.0h.6v.6h-.6zM355.2 324.3h.6v.6h-.6zM374.7 321.2h.6v.6h-.6zM353.8 328.8h.6v.6h-.6zM380.4 326.9h.6v.6h-.6zM358.9 323.5h.6v.6h-.6zM350.0 325.5h.6v.6h-.6zM382.6 335.4h.6v.6h-.6zM369.1 329.7h.6v.6h-.6zM364.6 327.1h.6v.6h-.6zM363.8 327.4h.6v.6h-.6zM364.6 327.7h.6v.6h-.6zM377.2 325.8h.6v.6h-.6zM356.6 330.2h.6v.6h-.6zM367.5 321.8h.6v.6h-.6zM375.8 318.9h.6v.6h-.6zM379.7 330.7h.6v.6h-.6zM362.9 320.1h.6v.6h-.6zM368.8 318.3h.6v.6h-.6zM371.5 323.0h.6v.6h-.6zM358.7 331.4h.6v.6h-.6zM365.0 329.9h.6v.6h-.6zM365.5 323.6h.6v.6h-.6zM375.4 334.1h.6v.6h-.6zM380.3 325.8h.6v.6h-.6zM385.3 323.1h.6v.6h-.6zM355.1 318.7h.6v.6h-.6zM351.6 328.8h.6v.6h-.6zM370.3 325.7h.6v.6h-.6zM372.5 325.1h.6v.6h-.6zM367.4 323.3h.6v.6h-.6zM370.4 316.4h.6v.6h-.6zM383.2 339.1h.6v.6h-.6zM360.0 333.7h.6v.6h-.6zM353.3 331.1h.6v.6h-.6zM362.3 334.6h.6v.6h-.6zM371.2 334.1h.6v.6h-.6zM376.3 330.5h.6v.6h-.6zM367.2 339.6h.6v.6h-.6zM373.7 330.1h.6v.6h-.6zM384.8 323.8h.6v.6h-.6zM388.0 335.2h.6v.6h-.6zM370.8 313.7h.6v.6h-.6zM382.6 323.4h.6v.6h-.6zM371.0 327.1h.6v.6h-.6zM379.9 331.4h.6v.6h-.6zM351.2 320.4h.6v.6h-.6zM373.6 327.5h.6v.6h-.6zM378.2 330.8h.6v.6h-.6zM386.8 319.9h.6v.6h-.6zM383.5 329.3h.6v.6h-.6zM373.1 331.8h.6v.6h-.6zM366.6 332.1h.6v.6h-.6zM367.9 332.1h.6v.6h-.6zM362.2 336.0h.6v.6h-.6zM354.3 320.4h.6v.6h-.6zM369.5 328.1h.6v.6h-.6zM361.8 322.6h.6v.6h-.6zM372.7 334.9h.6v.6h-.6zM383.4 322.0h.6v.6h-.6zM369.4 323.4h.6v.6h-.6zM354.3 322.2h.6v.6h-.6zM381.7 314.6h.6v.6h-.6zM387.9 327.6h.6v.6h-.6zM386.5 321.1h.6v.6h-.6zM383.1 332.5h.6v.6h-.6zM378.1 332.4h.6v.6h-.6zM376.1 331.5h.6v.6h-.6zM382.4 329.6h.6v.6h-.6zM376.6 329.7h.6v.6h-.6zM371.5 318.6h.6v.6h-.6zM351.5 317.4h.6v.6h-.6zM357.3 313.4h.6v.6h-.6zM377.2 323.2h.6v.6h-.6zM378.0 322.1h.6v.6h-.6zM374.0 324.3h.6v.6h-.6zM386.6 336.9h.6v.6h-.6zM378.6 333.6h.6v.6h-.6zM358.0 320.8h.6v.6h-.6zM371.8 324.2h.6v.6h-.6zM362.4 325.1h.6v.6h-.6zM373.3 316.9h.6v.6h-.6zM368.2 326.1h.6v.6h-.6zM383.2 327.7h.6v.6h-.6zM384.3 328.9h.6v.6h-.6zM382.2 337.6h.6v.6h-.6zM385.9 327.7h.6v.6h-.6zM357.5 327.7h.6v.6h-.6zM375.0 320.0h.6v.6h-.6zM378.6 324.7h.6v.6h-.6zM378.3 327.7h.6v.6h-.6zM360.5 335.0h.6v.6h-.6zM390.8 333.9h.6v.6h-.6zM373.0 311.3h.6v.6h-.6zM373.4 325.8h.6v.6h-.6zM374.7 334.3h.6v.6h-.6zM350.5 329.0h.6v.6h-.6zM369.8 338.2h.6v.6h-.6zM369.8 317.8h.6v.6h-.6zM369.5 329.8h.6v.6h-.6zM362.5 319.3h.6v.6h-.6zM372.8 333.5h.6v.6h-.6zM367.7 330.2h.6v.6h-.6zM364.9 323.1h.6v.6h-.6zM372.1 334.3h.6v.6h-.6zM386.5 325.0h.6v.6h-.6zM378.7 323.0h.6v.6h-.6zM374.3 313.9h.6v.6h-.6zM362.8 314.6h.6v.6h-.6zM380.7 322.2h.6v.6h-.6zM371.0 326.7h.6v.6h-.6zM368.0 316.0h.6v.6h-.6zM369.8 332.0h.6v.6h-.6zM368.0 325.2h.6v.6h-.6zM373.3 328.1h.6v.6h-.6zM366.7 335.3h.6v.6h-.6zM375.3 338.9h.6v.6h-.6zM353.1 321.7h.6v.6h-.6zM374.8 312.1h.6v.6h-.6zM364.4 336.7h.6v.6h-.6zM373.6 320.0h.6v.6h-.6zM369.0 327.0h.6v.6h-.6zM365.8 323.4h.6v.6h-.6zM363.6 328.0h.6v.6h-.6zM386.4 338.5h.6v.6h-.6zM368.9 314.1h.6v.6h-.6zM354.9 327.3h.6v.6h-.6zM372.5 320.6h.6v.6h-.6zM361.9 324.2h.6v.6h-.6zM372.8 331.8h.6v.6h-.6zM364.1 328.3h.6v.6h-.6zM374.0 332.9h.6v.6h-.6zM354.9 339.5h.6v.6h-.6zM358.0 324.3h.6v.6h-.6zM365.4 322.0h.6v.6h-.6zM362.2 333.0h.6v.6h-.6zM378.2 329.1h.6v.6h-.6zM357.2 320.7h.6v.6h-.6zM369.6 329.5h.6v.6h-.6zM364.5 323.8h.6v.6h-.6zM378.8 315.8h.6v.6h-.6zM378.2 327.5h.6v.6h-.6zM362.1 332.9h.6v.6h-.6zM364.0 323.5h.6v.6h-.6zM370.4 327.9h.6v.6h-.6zM365.7 328.6h.6v.6h-.6zM370.2 327.7h.6v.6h-.6zM374.2 320.6h.6v.6h-.6zM356.2 325.4h.6v.6h-.6zM382.8 328.9h.6v.6h-.6zM372.5 319.7h.6v.6h-.6zM358.5 315.4h.6v.6h-.6zM360.8 322.9h.6v.6h-.6zM354.5 325.0h.6v.6h-.6zM354.2 331.6h.6v.6h-.6zM364.6 328.0h.6v.6h-.6zM374.1 332.7h.6v.6h-.6zM366.6 324.8h.6v.6h-.6zM367.8 330.7h.6v.6h-.6zM363.1 324.7h.6v.6h-.6zM371.7 323.1h.6v.6h-.6zM359.2 337.7h.6v.6h-.6zM375.3 318.2h.6v.6h-.6zM390.2 319.5h.6v.6h-.6zM361.3 322.9h.6v.6h-.6zM375.6 338.9h.6v.6h-.6zM384.1 330.8h.6v.6h-.6zM370.9 331.7h.6v.6h-.6zM362.2 320.0h.6v.6h-.6zM375.6 327.8h.6v.6h-.6zM372.6 317.3h.6v.6h-.6zM372.7 313.7h.6v.6h-.6zM379.6 326.2h.6v.6h-.6zM363.6 322.0h.6v.6h-.6zM363.1 337.8h.6v.6h-.6zM370.4 328.3h.6v.6h-.6zM360.5 314.8h.6v.6h-.6zM372.6 322.3h.6v.6h-.6zM375.3 335.1h.6v.6h-.6zM369.0 330.7h.6v.6h-.6zM372.0 328.1h.6v.6h-.6zM364.9 328.1h.6v.6h-.6zM374.6 326.7h.6v.6h-.6zM365.6 313.6h.6v.6h-.6zM359.4 339.5h.6v.6h-.6zM380.5 328.6h.6v.6h-.6zM373.2 324.8h.6v.6h-.6zM377.1 334.3h.6v.6h-.6zM367.7 328.7h.6v.6h-.6zM379.9 312.5h.6v.6h-.6zM360.7 321.2h.6v.6h-.6zM358.4 322.3h.6v.6h-.6zM361.6 322.7h.6v.6h-.6zM375.1 316.0h.6v.6h-.6zM371.2 337.9h.6v.6h-.6zM372.1 315.6h.6v.6h-.6zM364.1 336.1h.6v.6h-.6zM367.5 320.7h.6v.6h-.6zM378.1 319.9h.6v.6h-.6zM358.9 331.3h.6v.6h-.6zM370.4 320.5h.6v.6h-.6zM374.9 335.5h.6v.6h-.6zM381.2 327.0h.6v.6h-.6zM374.8 330.3h.6v.6h-.6zM363.5 321.3h.6v.6h-.6zM361.9 317.8h.6v.6h-.6zM381.3 326.1h.6v.6h-.6zM371.9 325.6h.6v.6h-.6zM359.8 325.2h.6v.6h-.6zM351.7 331.6h.6v.6h-.6zM357.9 330.3h.6v.6h-.6zM358.9 320.5h.6v.6h-.6zM378.2 331.2h.6v.6h-.6zM367.3 321.7h.6v.6h-.6zM351.2 317.2h.6v.6h-.6zM375.9 318.9h.6v.6h-.6zM361.4 334.2h.6v.6h-.6zM375.0 326.0h.6v.6h-.6zM379.4 323.2h.6v.6h-.6zM369.0 338.2h.6v.6h-.6zM364.2 329.7h.6v.6h-.6zM376.6 325.1h.6v.6h-.6zM379.1 330.5h.6v.6h-.6zM378.6 311.5h.6v.6h-.6zM359.8 328.6h.6v.6h-.6zM382.0 338.4h.6v.6h-.6zM370.4 319.7h.6v.6h-.6zM365.2 331.0h.6v.6h-.6zM369.5 313.4h.6v.6h-.6zM369.2 326.5h.6v.6h-.6zM362.7 338.6h.6v.6h-.6zM374.6 335.5h.6v.6h-.6zM371.2 317.7h.6v.6h-.6zM381.1 335.6h.6v.6h-.6zM364.3 314.7h.6v.6h-.6zM378.5 321.2h.6v.6h-.6zM358.5 325.4h.6v.6h-.6zM375.8 319.7h.6v.6h-.6zM370.6 334.6h.6v.6h-.6zM377.8 312.7h.6v.6h-.6zM379.5 325.4h.6v.6h-.6zM373.9 312.6h.6v.6h-.6zM364.3 321.6h.6v.6h-.6zM391.1 326.1h.6v.6h-.6zM382.6 311.9h.6v.6h-.6zM368.2 311.6h.6v.6h-.6zM388.9 317.0h.6v.6h-.6zM375.6 329.1h.6v.6h-.6zM378.9 317.6h.6v.6h-.6zM379.0 323.7h.6v.6h-.6zM375.5 328.1h.6v.6h-.6zM384.2 315.0h.6v.6h-.6zM356.2 331.7h.6v.6h-.6zM368.5 331.9h.6v.6h-.6zM358.1 326.9h.6v.6h-.6zM353.3 327.1h.6v.6h-.6zM365.2 334.1h.6v.6h-.6zM383.7 317.1h.6v.6h-.6zM361.4 329.9h.6v.6h-.6zM349.8 323.5h.6v.6h-.6zM377.5 338.4h.6v.6h-.6zM360.0 331.2h.6v.6h-.6zM370.0 332.1h.6v.6h-.6zM367.2 331.8h.6v.6h-.6zM360.4 317.7h.6v.6h-.6zM368.6 311.0h.6v.6h-.6zM382.6 323.9h.6v.6h-.6zM360.4 318.7h.6v.6h-.6zM360.5 327.2h.6v.6h-.6zM366.5 333.5h.6v.6h-.6zM358.6 325.5h.6v.6h-.6zM355.1 322.1h.6v.6h-.6zM383.8 325.1h.6v.6h-.6zM379.1 325.6h.6v.6h-.6zM359.2 318.5h.6v.6h-.6zM358.9 329.0h.6v.6h-.6zM387.0 333.4h.6v.6h-.6zM360.4 327.1h.6v.6h-.6zM363.0 336.2h.6v.6h-.6zM356.6 332.7h.6v.6h-.6zM357.9 322.1h.6v.6h-.6zM371.9 327.3h.6v.6h-.6zM369.6 325.5h.6v.6h-.6zM361.6 325.1h.6v.6h-.6zM369.5 318.0h.6v.6h-.6zM375.9 327.6h.6v.6h-.6zM362.6 337.3h.6v.6h-.6zM382.9 322.8h.6v.6h-.6zM384.9 329.8h.6v.6h-.6zM361.3 335.7h.6v.6h-.6zM374.8 334.1h.6v.6h-.6zM370.6 339.5h.6v.6h-.6zM379.5 323.2h.6v.6h-.6zM355.1 325.7h.6v.6h-.6zM370.9 317.6h.6v.6h-.6zM368.3 339.0h.6v.6h-.6zM365.4 335.8h.6v.6h-.6zM360.8 317.7h.6v.6h-.6zM379.6 324.6h.6v.6h-.6zM372.4 335.0h.6v.6h-.6zM386.5 315.4h.6v.6h-.6zM376.0 328.0h.6v.6h-.6zM367.7 320.9h.6v.6h-.6zM373.9 318.4h.6v.6h-.6zM373.4 319.7h.6v.6h-.6zM375.3 323.9h.6v.6h-.6zM363.0 330.8h.6v.6h-.6zM377.7 312.2h.6v.6h-.6zM357.2 323.8h.6v.6h-.6zM366.3 337.6h.6v.6h-.6zM386.1 330.2h.6v.6h-.6zM381.1 323.3h.6v.6h-.6zM356.4 328.7h.6v.6h-.6zM372.7 336.1h.6v.6h-.6zM363.7 312.1h.6v.6h-.6zM368.1 330.3h.6v.6h-.6zM368.0 321.7h.6v.6h-.6zM370.9 324.4h.6v.6h-.6zM384.1 314.7h.6v.6h-.6zM372.9 312.8h.6v.6h-.6zM369.7 329.9h.6v.6h-.6zM373.5 328.7h.6v.6h-.6zM362.6 313.5h.6v.6h-.6zM379.7 323.0h.6v.6h-.6zM356.4 339.5h.6v.6h-.6zM353.9 334.4h.6v.6h-.6zM373.4 336.9h.6v.6h-.6zM370.3 311.6h.6v.6h-.6zM368.5 322.3h.6v.6h-.6zM373.0 324.5h.6v.6h-.6zM375.8 315.5h.6v.6h-.6zM364.6 321.6h.6v.6h-.6zM374.3 311.2h.6v.6h-.6zM352.0 335.0h.6v.6h-.6zM371.1 334.7h.6v.6h-.6zM370.7 328.3h.6v.6h-.6zM373.8 330.0h.6v.6h-.6zM358.0 324.9h.6v.6h-.6zM388.4 338.4h.6v.6h-.6zM361.6 317.8h.6v.6h-.6zM368.4 335.3h.6v.6h-.6zM379.3 321.0h.6v.6h-.6zM353.4 336.4h.6v.6h-.6zM385.0 331.9h.6v.6h-.6zM376.1 331.0h.6v.6h-.6zM388.6 335.5h.6v.6h-.6zM384.6 316.1h.6v.6h-.6zM364.9 326.0h.6v.6h-.6zM369.9 325.5h.6v.6h-.6zM368.1 325.0h.6v.6h-.6zM366.7 313.7h.6v.6h-.6zM381.4 326.2h.6v.6h-.6zM373.7 326.4h.6v.6h-.6zM362.3 312.2h.6v.6h-.6zM367.2 330.7h.6v.6h-.6zM368.9 332.4h.6v.6h-.6zM362.1 323.5h.6v.6h-.6zM371.6 325.2h.6v.6h-.6zM371.8 338.5h.6v.6h-.6zM365.9 327.2h.6v.6h-.6zM363.5 330.8h.6v.6h-.6zM372.3 319.6h.6v.6h-.6zM359.9 315.6h.6v.6h-.6zM367.2 327.4h.6v.6h-.6zM365.1 325.1h.6v.6h-.6zM371.4 327.9h.6v.6h-.6zM389.7 329.3h.6v.6h-.6zM376.7 321.6h.6v.6h-.6zM364.6 332.8h.6v.6h-.6zM364.0 320.3h.6v.6h-.6zM355.0 328.6h.6v.6h-.6zM369.1 330.8h.6v.6h-.6zM361.3 315.3h.6v.6h-.6zM381.2 326.2h.6v.6h-.6zM378.0 316.1h.6v.6h-.6zM373.1 334.6h.6v.6h-.6zM351.7 316.6h.6v.6h-.6zM364.7 319.2h.6v.6h-.6zM367.9 319.1h.6v.6h-.6zM355.3 325.7h.6v.6h-.6zM371.3 319.3h.6v.6h-.6zM370.4 314.7h.6v.6h-.6zM366.7 323.1h.6v.6h-.6zM365.4 325.4h.6v.6h-.6zM357.3 314.4h.6v.6h-.6zM361.7 332.4h.6v.6h-.6zM360.5 317.9h.6v.6h-.6zM390.0 323.8h.6v.6h-.6zM366.2 318.3h.6v.6h-.6zM384.9 330.6h.6v.6h-.6zM372.7 339.9h.6v.6h-.6zM358.0 311.4h.6v.6h-.6zM381.2 329.8h.6v.6h-.6zM364.8 332.9h.6v.6h-.6zM357.2 329.1h.6v.6h-.6zM379.9 333.7h.6v.6h-.6zM366.4 322.6h.6v.6h-.6zM365.6 332.0h.6v.6h-.6zM366.0 324.8h.6v.6h-.6zM380.4 325.0h.6v.6h-.6zM372.5 324.9h.6v.6h-.6zM360.5 329.2h.6v.6h-.6zM363.6 320.7h.6v.6h-.6zM362.3 317.7h.6v.6h-.6zM351.9 330.0h.6v.6h-.6zM369.4 318.7h.6v.6h-.6zM365.9 334.5h.6v.6h-.6zM380.3 329.2h.6v.6h-.6zM381.7 334.8h.6v.6h-.6zM365.4 332.9h.6v.6h-.6zM371.6 332.7h.6v.6h-.6zM357.3 329.2h.6v.6h-.6zM364.8 322.8h.6v.6h-.6zM369.8 325.6h.6v.6h-.6zM387.2 325.5h.6v.6h-.6zM372.5 335.3h.6v.6h-.6zM385.3 317.6h.6v.6h-.6zM373.1 314.4h.6v.6h-.6zM375.0 338.4h.6v.6h-.6zM364.7 323.6h.6v.6h-.6zM382.0 329.8h.6v.6h-.6zM378.1 322.0h.6v.6h-.6zM366.8 322.8h.6v.6h-.6zM385.8 313.0h.6v.6h-.6zM364.8 339.6h.6v.6h-.6zM369.3 316.5h.6v.6h-.6zM372.4 324.1h.6v.6h-.6zM368.8 330.4h.6v.6h-.6zM378.0 312.9h.6v.6h-.6zM372.0 339.1h.6v.6h-.6zM356.4 325.2h.6v.6h-.6zM358.3 331.8h.6v.6h-.6zM361.4 323.1h.6v.6h-.6zM365.8 330.0h.6v.6h-.6zM356.8 313.8h.6v.6h-.6zM371.9 337.9h.6v.6h-.6zM364.9 329.6h.6v.6h-.6zM372.7 326.9h.6v.6h-.6zM369.8 321.2h.6v.6h-.6zM367.5 336.5h.6v.6h-.6zM374.5 337.2h.6v.6h-.6zM362.6 327.0h.6v.6h-.6zM363.5 314.4h.6v.6h-.6zM379.0 323.5h.6v.6h-.6zM372.4 313.6h.6v.6h-.6zM367.4 324.9h.6v.6h-.6zM366.1 334.9h.6v.6h-.6zM374.6 327.2h.6v.6h-.6zM372.3 322.1h.6v.6h-.6zM362.8 323.5h.6v.6h-.6zM359.7 324.5h.6v.6h-.6zM368.8 335.9h.6v.6h-.6zM364.7 327.2h.6v.6h-.6zM369.7 320.6h.6v.6h-.6zM381.2 320.9h.6v.6h-.6zM375.7 314.7h.6v.6h-.6zM383.7 316.8h.6v.6h-.6zM362.6 331.8h.6v.6h-.6zM374.4 312.6h.6v.6h-.6zM365.6 332.1h.6v.6h-.6zM366.0 339.3h.6v.6h-.6zM362.7 327.5h.6v.6h-.6zM381.6 339.0h.6v.6h-.6zM372.3 331.1h.6v.6h-.6zM366.6 325.4h.6v.6h-.6zM364.2 329.4h.6v.6h-.6zM378.4 317.1h.6v.6h-.6zM358.2 326.4h.6v.6h-.6zM390.1 328.0h.6v.6h-.6zM371.3 325.6h.6v.6h-.6zM353.1 319.7h.6v.6h-.6zM388.0 315.4h.6v.6h-.6zM385.0 324.8h.6v.6h-.6zM375.9 321.1h.6v.6h-.6zM365.4 327.8h.6v.6h-.6zM366.8 316.4h.6v.6h-.6zM367.1 331.7h.6v.6h-.6zM362.2 329.2h.6v.6h-.6zM356.4 326.8h.6v.6h-.6zM358.3 332.8h.6v.6h-.6zM359.4 331.4h.6v.6h-.6zM349.9 327.5h.6v.6h-.6zM381.0 318.7h.6v.6h-.6zM370.5 318.4h.6v.6h-.6zM374.8 332.7h.6v.6h-.6zM381.5 337.8h.6v.6h-.6zM383.0 319.5h.6v.6h-.6zM371.1 330.7h.6v.6h-.6zM371.8 314.3h.6v.6h-.6zM388.3 324.4h.6v.6h-.6zM375.2 333.0h.6v.6h-.6zM355.4 323.0h.6v.6h-.6zM374.9 331.8h.6v.6h-.6zM386.0 312.3h.6v.6h-.6zM373.9 334.2h.6v.6h-.6zM360.1 311.9h.6v.6h-.6zM372.6 322.0h.6v.6h-.6zM368.9 324.2h.6v.6h-.6zM368.7 328.7h.6v.6h-.6zM364.6 325.7h.6v.6h-.6zM364.2 318.2h.6v.6h-.6zM373.4 318.6h.6v.6h-.6zM375.3 325.7h.6v.6h-.6zM380.8 331.2h.6v.6h-.6zM349.7 325.7h.6v.6h-.6zM376.5 326.9h.6v.6h-.6zM370.3 335.6h.6v.6h-.6zM376.7 314.0h.6v.6h-.6zM370.8 334.9h.6v.6h-.6zM371.4 314.6h.6v.6h-.6zM377.7 331.3h.6v.6h-.6zM381.4 327.5h.6v.6h-.6zM371.0 333.6h.6v.6h-.6zM373.9 327.9h.6v.6h-.6zM377.5 333.0h.6v.6h-.6zM368.8 319.0h.6v.6h-.6zM379.0 334.3h.6v.6h-.6zM373.7 320.4h.6v.6h-.6zM370.9 317.5h.6v.6h-.6zM361.2 321.2h.6v.6h-.6zM356.6 327.4h.6v.6h-.6zM367.7 326.1h.6v.6h-.6zM370.3 321.8h.6v.6h-.6zM371.0 325.4h.6v.6h-.6zM362.7 323.2h.6v.6h-.6zM364.1 314.4h.6v.6h-.6zM375.2 325.7h.6v.6h-.6zM371.5 336.3h.6v.6h-.6zM379.5 322.0h.6v.6h-.6zM373.4 336.6h.6v.6h-.6zM368.3 329.3h.6v.6h-.6zM374.1 316.7h.6v.6h-.6zM372.7 322.5h.6v.6h-.6zM367.3 329.8h.6v.6h-.6zM376.5 317.9h.6v.6h-.6zM367.3 324.2h.6v.6h-.6zM360.3 329.3h.6v.6h-.6zM367.8 319.7h.6v.6h-.6zM379.3 325.2h.6v.6h-.6zM358.2 325.1h.6v.6h-.6zM368.0 328.6h.6v.6h-.6zM384.4 324.4h.6v.6h-.6zM374.6 330.4h.6v.6h-.6zM368.8 328.1h.6v.6h-.6zM365.3 332.1h.6v.6h-.6zM368.6 329.2h.6v.6h-.6zM371.3 311.5h.6v.6h-.6zM374.2 318.1h.6v.6h-.6zM371.9 322.2h.6v.6h-.6zM367.1 312.4h.6v.6h-.6zM356.7 321.0h.6v.6h-.6zM359.2 328.1h.6v.6h-.6zM355.8 327.9h.6v.6h-.6zM375.4 319.3h.6v.6h-.6zM360.2 322.9h.6v.6h-.6zM377.8 338.4h.6v.6h-.6zM391.5 326.7h.6v.6h-.6zM376.1 327.7h.6v.6h-.6zM369.7 316.4h.6v.6h-.6zM366.3 335.9h.6v.6h-.6zM383.7 320.6h.6v.6h-.6zM370.2 330.0h.6v.6h-.6zM373.0 317.3h.6v.6h-.6zM367.0 320.4h.6v.6h-.6zM354.3 321.5h.6v.6h-.6zM363.2 332.9h.6v.6h-.6zM385.6 319.4h.6v.6h-.6zM375.6 324.1h.6v.6h-.6zM350.0 336.4h.6v.6h-.6zM387.4 318.6h.6v.6h-.6zM376.2 321.4h.6v.6h-.6zM368.9 321.9h.6v.6h-.6zM368.4 326.4h.6v.6h-.6zM363.7 328.4h.6v.6h-.6zM356.8 333.2h.6v.6h-.6zM378.2 322.9h.6v.6h-.6zM364.5 334.1h.6v.6h-.6zM374.1 313.2h.6v.6h-.6zM364.8 320.0h.6v.6h-.6zM374.4 330.9h.6v.6h-.6zM364.6 325.7h.6v.6h-.6zM362.7 324.1h.6v.6h-.6zM361.1 315.9h.6v.6h-.6zM380.2 315.7h.6v.6h-.6zM376.4 317.0h.6v.6h-.6zM372.4 331.9h.6v.6h-.6zM360.1 318.6h.6v.6h-.6zM359.1 330.9h.6v.6h-.6zM372.8 335.0h.6v.6h-.6zM355.4 317.7h.6v.6h-.6zM368.7 322.0h.6v.6h-.6zM373.0 336.0h.6v.6h-.6zM371.2 318.8h.6v.6h-.6zM369.4 319.5h.6v.6h-.6zM367.7 325.4h.6v.6h-.6zM357.1 328.1h.6v.6h-.6zM377.2 332.1h.6v.6h-.6zM358.2 326.9h.6v.6h-.6zM379.1 321.8h.6v.6h-.6zM377.0 321.5h.6v.6h-.6zM369.8 320.8h.6v.6h-.6zM354.9 318.5h.6v.6h-.6zM371.6 323.4h.6v.6h-.6zM369.8 320.8h.6v.6h-.6zM378.7 324.4h.6v.6h-.6zM373.8 321.7h.6v.6h-.6zM383.0 325.1h.6v.6h-.6zM374.2 312.0h.6v.6h-.6zM363.1 328.9h.6v.6h-.6zM356.6 312.8h.6v.6h-.6zM368.7 311.9h.6v.6h-.6zM380.8 329.8h.6v.6h-.6zM366.7 336.8h.6v.6h-.6zM363.0 315.4h.6v.6h-.6zM379.0 326.1h.6v.6h-.6zM367.6 335.2h.6v.6h-.6zM368.5 331.7h.6v.6h-.6zM372.1 336.3h.6v.6h-.6zM375.4 321.8h.6v.6h-.6zM385.0 322.8h.6v.6h-.6zM387.4 314.6h.6v.6h-.6zM375.1 337.9h.6v.6h-.6zM365.9 330.2h.6v.6h-.6zM367.6 338.8h.6v.6h-.6zM373.3 329.1h.6v.6h-.6zM381.0 312.4h.6v.6h-.6zM376.9 327.2h.6v.6h-.6zM382.9 326.2h.6v.6h-.6zM376.0 325.5h.6v.6h-.6zM360.0 321.5h.6v.6h-.6zM368.1 314.1h.6v.6h-.6zM369.4 321.8h.6v.6h-.6zM388.2 323.8h.6v.6h-.6zM371.2 326.8h.6v.6h-.6zM376.9 311.6h.6v.6h-.6zM361.5 318.0h.6v.6h-.6zM381.7 328.6h.6v.6h-.6zM361.8 332.6h.6v.6h-.6zM366.8 329.0h.6v.6h-.6zM360.3 325.1h.6v.6h-.6zM365.0 328.5h.6v.6h-.6zM367.8 330.0h.6v.6h-.6zM381.6 315.9h.6v.6h-.6zM363.4 337.7h.6v.6h-.6zM375.4 334.9h.6v.6h-.6zM363.2 318.2h.6v.6h-.6zM358.6 324.2h.6v.6h-.6zM358.4 332.3h.6v.6h-.6zM363.0 330.6h.6v.6h-.6zM354.2 333.9h.6v.6h-.6zM376.7 334.4h.6v.6h-.6zM379.7 326.4h.6v.6h-.6zM386.1 322.8h.6v.6h-.6zM365.3 326.0h.6v.6h-.6zM372.5 327.6h.6v.6h-.6zM367.6 335.0h.6v.6h-.6zM391.7 322.6h.6v.6h-.6zM355.2 321.8h.6v.6h-.6zM356.1 314.7h.6v.6h-.6zM359.6 335.5h.6v.6h-.6zM371.5 332.3h.6v.6h-.6zM368.9 335.1h.6v.6h-.6zM365.9 337.6h.6v.6h-.6zM378.9 328.0h.6v.6h-.6zM355.2 316.2h.6v.6h-.6zM372.6 316.7h.6v.6h-.6zM368.3 324.6h.6v.6h-.6zM383.8 319.9h.6v.6h-.6zM371.3 321.9h.6v.6h-.6zM362.4 329.9h.6v.6h-.6zM379.7 313.3h.6v.6h-.6zM371.6 330.6h.6v.6h-.6zM359.5 322.4h.6v.6h-.6zM373.1 325.2h.6v.6h-.6zM383.9 318.2h.6v.6h-.6zM367.5 330.7h.6v.6h-.6zM369.3 323.8h.6v.6h-.6zM368.8 329.6h.6v.6h-.6zM377.5 316.6h.6v.6h-.6zM360.9 315.9h.6v.6h-.6zM370.0 330.4h.6v.6h-.6zM368.1 323.7h.6v.6h-.6zM372.6 319.4h.6v.6h-.6zM366.6 325.5h.6v.6h-.6zM351.6 331.5h.6v.6h-.6zM372.0 331.0h.6v.6h-.6zM364.0 332.6h.6v.6h-.6zM365.3 332.9h.6v.6h-.6zM383.6 331.6h.6v.6h-.6zM355.6 326.7h.6v.6h-.6zM372.0 314.7h.6v.6h-.6zM354.7 337.8h.6v.6h-.6zM360.0 329.7h.6v.6h-.6zM366.7 324.7h.6v.6h-.6zM365.6 326.1h.6v.6h-.6zM386.2 318.2h.6v.6h-.6zM375.2 330.3h.6v.6h-.6zM363.3 316.3h.6v.6h-.6zM361.1 331.1h.6v.6h-.6zM371.7 335.1h.6v.6h-.6zM373.7 327.1h.6v.6h-.6zM370.2 328.1h.6v.6h-.6zM370.5 332.0h.6v.6h-.6zM361.4 335.5h.6v.6h-.6zM386.4 325.2h.6v.6h-.6zM375.7 315.6h.6v.6h-.6zM371.1 313.3h.6v.6h-.6zM380.0 326.5h.6v.6h-.6zM380.9 336.0h.6v.6h-.6zM362.7 333.2h.6v.6h-.6zM369.0 330.9h.6v.6h-.6zM363.6 331.7h.6v.6h-.6zM376.1 338.9h.6v.6h-.6zM368.5 326.6h.6v.6h-.6zM375.1 324.5h.6v.6h-.6zM352.9 321.6h.6v.6h-.6zM377.0 326.2h.6v.6h-.6zM374.3 312.6h.6v.6h-.6zM376.0 330.8h.6v.6h-.6zM386.5 333.3h.6v.6h-.6zM363.9 319.5h.6v.6h-.6zM358.7 321.7h.6v.6h-.6zM369.1 337.1h.6v.6h-.6zM386.7 326.7h.6v.6h-.6zM376.1 324.6h.6v.6h-.6zM357.0 330.7h.6v.6h-.6zM362.7 311.8h.6v.6h-.6zM361.6 339.2h.6v.6h-.6zM358.4 338.1h.6v.6h-.6zM356.3 325.4h.6v.6h-.6zM375.2 322.5h.6v.6h-.6zM360.3 326.1h.6v.6h-.6zM386.9 331.9h.6v.6h-.6zM372.1 331.1h.6v.6h-.6zM382.0 337.8h.6v.6h-.6zM367.4 318.3h.6v.6h-.6zM360.2 326.6h.6v.6h-.6zM367.1 326.1h.6v.6h-.6zM363.1 338.6h.6v.6h-.6zM361.4 319.1h.6v.6h-.6zM358.3 316.4h.6v.6h-.6zM353.6 318.8h.6v.6h-.6zM367.6 332.2h.6v.6h-.6zM352.1 329.9h.6v.6h-.6zM368.9 326.0h.6v.6h-.6zM376.8 336.2h.6v.6h-.6zM367.1 337.0h.6v.6h-.6zM370.8 318.0h.6v.6h-.6zM375.4 334.7h.6v.6h-.6zM372.4 325.8h.6v.6h-.6zM367.6 332.0h.6v.6h-.6zM351.8 328.7h.6v.6h-.6zM357.1 321.5h.6v.6h-.6zM372.1 336.9h.6v.6h-.6zM369.9 317.9h.6v.6h-.6zM362.6 320.7h.6v.6h-.6zM371.1 314.3h.6v.6h-.6zM378.8 326.9h.6v.6h-.6zM365.9 327.9h.6v.6h-.6zM358.3 327.8h.6v.6h-.6zM373.7 336.5h.6v.6h-.6zM390.4 320.5h.6v.6h-.6zM373.9 319.1h.6v.6h-.6zM371.3 336.2h.6v.6h-.6zM376.6 323.5h.6v.6h-.6zM388.3 333.9h.6v.6h-.6zM382.5 326.8h.6v.6h-.6zM383.6 324.8h.6v.6h-.6zM378.9 326.4h.6v.6h-.6zM370.0 312.4h.6v.6h-.6zM380.0 331.1h.6v.6h-.6zM363.7 326.6h.6v.6h-.6zM376.2 331.7h.6v.6h-.6zM349.0 339.2h.6v.6h-.6zM381.7 327.3h.6v.6h-.6zM372.2 328.6h.6v.6h-.6zM365.9 339.4h.6v.6h-.6zM363.2 321.4h.6v.6h-.6zM367.7 312.1h.6v.6h-.6zM380.6 315.7h.6v.6h-.6zM385.5 334.4h.6v.6h-.6zM390.7 320.8h.6v.6h-.6zM367.0 322.1h.6v.6h-.6zM378.2 318.2h.6v.6h-.6zM370.5 327.9h.6v.6h-.6zM390.4 318.7h.6v.6h-.6zM380.0 331.1h.6v.6h-.6zM379.1 316.3h.6v.6h-.6zM380.0 327.6h.6v.6h-.6zM362.9 322.5h.6v.6h-.6zM385.8 311.3h.6v.6h-.6zM373.5 339.5h.6v.6h-.6zM377.6 325.7h.6v.6h-.6zM375.5 320.7h.6v.6h-.6zM366.1 328.9h.6v.6h-.6zM349.1 325.3h.6v.6h-.6zM368.9 336.1h.6v.6h-.6zM359.9 312.0h.6v.6h-.6zM379.2 323.0h.6v.6h-.6zM356.3 335.6h.6v.6h-.6zM371.2 314.0h.6v.6h-.6zM361.5 338.5h.6v.6h-.6zM385.6 332.2h.6v.6h-.6zM354.5 333.5h.6v.6h-.6zM361.6 321.6h.6v.6h-.6zM364.9 335.7h.6v.6h-.6zM375.4 331.2h.6v.6h-.6zM365.5 321.5h.6v.6h-.6zM381.2 320.6h.6v.6h-.6zM367.2 331.1h.6v.6h-.6zM368.3 334.9h.6v.6h-.6zM375.9 331.8h.6v.6h-.6zM391.8 314.5h.6v.6h-.6zM363.1 318.9h.6v.6h-.6zM377.4 337.4h.6v.6h-.6zM381.2 324.4h.6v.6h-.6zM379.1 317.6h.6v.6h-.6zM376.9 320.0h.6v.6h-.6zM375.1 317.5h.6v.6h-.6zM374.0 313.7h.6v.6h-.6zM361.9 327.3h.6v.6h-.6zM378.5 314.9h.6v.6h-.6zM360.6 311.4h.6v.6h-.6zM388.4 328.7h.6v.6h-.6zM373.5 322.1h.6v.6h-.6zM390.1 331.3h.6v.6h-.6zM369.1 337.1h.6v.6h-.6zM376.2 323.5h.6v.6h-.6zM366.3 326.1h.6v.6h-.6zM384.5 313.2h.6v.6h-.6zM352.8 332.2h.6v.6h-.6zM381.1 339.3h.6v.6h-.6zM376.1 312.4h.6v.6h-.6zM378.6 327.6h.6v.6h-.6zM359.6 311.5h.6v.6h-.6zM354.0 326.7h.6v.6h-.6zM356.7 329.3h.6v.6h-.6zM368.5 331.9h.6v.6h-.6zM379.2 317.7h.6v.6h-.6zM366.2 332.8h.6v.6h-.6zM363.4 335.3h.6v.6h-.6zM376.3 334.2h.6v.6h-.6zM363.9 333.2h.6v.6h-.6zM367.9 328.0h.6v.6h-.6zM376.7 320.9h.6v.6h-.6zM362.9 331.7h.6v.6h-.6zM355.2 323.3h.6v.6h-.6zM377.1 330.9h.6v.6h-.6zM355.3 329.7h.6v.6h-.6zM357.4 336.0h.6v.6h-.6zM374.2 320.2h.6v.6h-.6zM365.2 325.3h.6v.6h-.6zM364.1 336.7h.6v.6h-.6zM373.3 320.8h.6v.6h-.6zM374.8 313.4h.6v.6h-.6zM371.7 323.0h.6v.6h-.6zM364.2 325.5h.6v.6h-.6zM372.4 312.6h.6v.6h-.6zM378.3 320.6h.6v.6h-.6zM361.5 335.6h.6v.6h-.6zM364.2 337.5h.6v.6h-.6zM379.3 329.1h.6v.6h-.6zM361.5 335.6h.6v.6h-.6zM373.9 316.1h.6v.6h-.6zM375.8 324.5h.6v.6h-.6zM368.9 317.0h.6v.6h-.6zM372.2 333.9h.6v.6h-.6zM361.5 333.4h.6v.6h-.6zM351.4 327.0h.6v.6h-.6zM372.8 317.2h.6v.6h-.6zM371.7 314.0h.6v.6h-.6zM389.2 329.6h.6v.6h-.6zM381.2 317.5h.6v.6h-.6zM383.8 324.5h.6v.6h-.6zM381.9 329.7h.6v.6h-.6zM373.4 335.7h.6v.6h-.6zM364.1 322.2h.6v.6h-.6zM381.3 330.2h.6v.6h-.6zM364.6 316.1h.6v.6h-.6zM379.4 324.6h.6v.6h-.6zM356.9 329.7h.6v.6h-.6zM360.6 333.0h.6v.6h-.6zM365.2 325.5h.6v.6h-.6zM369.2 339.1h.6v.6h-.6zM373.4 324.5h.6v.6h-.6zM363.6 335.2h.6v.6h-.6zM363.1 329.8h.6v.6h-.6zM374.3 332.8h.6v.6h-.6zM378.0 328.6h.6v.6h-.6zM389.9 333.2h.6v.6h-.6zM362.5 317.7h.6v.6h-.6zM363.1 338.2h.6v.6h-.6zM374.3 320.6h.6v.6h-.6zM360.1 325.1h.6v.6h-.6zM377.7 325.3h.6v.6h-.6zM377.2 327.5h.6v.6h-.6zM383.6 321.5h.6v.6h-.6zM368.8 315.6h.6v.6h-.6zM366.9 316.9h.6v.6h-.6zM355.0 323.9h.6v.6h-.6zM357.4 313.2h.6v.6h-.6zM373.7 331.2h.6v.6h-.6zM373.3 324.3h.6v.6h-.6zM362.4 327.7h.6v.6h-.6zM361.4 323.9h.6v.6h-.6zM374.0 323.7h.6v.6h-.6zM354.3 335.1h.6v.6h-.6zM364.4 321.7h.6v.6h-.6zM364.6 325.4h.6v.6h-.6zM368.5 329.3h.6v.6h-.6zM349.0 325.0h.6v.6h-.6zM361.3 327.9h.6v.6h-.6zM360.1 326.6h.6v.6h-.6zM372.8 325.6h.6v.6h-.6zM372.4 332.0h.6v.6h-.6zM359.6 325.5h.6v.6h-.6zM380.4 334.5h.6v.6h-.6zM379.7 318.4h.6v.6h-.6zM363.5 335.0h.6v.6h-.6zM370.1 328.7h.6v.6h-.6zM366.6 334.3h.6v.6h-.6zM371.8 316.9h.6v.6h-.6zM373.7 322.8h.6v.6h-.6zM367.5 331.2h.6v.6h-.6zM371.5 320.7h.6v.6h-.6zM358.5 321.9h.6v.6h-.6zM368.7 315.1h.6v.6h-.6zM363.8 326.6h.6v.6h-.6zM357.9 323.0h.6v.6h-.6zM372.5 327.5h.6v.6h-.6zM353.3 326.3h.6v.6h-.6zM360.4 336.0h.6v.6h-.6zM373.6 315.3h.6v.6h-.6zM379.4 321.5h.6v.6h-.6zM369.0 326.9h.6v.6h-.6zM357.2 336.7h.6v.6h-.6zM371.5 316.5h.6v.6h-.6zM356.5 330.2h.6v.6h-.6zM382.0 329.7h.6v.6h-.6zM373.1 322.2h.6v.6h-.6zM380.9 331.0h.6v.6h-.6zM362.1 320.4h.6v.6h-.6zM374.3 333.0h.6v.6h-.6zM360.0 318.3h.6v.6h-.6zM386.0 334.3h.6v.6h-.6zM377.5 325.0h.6v.6h-.6zM369.6 327.3h.6v.6h-.6zM374.3 320.5h.6v.6h-.6zM364.8 317.3h.6v.6h-.6zM360.6 338.3h.6v.6h-.6zM363.4 319.1h.6v.6h-.6zM380.7 324.5h.6v.6h-.6zM369.6 332.4h.6v.6h-.6zM381.2 328.2h.6v.6h-.6zM385.4 319.9h.6v.6h-.6zM364.9 332.3h.6v.6h-.6z" fill="#555" filter="url(#sb)"/>
<rect x="306.20" y="268.20" width="87.20" height="72.60" fill="none" stroke="#111" stroke-width="1.8"/>
<line x1="347.60" y1="268.20" x2="347.60" y2="340.80" stroke="#111" stroke-width="1.6"/>
<line x1="306.20" y1="310.00" x2="393.40" y2="310.00" stroke="#111" stroke-width="1.6"/>
<text x="307.50" y="276.60" font-size="10" stroke="#1e1e1e" stroke-width="0.12" textLength="61.40" lengthAdjust="spacingAndGlyphs">Sorting strategy</text>
<text x="300.30" y="304.20" font-size="10" stroke="#1e1e1e" stroke-width="0.12" textLength="33.20" lengthAdjust="spacingAndGlyphs" transform="rotate(-90 300.30 304.20)">Cre-YFP</text>
<line x1="296.20" y1="314.00" x2="296.20" y2="337.00" stroke="#c8c8c8" stroke-width="1.3"/>
<path d="M296.2 310.8 L299.2 317 L296.2 315.4 L293.2 317 Z" fill="#444"/>
<path d="M461.0 301.5h.6v.6h-.6zM462.0 307.1h.6v.6h-.6zM452.6 299.0h.6v.6h-.6zM457.5 290.0h.6v.6h-.6zM461.5 297.7h.6v.6h-.6zM460.3 294.8h.6v.6h-.6zM468.7 292.8h.6v.6h-.6zM458.9 291.0h.6v.6h-.6zM470.7 290.6h.6v.6h-.6zM474.4 293.4h.6v.6h-.6zM462.7 306.3h.6v.6h-.6zM456.0 304.7h.6v.6h-.6zM454.4 295.7h.6v.6h-.6zM466.7 299.8h.6v.6h-.6zM465.2 299.6h.6v.6h-.6zM473.4 289.9h.6v.6h-.6zM458.5 302.5h.6v.6h-.6zM453.3 294.6h.6v.6h-.6zM479.1 304.8h.6v.6h-.6zM466.4 298.5h.6v.6h-.6zM461.9 293.6h.6v.6h-.6zM457.3 293.1h.6v.6h-.6zM454.6 298.7h.6v.6h-.6zM465.8 293.3h.6v.6h-.6zM463.9 291.4h.6v.6h-.6zM465.5 296.4h.6v.6h-.6zM462.6 299.0h.6v.6h-.6zM471.6 299.1h.6v.6h-.6zM458.7 298.9h.6v.6h-.6zM465.6 300.8h.6v.6h-.6zM470.0 293.9h.6v.6h-.6zM455.1 301.2h.6v.6h-.6zM455.6 300.4h.6v.6h-.6zM481.0 304.4h.6v.6h-.6zM453.3 293.9h.6v.6h-.6zM465.6 296.6h.6v.6h-.6zM467.6 299.3h.6v.6h-.6zM465.2 300.9h.6v.6h-.6zM452.7 303.9h.6v.6h-.6zM453.6 293.6h.6v.6h-.6zM447.1 298.1h.6v.6h-.6zM465.7 296.2h.6v.6h-.6zM455.1 287.1h.6v.6h-.6zM466.7 292.3h.6v.6h-.6zM460.6 299.3h.6v.6h-.6zM462.6 300.2h.6v.6h-.6zM474.0 301.7h.6v.6h-.6zM456.3 297.9h.6v.6h-.6zM461.5 293.8h.6v.6h-.6zM467.4 296.1h.6v.6h-.6zM464.6 301.3h.6v.6h-.6zM476.9 295.0h.6v.6h-.6zM467.8 309.0h.6v.6h-.6zM473.6 299.6h.6v.6h-.6zM458.1 298.9h.6v.6h-.6zM458.9 296.0h.6v.6h-.6zM451.6 296.6h.6v.6h-.6zM449.7 303.1h.6v.6h-.6zM466.5 296.0h.6v.6h-.6zM463.3 298.7h.6v.6h-.6zM461.3 299.6h.6v.6h-.6zM461.9 300.4h.6v.6h-.6zM457.6 298.5h.6v.6h-.6zM474.2 294.0h.6v.6h-.6zM457.7 302.9h.6v.6h-.6zM465.1 298.9h.6v.6h-.6zM464.3 296.1h.6v.6h-.6zM459.5 300.7h.6v.6h-.6zM464.2 301.4h.6v.6h-.6zM466.0 309.4h.6v.6h-.6zM463.6 305.2h.6v.6h-.6zM464.1 309.5h.6v.6h-.6zM469.6 294.3h.6v.6h-.6zM473.6 295.3h.6v.6h-.6zM469.8 294.3h.6v.6h-.6zM465.4 298.9h.6v.6h-.6zM472.6 287.3h.6v.6h-.6zM450.2 303.1h.6v.6h-.6zM468.1 295.6h.6v.6h-.6zM463.7 289.3h.6v.6h-.6zM460.5 294.8h.6v.6h-.6zM469.0 299.4h.6v.6h-.6zM462.0 304.0h.6v.6h-.6zM458.7 302.0h.6v.6h-.6zM461.5 300.5h.6v.6h-.6zM461.1 305.3h.6v.6h-.6zM460.1 308.4h.6v.6h-.6zM468.4 294.0h.6v.6h-.6zM460.1 305.0h.6v.6h-.6zM472.9 292.1h.6v.6h-.6z" fill="#bbb" filter="url(#sb)"/>
<rect x="397.80" y="275.00" width="1.20" height="0.80" fill="#aaa"/>
<rect x="397.80" y="291.00" width="1.20" height="0.80" fill="#aaa"/>
<rect x="397.80" y="308.00" width="1.20" height="0.80" fill="#aaa"/>
<rect x="397.80" y="325.00" width="1.20" height="0.80" fill="#aaa"/>
<rect x="397.80" y="334.00" width="1.20" height="0.80" fill="#aaa"/>
<rect x="402.10" y="268.80" width="87.00" height="72.70" fill="none" stroke="#111" stroke-width="1.8"/>
<line x1="442.00" y1="268.80" x2="442.00" y2="341.50" stroke="#111" stroke-width="1.5"/>
<line x1="402.10" y1="312.30" x2="489.10" y2="312.30" stroke="#111" stroke-width="1.5"/>
<text x="410.00" y="278.30" font-size="10" stroke="#1e1e1e" stroke-width="0.12" textLength="46.20" lengthAdjust="spacingAndGlyphs">Post sorting</text>
<line x1="304.60" y1="348.60" x2="418.00" y2="348.60" stroke="#c0c0c0" stroke-width="1.3"/>
<path d="M423.6 348.6 L416.4 345.3 L418.2 348.6 L416.4 351.9 Z" fill="#555"/>
<text x="420.40" y="366.30" font-size="9.2" stroke="#1e1e1e" stroke-width="0.12" textLength="60.10" lengthAdjust="spacingAndGlyphs">Test Gene-GFP</text>
<text x="149.40" y="377.90" font-size="14.2" stroke="#111" stroke-width="0.3" font-family="'Liberation Sans', sans-serif" font-weight="bold" fill="#111">F</text>
<line x1="190.20" y1="381.10" x2="190.20" y2="523.30" stroke="#a8a8a8" stroke-width="1"/>
<line x1="188.00" y1="523.30" x2="294.60" y2="523.30" stroke="#888" stroke-width="1.1"/>
<line x1="187.80" y1="523.30" x2="190.20" y2="523.30" stroke="#a8a8a8" stroke-width="1"/>
<line x1="187.80" y1="499.60" x2="190.20" y2="499.60" stroke="#a8a8a8" stroke-width="1"/>
<line x1="187.80" y1="475.90" x2="190.20" y2="475.90" stroke="#a8a8a8" stroke-width="1"/>
<line x1="187.80" y1="452.20" x2="190.20" y2="452.20" stroke="#a8a8a8" stroke-width="1"/>
<line x1="187.80" y1="428.50" x2="190.20" y2="428.50" stroke="#a8a8a8" stroke-width="1"/>
<line x1="187.80" y1="404.80" x2="190.20" y2="404.80" stroke="#a8a8a8" stroke-width="1"/>
<line x1="187.80" y1="381.10" x2="190.20" y2="381.10" stroke="#a8a8a8" stroke-width="1"/>
<text x="185.80" y="527.00" font-size="12" stroke="#1e1e1e" stroke-width="0.12" text-anchor="end">0</text>
<text x="185.80" y="503.30" font-size="12" stroke="#1e1e1e" stroke-width="0.12" text-anchor="end" textLength="12.00" lengthAdjust="spacingAndGlyphs">10</text>
<text x="185.80" y="479.60" font-size="12" stroke="#1e1e1e" stroke-width="0.12" text-anchor="end" textLength="12.00" lengthAdjust="spacingAndGlyphs">20</text>
<text x="185.80" y="455.90" font-size="12" stroke="#1e1e1e" stroke-width="0.12" text-anchor="end" textLength="12.00" lengthAdjust="spacingAndGlyphs">30</text>
<text x="185.80" y="432.20" font-size="12" stroke="#1e1e1e" stroke-width="0.12" text-anchor="end" textLength="12.00" lengthAdjust="spacingAndGlyphs">40</text>
<text x="185.80" y="408.50" font-size="12" stroke="#1e1e1e" stroke-width="0.12" text-anchor="end" textLength="12.00" lengthAdjust="spacingAndGlyphs">50</text>
<text x="185.80" y="384.80" font-size="12" stroke="#1e1e1e" stroke-width="0.12" text-anchor="end" textLength="12.00" lengthAdjust="spacingAndGlyphs">60</text>
<text x="171.90" y="511.80" font-size="15.5" stroke="#1e1e1e" stroke-width="0.12" textLength="116.80" lengthAdjust="spacingAndGlyphs" transform="rotate(-90 171.90 511.80)">% Annexin V+ cells</text>
<rect x="196.50" y="516.81" width="10.40" height="6.49" fill="#1f1f1f" stroke="#111" stroke-width="1.1"/>
<rect x="207.90" y="517.40" width="9.90" height="5.90" fill="#fff" stroke="#111" stroke-width="1.1"/>
<rect x="222.40" y="450.09" width="10.20" height="73.21" fill="#1f1f1f" stroke="#111" stroke-width="1.1"/>
<rect x="233.60" y="500.81" width="10.70" height="22.49" fill="#fff" stroke="#111" stroke-width="1.1"/>
<rect x="247.20" y="416.68" width="10.00" height="106.62" fill="#1f1f1f" stroke="#111" stroke-width="1.1"/>
<rect x="258.20" y="515.03" width="10.10" height="8.27" fill="#fff" stroke="#111" stroke-width="1.1"/>
<rect x="271.30" y="419.99" width="10.00" height="103.31" fill="#1f1f1f" stroke="#111" stroke-width="1.1"/>
<rect x="282.30" y="515.98" width="10.60" height="7.32" fill="#fff" stroke="#111" stroke-width="1.1"/>
<text x="207.00" y="535.30" font-size="10.5" stroke="#1e1e1e" stroke-width="0.12" text-anchor="middle">1</text>
<text x="232.90" y="535.30" font-size="10.5" stroke="#1e1e1e" stroke-width="0.12" text-anchor="middle">2</text>
<text x="256.00" y="535.30" font-size="10.5" stroke="#1e1e1e" stroke-width="0.12" text-anchor="middle">3</text>
<text x="281.10" y="535.30" font-size="10.5" stroke="#1e1e1e" stroke-width="0.12" text-anchor="middle">4</text>
<text x="216.30" y="383.30" font-size="10" stroke="#1e1e1e" stroke-width="0.2" font-style="italic" textLength="48.10" lengthAdjust="spacing">Tak1fx/fx</text>
<text x="290.80" y="376.20" font-size="14" stroke="#111" stroke-width="0.3" font-family="'Liberation Sans', sans-serif" font-weight="bold" fill="#111">G</text>
<line x1="321.60" y1="383.35" x2="321.60" y2="524.20" stroke="#a8a8a8" stroke-width="1"/>
<line x1="320.00" y1="524.20" x2="437.40" y2="524.20" stroke="#888" stroke-width="1.1"/>
<line x1="319.60" y1="524.20" x2="321.60" y2="524.20" stroke="#a8a8a8" stroke-width="1"/>
<line x1="319.60" y1="508.55" x2="321.60" y2="508.55" stroke="#a8a8a8" stroke-width="1"/>
<line x1="319.60" y1="492.90" x2="321.60" y2="492.90" stroke="#a8a8a8" stroke-width="1"/>
<line x1="319.60" y1="477.25" x2="321.60" y2="477.25" stroke="#a8a8a8" stroke-width="1"/>
<line x1="319.60" y1="461.60" x2="321.60" y2="461.60" stroke="#a8a8a8" stroke-width="1"/>
<line x1="319.60" y1="445.95" x2="321.60" y2="445.95" stroke="#a8a8a8" stroke-width="1"/>
<line x1="319.60" y1="430.30" x2="321.60" y2="430.30" stroke="#a8a8a8" stroke-width="1"/>
<line x1="319.60" y1="414.65" x2="321.60" y2="414.65" stroke="#a8a8a8" stroke-width="1"/>
<line x1="319.60" y1="399.00" x2="321.60" y2="399.00" stroke="#a8a8a8" stroke-width="1"/>
<line x1="319.60" y1="383.35" x2="321.60" y2="383.35" stroke="#a8a8a8" stroke-width="1"/>
<text x="319.00" y="528.60" font-size="13" stroke="#1e1e1e" stroke-width="0.12" text-anchor="end">0</text>
<text x="319.00" y="512.95" font-size="13" stroke="#1e1e1e" stroke-width="0.12" text-anchor="end">5</text>
<text x="319.00" y="497.30" font-size="13" stroke="#1e1e1e" stroke-width="0.12" text-anchor="end" textLength="15.00" lengthAdjust="spacingAndGlyphs">10</text>
<text x="319.00" y="481.65" font-size="13" stroke="#1e1e1e" stroke-width="0.12" text-anchor="end" textLength="15.00" lengthAdjust="spacingAndGlyphs">15</text>
<text x="319.00" y="466.00" font-size="13" stroke="#1e1e1e" stroke-width="0.12" text-anchor="end" textLength="15.00" lengthAdjust="spacingAndGlyphs">20</text>
<text x="319.00" y="450.35" font-size="13" stroke="#1e1e1e" stroke-width="0.12" text-anchor="end" textLength="15.00" lengthAdjust="spacingAndGlyphs">25</text>
<text x="319.00" y="434.70" font-size="13" stroke="#1e1e1e" stroke-width="0.12" text-anchor="end" textLength="15.00" lengthAdjust="spacingAndGlyphs">30</text>
<text x="319.00" y="419.05" font-size="13" stroke="#1e1e1e" stroke-width="0.12" text-anchor="end" textLength="15.00" lengthAdjust="spacingAndGlyphs">35</text>
<text x="319.00" y="403.40" font-size="13" stroke="#1e1e1e" stroke-width="0.12" text-anchor="end" textLength="15.00" lengthAdjust="spacingAndGlyphs">40</text>
<text x="319.00" y="387.75" font-size="13" stroke="#1e1e1e" stroke-width="0.12" text-anchor="end" textLength="15.00" lengthAdjust="spacingAndGlyphs">45</text>
<rect x="325.40" y="515.31" width="12.60" height="8.89" fill="#1f1f1f" stroke="#111" stroke-width="1.1"/>
<rect x="339.00" y="515.31" width="11.80" height="8.89" fill="#fff" stroke="#111" stroke-width="1.1"/>
<rect x="353.60" y="493.09" width="12.60" height="31.11" fill="#1f1f1f" stroke="#111" stroke-width="1.1"/>
<rect x="367.20" y="494.03" width="11.80" height="30.17" fill="#fff" stroke="#111" stroke-width="1.1"/>
<rect x="382.10" y="414.84" width="12.60" height="109.36" fill="#1f1f1f" stroke="#111" stroke-width="1.1"/>
<rect x="395.70" y="511.24" width="11.80" height="12.96" fill="#fff" stroke="#111" stroke-width="1.1"/>
<rect x="409.70" y="419.85" width="12.60" height="104.35" fill="#1f1f1f" stroke="#111" stroke-width="1.1"/>
<rect x="423.30" y="511.24" width="11.80" height="12.96" fill="#fff" stroke="#111" stroke-width="1.1"/>
<text x="338.80" y="535.80" font-size="10.5" stroke="#1e1e1e" stroke-width="0.12" text-anchor="middle">1</text>
<text x="367.70" y="535.80" font-size="10.5" stroke="#1e1e1e" stroke-width="0.12" text-anchor="middle">2</text>
<text x="394.00" y="535.80" font-size="10.5" stroke="#1e1e1e" stroke-width="0.12" text-anchor="middle">3</text>
<text x="421.00" y="535.80" font-size="10.5" stroke="#1e1e1e" stroke-width="0.12" text-anchor="middle">4</text>
<text x="332.00" y="380.00" font-size="10" stroke="#1e1e1e" stroke-width="0.2" font-style="italic" textLength="110.00" lengthAdjust="spacing">Tak1fx/fxTnfr1-/-r2-/-</text>
<text x="433.20" y="398.30" font-size="9.6" stroke="#1e1e1e" stroke-width="0.12" textLength="52.10" lengthAdjust="spacingAndGlyphs">1. MSCV-GFP</text>
<text x="433.20" y="414.70" font-size="9.6" stroke="#1e1e1e" stroke-width="0.12" textLength="22.90" lengthAdjust="spacingAndGlyphs">2. Cre</text>
<text x="433.20" y="433.00" font-size="9.6" stroke="#1e1e1e" stroke-width="0.12" textLength="88.00" lengthAdjust="spacing">3. Cre + Δ Caspase 8</text>
<text x="433.20" y="449.00" font-size="9.6" stroke="#1e1e1e" stroke-width="0.12" textLength="67.60" lengthAdjust="spacingAndGlyphs">4. Cre + Δ FADD</text>
</g>
</svg></body></html>
